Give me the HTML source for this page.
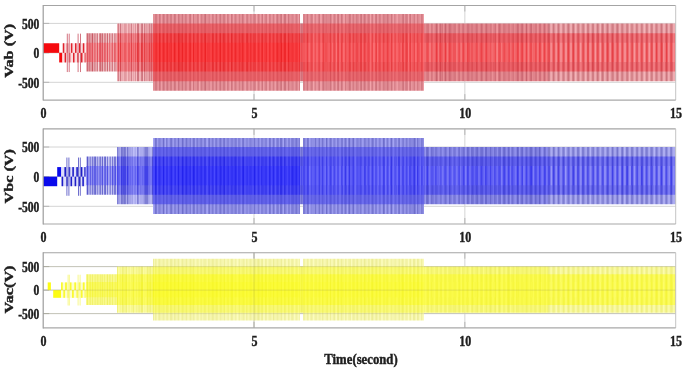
<!DOCTYPE html><html><head><meta charset="utf-8"><style>
html,body{margin:0;padding:0;background:#fff;width:685px;height:371px;overflow:hidden}
svg{position:absolute;left:0;top:0;filter:blur(0.55px)}
text{font-family:"Liberation Serif",serif;font-weight:bold;fill:#1e1e1e;stroke:#1e1e1e;stroke-width:0.45px}
</style></head><body>
<svg width="685" height="371" viewBox="0 0 685 371">
<path stroke="#d4d4d4" stroke-width="1" fill="none" d="M43.2 23.4H675.7M43.2 52.85H675.7M43.2 82.3H675.7M254.03 5.5V100.1M464.87 5.5V100.1"/>
<path fill="none" stroke-width="1" stroke="#b4b4b4" d="M43.2 23.4h6M43.2 52.85h6M43.2 82.3h6M254.03 100.1v-6M254.03 5.5v6M464.87 100.1v-6M464.87 5.5v6"/>
<g><path fill="#ca6e78" d="M205 14h1V90.8h-1z"/>
<path fill="#cf757e" d="M159 14h1V90.8h-1zM163 14h1V90.8h-1zM167 14h1V90.8h-1zM174 14h1V90.8h-1zM178 14h1V90.8h-1zM182 14h1V90.8h-1zM190 14h1V90.8h-1zM193 14h1V90.8h-1zM216 14h1V90.8h-1zM220 14h1V90.8h-1zM231 14h1V90.8h-1zM242 14h1V90.8h-1zM262 14h1V90.8h-1zM277 14h1V90.8h-1zM281 14h1V90.8h-1zM284 14h1V90.8h-1zM285 14h1V90.8h-1zM288 14h1V90.8h-1zM307 14h1V90.8h-1zM319 14h1V90.8h-1zM323 14h1V90.8h-1zM330 14h1V90.8h-1zM338 14h1V90.8h-1zM341 14h1V90.8h-1zM349 14h1V90.8h-1zM361 14h1V90.8h-1zM364 14h1V90.8h-1zM376 14h1V90.8h-1zM387 14h1V90.8h-1zM391 14h1V90.8h-1zM403 14h1V90.8h-1zM410 14h1V90.8h-1z"/>
<path fill="#d47c84" d="M155 14h1V90.8h-1zM156 14h1V90.8h-1zM170 14h1V90.8h-1zM171 14h1V90.8h-1zM175 14h1V90.8h-1zM185 14h1V90.8h-1zM189 14h1V90.8h-1zM197 14h1V90.8h-1zM201 14h1V90.8h-1zM204 14h1V90.8h-1zM212 14h1V90.8h-1zM223 14h1V90.8h-1zM224 14h1V90.8h-1zM227 14h1V90.8h-1zM235 14h1V90.8h-1zM239 14h1V90.8h-1zM247 14h1V90.8h-1zM254 14h1V90.8h-1zM258 14h1V90.8h-1zM266 14h1V90.8h-1zM269 14h1V90.8h-1zM273 14h1V90.8h-1zM280 14h1V90.8h-1zM296 14h1V90.8h-1zM299 14h1V90.8h-1zM311 14h1V90.8h-1zM334 14h1V90.8h-1zM337 14h1V90.8h-1zM345 14h1V90.8h-1zM350 14h1V90.8h-1zM353 14h1V90.8h-1zM356 14h1V90.8h-1zM360 14h1V90.8h-1zM368 14h1V90.8h-1zM372 14h1V90.8h-1zM375 14h1V90.8h-1zM379 14h1V90.8h-1zM383 14h1V90.8h-1zM402 14h1V90.8h-1zM406 14h1V90.8h-1zM414 14h1V90.8h-1zM417 14h1V90.8h-1zM421 14h1V90.8h-1z"/>
<path fill="#d9828b" d="M160 14h1V90.8h-1zM164 14h1V90.8h-1zM166 14h1V90.8h-1zM179 14h1V90.8h-1zM186 14h1V90.8h-1zM198 14h1V90.8h-1zM209 14h1V90.8h-1zM213 14h1V90.8h-1zM219 14h1V90.8h-1zM228 14h1V90.8h-1zM232 14h1V90.8h-1zM243 14h1V90.8h-1zM246 14h1V90.8h-1zM250 14h1V90.8h-1zM253 14h1V90.8h-1zM255 14h1V90.8h-1zM265 14h1V90.8h-1zM270 14h1V90.8h-1zM276 14h1V90.8h-1zM292 14h1V90.8h-1zM303 14h1V90.8h-1zM304 14h1V90.8h-1zM312 14h1V90.8h-1zM315 14h1V90.8h-1zM318 14h1V90.8h-1zM322 14h1V90.8h-1zM326 14h1V90.8h-1zM342 14h1V90.8h-1zM357 14h1V90.8h-1zM365 14h1V90.8h-1zM369 14h1V90.8h-1zM380 14h1V90.8h-1zM384 14h1V90.8h-1zM388 14h1V90.8h-1zM394 14h1V90.8h-1zM405 14h1V90.8h-1zM407 14h1V90.8h-1zM409 14h1V90.8h-1zM422 14h1V90.8h-1z"/>
<path fill="#de8991" d="M162 14h1V90.8h-1zM168 14h1V90.8h-1zM181 14h1V90.8h-1zM202 14h1V90.8h-1zM208 14h1V90.8h-1zM215 14h1V90.8h-1zM234 14h1V90.8h-1zM236 14h1V90.8h-1zM251 14h1V90.8h-1zM259 14h1V90.8h-1zM261 14h1V90.8h-1zM278 14h1V90.8h-1zM289 14h1V90.8h-1zM291 14h1V90.8h-1zM293 14h1V90.8h-1zM295 14h1V90.8h-1zM297 14h1V90.8h-1zM306 14h1V90.8h-1zM310 14h1V90.8h-1zM324 14h1V90.8h-1zM325 14h1V90.8h-1zM327 14h1V90.8h-1zM328 14h1V90.8h-1zM329 14h1V90.8h-1zM331 14h1V90.8h-1zM333 14h1V90.8h-1zM335 14h1V90.8h-1zM348 14h1V90.8h-1zM352 14h1V90.8h-1zM358 14h1V90.8h-1zM363 14h1V90.8h-1zM367 14h1V90.8h-1zM371 14h1V90.8h-1zM385 14h1V90.8h-1zM386 14h1V90.8h-1zM392 14h1V90.8h-1zM395 14h1V90.8h-1zM398 14h1V90.8h-1zM399 14h1V90.8h-1zM413 14h1V90.8h-1zM418 14h1V90.8h-1z"/>
<path fill="#e39097" d="M153 14h1V90.8h-1zM154 14h1V90.8h-1zM157 14h1V90.8h-1zM169 14h1V90.8h-1zM173 14h1V90.8h-1zM180 14h1V90.8h-1zM183 14h1V90.8h-1zM184 14h1V90.8h-1zM194 14h1V90.8h-1zM195 14h1V90.8h-1zM196 14h1V90.8h-1zM200 14h1V90.8h-1zM203 14h1V90.8h-1zM206 14h1V90.8h-1zM207 14h1V90.8h-1zM217 14h1V90.8h-1zM221 14h1V90.8h-1zM222 14h1V90.8h-1zM225 14h1V90.8h-1zM238 14h1V90.8h-1zM240 14h1V90.8h-1zM241 14h1V90.8h-1zM248 14h1V90.8h-1zM257 14h1V90.8h-1zM264 14h1V90.8h-1zM272 14h1V90.8h-1zM274 14h1V90.8h-1zM279 14h1V90.8h-1zM283 14h1V90.8h-1zM290 14h1V90.8h-1zM305 14h1V90.8h-1zM308 14h1V90.8h-1zM314 14h1V90.8h-1zM346 14h1V90.8h-1zM347 14h1V90.8h-1zM354 14h1V90.8h-1zM355 14h1V90.8h-1zM378 14h1V90.8h-1zM382 14h1V90.8h-1zM389 14h1V90.8h-1zM390 14h1V90.8h-1zM400 14h1V90.8h-1zM401 14h1V90.8h-1zM412 14h1V90.8h-1zM419 14h1V90.8h-1z"/>
<path fill="#e8969e" d="M158 14h1V90.8h-1zM165 14h1V90.8h-1zM172 14h1V90.8h-1zM176 14h1V90.8h-1zM177 14h1V90.8h-1zM187 14h1V90.8h-1zM188 14h1V90.8h-1zM191 14h1V90.8h-1zM210 14h1V90.8h-1zM211 14h1V90.8h-1zM214 14h1V90.8h-1zM218 14h1V90.8h-1zM229 14h1V90.8h-1zM237 14h1V90.8h-1zM244 14h1V90.8h-1zM249 14h1V90.8h-1zM252 14h1V90.8h-1zM271 14h1V90.8h-1zM286 14h1V90.8h-1zM287 14h1V90.8h-1zM294 14h1V90.8h-1zM309 14h1V90.8h-1zM316 14h1V90.8h-1zM317 14h1V90.8h-1zM339 14h1V90.8h-1zM340 14h1V90.8h-1zM351 14h1V90.8h-1zM359 14h1V90.8h-1zM362 14h1V90.8h-1zM366 14h1V90.8h-1zM373 14h1V90.8h-1zM377 14h1V90.8h-1zM381 14h1V90.8h-1zM396 14h1V90.8h-1zM404 14h1V90.8h-1zM411 14h1V90.8h-1zM415 14h1V90.8h-1zM416 14h1V90.8h-1zM420 14h1V90.8h-1z"/>
<path fill="#ed9da4" d="M161 14h1V90.8h-1zM192 14h1V90.8h-1zM226 14h1V90.8h-1zM230 14h1V90.8h-1zM233 14h1V90.8h-1zM245 14h1V90.8h-1zM260 14h1V90.8h-1zM263 14h1V90.8h-1zM267 14h1V90.8h-1zM268 14h1V90.8h-1zM275 14h1V90.8h-1zM282 14h1V90.8h-1zM298 14h1V90.8h-1zM320 14h1V90.8h-1zM321 14h1V90.8h-1zM332 14h1V90.8h-1zM336 14h1V90.8h-1zM343 14h1V90.8h-1zM344 14h1V90.8h-1zM374 14h1V90.8h-1zM393 14h1V90.8h-1zM397 14h1V90.8h-1zM423 14h1V90.8h-1z"/>
<path fill="#f2a4aa" d="M199 14h1V90.8h-1zM256 14h1V90.8h-1zM313 14h1V90.8h-1zM370 14h1V90.8h-1zM408 14h1V90.8h-1z"/>
<path fill="#c8646e" d="M436 23.6h1V81.2h-1zM445 23.6h1V81.2h-1zM526 23.6h1V81.2h-1z"/>
<path fill="#cc767e" d="M548 23.6h1V81.2h-1zM553 23.6h1V81.2h-1zM558 23.6h1V81.2h-1zM568 23.6h1V81.2h-1zM573 23.6h1V81.2h-1zM597 23.6h1V81.2h-1zM602 23.6h1V81.2h-1zM607 23.6h1V81.2h-1zM617 23.6h1V81.2h-1zM661 23.6h1V81.2h-1zM666 23.6h1V81.2h-1z"/>
<path fill="#cd6a74" d="M440 23.6h1V81.2h-1zM449 23.6h1V81.2h-1zM481 23.6h1V81.2h-1zM486 23.6h1V81.2h-1zM499 23.6h1V81.2h-1zM517 23.6h1V81.2h-1zM522 23.6h1V81.2h-1zM531 23.6h1V81.2h-1zM544 23.6h1V81.2h-1z"/>
<path fill="#ce7680" d="M120 23.6h1V81.2h-1zM137 23.6h1V81.2h-1zM138 23.6h1V81.2h-1zM142 23.6h1V81.2h-1z"/>
<path fill="#d17e85" d="M549 23.6h1V81.2h-1zM563 23.6h1V81.2h-1zM578 23.6h1V81.2h-1zM583 23.6h1V81.2h-1zM587 23.6h1V81.2h-1zM588 23.6h1V81.2h-1zM592 23.6h1V81.2h-1zM593 23.6h1V81.2h-1zM612 23.6h1V81.2h-1zM622 23.6h1V81.2h-1zM627 23.6h1V81.2h-1zM636 23.6h1V81.2h-1zM641 23.6h1V81.2h-1zM646 23.6h1V81.2h-1zM651 23.6h1V81.2h-1zM656 23.6h1V81.2h-1zM671 23.6h1V81.2h-1z"/>
<path fill="#d2707a" d="M301 23.6h1V81.2h-1zM450 23.6h1V81.2h-1zM459 23.6h1V81.2h-1zM463 23.6h1V81.2h-1zM467 23.6h1V81.2h-1zM468 23.6h1V81.2h-1zM476 23.6h1V81.2h-1zM495 23.6h1V81.2h-1zM518 23.6h1V81.2h-1zM521 23.6h1V81.2h-1zM530 23.6h1V81.2h-1zM539 23.6h1V81.2h-1zM540 23.6h1V81.2h-1z"/>
<path fill="#d37f88" d="M118 23.6h1V81.2h-1zM131 23.6h1V81.2h-1zM141 23.6h1V81.2h-1zM144 23.6h1V81.2h-1zM149 23.6h1V81.2h-1zM151 23.6h1V81.2h-1z"/>
<path fill="#d6777f" d="M302 23.6h1V81.2h-1zM427 23.6h1V81.2h-1zM428 23.6h1V81.2h-1zM431 23.6h1V81.2h-1zM437 23.6h1V81.2h-1zM442 23.6h1V81.2h-1zM454 23.6h1V81.2h-1zM455 23.6h1V81.2h-1zM458 23.6h1V81.2h-1zM462 23.6h1V81.2h-1zM471 23.6h1V81.2h-1zM472 23.6h1V81.2h-1zM477 23.6h1V81.2h-1zM482 23.6h1V81.2h-1zM485 23.6h1V81.2h-1zM490 23.6h1V81.2h-1zM498 23.6h1V81.2h-1zM500 23.6h1V81.2h-1zM503 23.6h1V81.2h-1zM504 23.6h1V81.2h-1zM508 23.6h1V81.2h-1zM509 23.6h1V81.2h-1zM513 23.6h1V81.2h-1zM535 23.6h1V81.2h-1zM536 23.6h1V81.2h-1z"/>
<path fill="#d6868c" d="M567 23.6h1V81.2h-1zM572 23.6h1V81.2h-1zM577 23.6h1V81.2h-1zM582 23.6h1V81.2h-1zM598 23.6h1V81.2h-1zM603 23.6h1V81.2h-1zM613 23.6h1V81.2h-1zM616 23.6h1V81.2h-1zM621 23.6h1V81.2h-1zM626 23.6h1V81.2h-1zM631 23.6h1V81.2h-1zM632 23.6h1V81.2h-1zM637 23.6h1V81.2h-1zM642 23.6h1V81.2h-1zM647 23.6h1V81.2h-1zM652 23.6h1V81.2h-1zM670 23.6h1V81.2h-1zM675 23.6h0.7V81.2h-0.7z"/>
<path fill="#d8525a" d="M330 23.6h1V81.2h-1zM338 23.6h1V81.2h-1zM364 23.6h1V81.2h-1z"/>
<path fill="#da5057" d="M159 23.6h1V81.2h-1zM182 23.6h1V81.2h-1z"/>
<path fill="#db565e" d="M307 23.6h1V81.2h-1zM323 23.6h1V81.2h-1zM334 23.6h1V81.2h-1zM349 23.6h1V81.2h-1zM353 23.6h1V81.2h-1zM361 23.6h1V81.2h-1zM376 23.6h1V81.2h-1zM383 23.6h1V81.2h-1zM387 23.6h1V81.2h-1zM406 23.6h1V81.2h-1zM410 23.6h1V81.2h-1z"/>
<path fill="#db7d85" d="M426 23.6h1V81.2h-1zM432 23.6h1V81.2h-1zM435 23.6h1V81.2h-1zM439 23.6h1V81.2h-1zM441 23.6h1V81.2h-1zM444 23.6h1V81.2h-1zM446 23.6h1V81.2h-1zM448 23.6h1V81.2h-1zM451 23.6h1V81.2h-1zM453 23.6h1V81.2h-1zM469 23.6h1V81.2h-1zM475 23.6h1V81.2h-1zM480 23.6h1V81.2h-1zM487 23.6h1V81.2h-1zM491 23.6h1V81.2h-1zM494 23.6h1V81.2h-1zM505 23.6h1V81.2h-1zM512 23.6h1V81.2h-1zM516 23.6h1V81.2h-1zM543 23.6h1V81.2h-1zM545 23.6h1V81.2h-1z"/>
<path fill="#db8d94" d="M554 23.6h1V81.2h-1zM557 23.6h1V81.2h-1zM559 23.6h1V81.2h-1zM562 23.6h1V81.2h-1zM564 23.6h1V81.2h-1zM569 23.6h1V81.2h-1zM601 23.6h1V81.2h-1zM606 23.6h1V81.2h-1zM608 23.6h1V81.2h-1zM611 23.6h1V81.2h-1zM618 23.6h1V81.2h-1zM655 23.6h1V81.2h-1zM657 23.6h1V81.2h-1zM660 23.6h1V81.2h-1zM662 23.6h1V81.2h-1zM667 23.6h1V81.2h-1zM672 23.6h1V81.2h-1z"/>
<path fill="#dd535a" d="M163 23.6h1V81.2h-1zM167 23.6h1V81.2h-1zM174 23.6h1V81.2h-1zM178 23.6h1V81.2h-1zM190 23.6h1V81.2h-1zM193 23.6h1V81.2h-1zM205 23.6h1V81.2h-1zM212 23.6h1V81.2h-1zM216 23.6h1V81.2h-1zM220 23.6h1V81.2h-1zM231 23.6h1V81.2h-1zM235 23.6h1V81.2h-1zM262 23.6h1V81.2h-1zM273 23.6h1V81.2h-1zM277 23.6h1V81.2h-1zM281 23.6h1V81.2h-1zM285 23.6h1V81.2h-1zM288 23.6h1V81.2h-1z"/>
<path fill="#dd9199" d="M135 23.6h1V81.2h-1z"/>
<path fill="#de5a62" d="M311 23.6h1V81.2h-1zM319 23.6h1V81.2h-1zM337 23.6h1V81.2h-1zM341 23.6h1V81.2h-1zM345 23.6h1V81.2h-1zM356 23.6h1V81.2h-1zM360 23.6h1V81.2h-1zM368 23.6h1V81.2h-1zM372 23.6h1V81.2h-1zM379 23.6h1V81.2h-1zM380 23.6h1V81.2h-1zM391 23.6h1V81.2h-1zM402 23.6h1V81.2h-1zM403 23.6h1V81.2h-1zM414 23.6h1V81.2h-1zM417 23.6h1V81.2h-1zM421 23.6h1V81.2h-1zM422 23.6h1V81.2h-1z"/>
<path fill="#df565d" d="M155 23.6h1V81.2h-1zM156 23.6h1V81.2h-1zM170 23.6h1V81.2h-1zM171 23.6h1V81.2h-1zM179 23.6h1V81.2h-1zM185 23.6h1V81.2h-1zM186 23.6h1V81.2h-1zM197 23.6h1V81.2h-1zM198 23.6h1V81.2h-1zM201 23.6h1V81.2h-1zM204 23.6h1V81.2h-1zM223 23.6h1V81.2h-1zM224 23.6h1V81.2h-1zM227 23.6h1V81.2h-1zM228 23.6h1V81.2h-1zM239 23.6h1V81.2h-1zM242 23.6h1V81.2h-1zM247 23.6h1V81.2h-1zM266 23.6h1V81.2h-1zM269 23.6h1V81.2h-1zM284 23.6h1V81.2h-1z"/>
<path fill="#e0838b" d="M300 23.6h1V81.2h-1zM424 23.6h1V81.2h-1zM452 23.6h1V81.2h-1zM464 23.6h1V81.2h-1zM466 23.6h1V81.2h-1zM470 23.6h1V81.2h-1zM473 23.6h1V81.2h-1zM474 23.6h1V81.2h-1zM488 23.6h1V81.2h-1zM489 23.6h1V81.2h-1zM493 23.6h1V81.2h-1zM506 23.6h1V81.2h-1zM507 23.6h1V81.2h-1zM511 23.6h1V81.2h-1zM515 23.6h1V81.2h-1zM520 23.6h1V81.2h-1zM523 23.6h1V81.2h-1zM525 23.6h1V81.2h-1zM527 23.6h1V81.2h-1zM529 23.6h1V81.2h-1zM533 23.6h1V81.2h-1zM534 23.6h1V81.2h-1zM547 23.6h1V81.2h-1z"/>
<path fill="#e0959b" d="M552 23.6h1V81.2h-1zM574 23.6h1V81.2h-1zM579 23.6h1V81.2h-1zM584 23.6h1V81.2h-1zM596 23.6h1V81.2h-1zM623 23.6h1V81.2h-1zM628 23.6h1V81.2h-1zM650 23.6h1V81.2h-1zM665 23.6h1V81.2h-1z"/>
<path fill="#e15e66" d="M312 23.6h1V81.2h-1zM315 23.6h1V81.2h-1zM318 23.6h1V81.2h-1zM322 23.6h1V81.2h-1zM326 23.6h1V81.2h-1zM333 23.6h1V81.2h-1zM342 23.6h1V81.2h-1zM348 23.6h1V81.2h-1zM350 23.6h1V81.2h-1zM357 23.6h1V81.2h-1zM365 23.6h1V81.2h-1zM367 23.6h1V81.2h-1zM369 23.6h1V81.2h-1zM375 23.6h1V81.2h-1zM384 23.6h1V81.2h-1zM388 23.6h1V81.2h-1zM394 23.6h1V81.2h-1zM398 23.6h1V81.2h-1zM399 23.6h1V81.2h-1zM405 23.6h1V81.2h-1zM407 23.6h1V81.2h-1zM409 23.6h1V81.2h-1z"/>
<path fill="#e25a60" d="M160 23.6h1V81.2h-1zM164 23.6h1V81.2h-1zM166 23.6h1V81.2h-1zM175 23.6h1V81.2h-1zM189 23.6h1V81.2h-1zM213 23.6h1V81.2h-1zM219 23.6h1V81.2h-1zM232 23.6h1V81.2h-1zM243 23.6h1V81.2h-1zM246 23.6h1V81.2h-1zM250 23.6h1V81.2h-1zM254 23.6h1V81.2h-1zM255 23.6h1V81.2h-1zM258 23.6h1V81.2h-1zM270 23.6h1V81.2h-1zM280 23.6h1V81.2h-1zM291 23.6h1V81.2h-1zM292 23.6h1V81.2h-1zM296 23.6h1V81.2h-1zM299 23.6h1V81.2h-1z"/>
<path fill="#e29aa1" d="M124 23.6h1V81.2h-1zM125 23.6h1V81.2h-1zM128 23.6h1V81.2h-1zM146 23.6h1V81.2h-1z"/>
<path fill="#e45d64" d="M154 23.6h1V81.2h-1zM162 23.6h1V81.2h-1zM168 23.6h1V81.2h-1zM173 23.6h1V81.2h-1zM181 23.6h1V81.2h-1zM194 23.6h1V81.2h-1zM202 23.6h1V81.2h-1zM208 23.6h1V81.2h-1zM209 23.6h1V81.2h-1zM215 23.6h1V81.2h-1zM217 23.6h1V81.2h-1zM234 23.6h1V81.2h-1zM236 23.6h1V81.2h-1zM248 23.6h1V81.2h-1zM251 23.6h1V81.2h-1zM253 23.6h1V81.2h-1zM257 23.6h1V81.2h-1zM259 23.6h1V81.2h-1zM261 23.6h1V81.2h-1zM265 23.6h1V81.2h-1zM276 23.6h1V81.2h-1zM278 23.6h1V81.2h-1zM289 23.6h1V81.2h-1zM297 23.6h1V81.2h-1z"/>
<path fill="#e4626a" d="M303 23.6h1V81.2h-1zM304 23.6h1V81.2h-1zM306 23.6h1V81.2h-1zM308 23.6h1V81.2h-1zM310 23.6h1V81.2h-1zM325 23.6h1V81.2h-1zM346 23.6h1V81.2h-1zM352 23.6h1V81.2h-1zM358 23.6h1V81.2h-1zM363 23.6h1V81.2h-1zM371 23.6h1V81.2h-1zM378 23.6h1V81.2h-1zM386 23.6h1V81.2h-1zM392 23.6h1V81.2h-1zM395 23.6h1V81.2h-1zM400 23.6h1V81.2h-1zM413 23.6h1V81.2h-1zM418 23.6h1V81.2h-1zM419 23.6h1V81.2h-1z"/>
<path fill="#e48a90" d="M425 23.6h1V81.2h-1zM434 23.6h1V81.2h-1zM447 23.6h1V81.2h-1zM457 23.6h1V81.2h-1zM460 23.6h1V81.2h-1zM461 23.6h1V81.2h-1zM465 23.6h1V81.2h-1zM478 23.6h1V81.2h-1zM479 23.6h1V81.2h-1zM483 23.6h1V81.2h-1zM484 23.6h1V81.2h-1zM501 23.6h1V81.2h-1zM502 23.6h1V81.2h-1zM510 23.6h1V81.2h-1zM514 23.6h1V81.2h-1zM519 23.6h1V81.2h-1zM532 23.6h1V81.2h-1zM538 23.6h1V81.2h-1zM541 23.6h1V81.2h-1z"/>
<path fill="#e59da2" d="M581 23.6h1V81.2h-1zM589 23.6h1V81.2h-1zM591 23.6h1V81.2h-1zM630 23.6h1V81.2h-1zM633 23.6h1V81.2h-1zM635 23.6h1V81.2h-1zM640 23.6h1V81.2h-1zM645 23.6h1V81.2h-1z"/>
<path fill="#e76067" d="M153 23.6h1V81.2h-1zM157 23.6h1V81.2h-1zM169 23.6h1V81.2h-1zM177 23.6h1V81.2h-1zM180 23.6h1V81.2h-1zM183 23.6h1V81.2h-1zM184 23.6h1V81.2h-1zM195 23.6h1V81.2h-1zM200 23.6h1V81.2h-1zM203 23.6h1V81.2h-1zM206 23.6h1V81.2h-1zM207 23.6h1V81.2h-1zM210 23.6h1V81.2h-1zM221 23.6h1V81.2h-1zM222 23.6h1V81.2h-1zM225 23.6h1V81.2h-1zM238 23.6h1V81.2h-1zM240 23.6h1V81.2h-1zM241 23.6h1V81.2h-1zM249 23.6h1V81.2h-1zM264 23.6h1V81.2h-1zM272 23.6h1V81.2h-1zM274 23.6h1V81.2h-1zM279 23.6h1V81.2h-1zM283 23.6h1V81.2h-1zM287 23.6h1V81.2h-1zM290 23.6h1V81.2h-1zM293 23.6h1V81.2h-1zM295 23.6h1V81.2h-1z"/>
<path fill="#e7676d" d="M314 23.6h1V81.2h-1zM324 23.6h1V81.2h-1zM327 23.6h1V81.2h-1zM328 23.6h1V81.2h-1zM329 23.6h1V81.2h-1zM331 23.6h1V81.2h-1zM335 23.6h1V81.2h-1zM347 23.6h1V81.2h-1zM354 23.6h1V81.2h-1zM355 23.6h1V81.2h-1zM359 23.6h1V81.2h-1zM366 23.6h1V81.2h-1zM381 23.6h1V81.2h-1zM382 23.6h1V81.2h-1zM385 23.6h1V81.2h-1zM389 23.6h1V81.2h-1zM390 23.6h1V81.2h-1zM401 23.6h1V81.2h-1zM412 23.6h1V81.2h-1zM420 23.6h1V81.2h-1z"/>
<path fill="#e7a3a9" d="M126 23.6h1V81.2h-1zM129 23.6h1V81.2h-1zM133 23.6h1V81.2h-1zM145 23.6h1V81.2h-1zM147 23.6h1V81.2h-1zM148 23.6h1V81.2h-1zM150 23.6h1V81.2h-1zM152 23.6h1V81.2h-1z"/>
<path fill="#e99096" d="M429 23.6h1V81.2h-1zM430 23.6h1V81.2h-1zM433 23.6h1V81.2h-1zM443 23.6h1V81.2h-1zM456 23.6h1V81.2h-1zM492 23.6h1V81.2h-1zM496 23.6h1V81.2h-1zM524 23.6h1V81.2h-1zM528 23.6h1V81.2h-1zM537 23.6h1V81.2h-1zM542 23.6h1V81.2h-1zM546 23.6h1V81.2h-1z"/>
<path fill="#ea646a" d="M158 23.6h1V81.2h-1zM165 23.6h1V81.2h-1zM176 23.6h1V81.2h-1zM187 23.6h1V81.2h-1zM188 23.6h1V81.2h-1zM191 23.6h1V81.2h-1zM196 23.6h1V81.2h-1zM211 23.6h1V81.2h-1zM214 23.6h1V81.2h-1zM229 23.6h1V81.2h-1zM237 23.6h1V81.2h-1zM244 23.6h1V81.2h-1zM252 23.6h1V81.2h-1zM268 23.6h1V81.2h-1zM271 23.6h1V81.2h-1zM282 23.6h1V81.2h-1zM286 23.6h1V81.2h-1zM294 23.6h1V81.2h-1z"/>
<path fill="#ea6b71" d="M305 23.6h1V81.2h-1zM309 23.6h1V81.2h-1zM316 23.6h1V81.2h-1zM317 23.6h1V81.2h-1zM320 23.6h1V81.2h-1zM332 23.6h1V81.2h-1zM339 23.6h1V81.2h-1zM351 23.6h1V81.2h-1zM362 23.6h1V81.2h-1zM373 23.6h1V81.2h-1zM377 23.6h1V81.2h-1zM396 23.6h1V81.2h-1zM397 23.6h1V81.2h-1zM404 23.6h1V81.2h-1zM411 23.6h1V81.2h-1zM415 23.6h1V81.2h-1zM416 23.6h1V81.2h-1z"/>
<path fill="#eaa4aa" d="M550 23.6h1V81.2h-1zM555 23.6h1V81.2h-1zM566 23.6h1V81.2h-1zM576 23.6h1V81.2h-1zM586 23.6h1V81.2h-1zM594 23.6h1V81.2h-1zM599 23.6h1V81.2h-1zM605 23.6h1V81.2h-1zM610 23.6h1V81.2h-1zM614 23.6h1V81.2h-1zM615 23.6h1V81.2h-1zM620 23.6h1V81.2h-1zM624 23.6h1V81.2h-1zM625 23.6h1V81.2h-1zM638 23.6h1V81.2h-1zM643 23.6h1V81.2h-1zM648 23.6h1V81.2h-1zM658 23.6h1V81.2h-1zM659 23.6h1V81.2h-1zM669 23.6h1V81.2h-1z"/>
<path fill="#ec676d" d="M172 23.6h1V81.2h-1zM192 23.6h1V81.2h-1zM199 23.6h1V81.2h-1zM218 23.6h1V81.2h-1zM226 23.6h1V81.2h-1zM230 23.6h1V81.2h-1zM233 23.6h1V81.2h-1zM245 23.6h1V81.2h-1zM260 23.6h1V81.2h-1zM263 23.6h1V81.2h-1zM267 23.6h1V81.2h-1zM275 23.6h1V81.2h-1zM298 23.6h1V81.2h-1z"/>
<path fill="#ecacb2" d="M117 23.6h1V81.2h-1zM121 23.6h1V81.2h-1zM122 23.6h1V81.2h-1zM130 23.6h1V81.2h-1z"/>
<path fill="#ed6f75" d="M313 23.6h1V81.2h-1zM321 23.6h1V81.2h-1zM340 23.6h1V81.2h-1zM343 23.6h1V81.2h-1zM344 23.6h1V81.2h-1zM374 23.6h1V81.2h-1zM393 23.6h1V81.2h-1zM408 23.6h1V81.2h-1zM423 23.6h1V81.2h-1z"/>
<path fill="#ee969c" d="M438 23.6h1V81.2h-1zM497 23.6h1V81.2h-1z"/>
<path fill="#ef6a70" d="M161 23.6h1V81.2h-1zM256 23.6h1V81.2h-1z"/>
<path fill="#efacb1" d="M551 23.6h1V81.2h-1zM556 23.6h1V81.2h-1zM560 23.6h1V81.2h-1zM561 23.6h1V81.2h-1zM565 23.6h1V81.2h-1zM570 23.6h1V81.2h-1zM571 23.6h1V81.2h-1zM580 23.6h1V81.2h-1zM590 23.6h1V81.2h-1zM595 23.6h1V81.2h-1zM604 23.6h1V81.2h-1zM609 23.6h1V81.2h-1zM619 23.6h1V81.2h-1zM634 23.6h1V81.2h-1zM639 23.6h1V81.2h-1zM653 23.6h1V81.2h-1zM654 23.6h1V81.2h-1zM663 23.6h1V81.2h-1zM664 23.6h1V81.2h-1zM668 23.6h1V81.2h-1zM673 23.6h1V81.2h-1zM674 23.6h1V81.2h-1z"/>
<path fill="#f07379" d="M336 23.6h1V81.2h-1zM370 23.6h1V81.2h-1z"/>
<path fill="#f1b5ba" d="M119 23.6h1V81.2h-1zM123 23.6h1V81.2h-1zM132 23.6h1V81.2h-1zM134 23.6h1V81.2h-1zM139 23.6h1V81.2h-1zM140 23.6h1V81.2h-1z"/>
<path fill="#f4b4b8" d="M575 23.6h1V81.2h-1zM585 23.6h1V81.2h-1zM600 23.6h1V81.2h-1zM629 23.6h1V81.2h-1zM644 23.6h1V81.2h-1zM649 23.6h1V81.2h-1z"/>
<path fill="#f6bec2" d="M127 23.6h1V81.2h-1zM136 23.6h1V81.2h-1zM143 23.6h1V81.2h-1z"/>
<path fill="#c85a64" d="M92 33.2h1V71.6h-1z"/>
<path fill="#ce6a73" d="M87 33.2h1V71.6h-1zM100 33.2h1V71.6h-1zM102 33.2h1V71.6h-1zM107 33.2h1V71.6h-1z"/>
<path fill="#d47982" d="M89 33.2h1V71.6h-1zM97 33.2h1V71.6h-1zM109 33.2h1V71.6h-1zM112 33.2h1V71.6h-1z"/>
<path fill="#d64048" d="M436 33.2h1V71.6h-1zM440 33.2h1V71.6h-1zM445 33.2h1V71.6h-1zM486 33.2h1V71.6h-1zM526 33.2h1V71.6h-1z"/>
<path fill="#d64850" d="M120 33.2h1V71.6h-1zM138 33.2h1V71.6h-1zM144 33.2h1V71.6h-1z"/>
<path fill="#d8464e" d="M548 33.2h1V71.6h-1zM558 33.2h1V71.6h-1zM568 33.2h1V71.6h-1zM573 33.2h1V71.6h-1zM588 33.2h1V71.6h-1zM592 33.2h1V71.6h-1zM607 33.2h1V71.6h-1zM612 33.2h1V71.6h-1zM661 33.2h1V71.6h-1zM666 33.2h1V71.6h-1z"/>
<path fill="#da464e" d="M449 33.2h1V71.6h-1zM463 33.2h1V71.6h-1zM467 33.2h1V71.6h-1zM476 33.2h1V71.6h-1zM481 33.2h1V71.6h-1zM499 33.2h1V71.6h-1zM517 33.2h1V71.6h-1zM521 33.2h1V71.6h-1zM522 33.2h1V71.6h-1zM544 33.2h1V71.6h-1z"/>
<path fill="#da5058" d="M118 33.2h1V71.6h-1zM131 33.2h1V71.6h-1zM137 33.2h1V71.6h-1zM141 33.2h1V71.6h-1zM142 33.2h1V71.6h-1zM151 33.2h1V71.6h-1z"/>
<path fill="#da8990" d="M94 33.2h1V71.6h-1zM99 33.2h1V71.6h-1zM104 33.2h1V71.6h-1zM105 33.2h1V71.6h-1zM114 33.2h1V71.6h-1z"/>
<path fill="#dc4d55" d="M549 33.2h1V71.6h-1zM553 33.2h1V71.6h-1zM563 33.2h1V71.6h-1zM578 33.2h1V71.6h-1zM583 33.2h1V71.6h-1zM587 33.2h1V71.6h-1zM593 33.2h1V71.6h-1zM597 33.2h1V71.6h-1zM598 33.2h1V71.6h-1zM602 33.2h1V71.6h-1zM617 33.2h1V71.6h-1zM622 33.2h1V71.6h-1zM627 33.2h1V71.6h-1zM632 33.2h1V71.6h-1zM636 33.2h1V71.6h-1zM641 33.2h1V71.6h-1zM646 33.2h1V71.6h-1zM651 33.2h1V71.6h-1zM656 33.2h1V71.6h-1zM671 33.2h1V71.6h-1z"/>
<path fill="#dd4c53" d="M301 33.2h1V71.6h-1zM427 33.2h1V71.6h-1zM428 33.2h1V71.6h-1zM450 33.2h1V71.6h-1zM468 33.2h1V71.6h-1zM472 33.2h1V71.6h-1zM495 33.2h1V71.6h-1zM513 33.2h1V71.6h-1zM518 33.2h1V71.6h-1zM530 33.2h1V71.6h-1zM531 33.2h1V71.6h-1zM535 33.2h1V71.6h-1zM539 33.2h1V71.6h-1zM540 33.2h1V71.6h-1z"/>
<path fill="#de5960" d="M149 33.2h1V71.6h-1z"/>
<path fill="#df545c" d="M554 33.2h1V71.6h-1zM557 33.2h1V71.6h-1zM567 33.2h1V71.6h-1zM572 33.2h1V71.6h-1zM577 33.2h1V71.6h-1zM616 33.2h1V71.6h-1zM626 33.2h1V71.6h-1zM631 33.2h1V71.6h-1zM637 33.2h1V71.6h-1zM642 33.2h1V71.6h-1zM647 33.2h1V71.6h-1zM652 33.2h1V71.6h-1zM670 33.2h1V71.6h-1zM675 33.2h0.7V71.6h-0.7z"/>
<path fill="#e0989f" d="M88 33.2h1V71.6h-1zM90 33.2h1V71.6h-1zM91 33.2h1V71.6h-1zM95 33.2h1V71.6h-1zM101 33.2h1V71.6h-1zM115 33.2h1V71.6h-1z"/>
<path fill="#e15158" d="M302 33.2h1V71.6h-1zM426 33.2h1V71.6h-1zM431 33.2h1V71.6h-1zM437 33.2h1V71.6h-1zM444 33.2h1V71.6h-1zM453 33.2h1V71.6h-1zM454 33.2h1V71.6h-1zM455 33.2h1V71.6h-1zM458 33.2h1V71.6h-1zM459 33.2h1V71.6h-1zM462 33.2h1V71.6h-1zM471 33.2h1V71.6h-1zM477 33.2h1V71.6h-1zM482 33.2h1V71.6h-1zM485 33.2h1V71.6h-1zM490 33.2h1V71.6h-1zM498 33.2h1V71.6h-1zM503 33.2h1V71.6h-1zM504 33.2h1V71.6h-1zM508 33.2h1V71.6h-1zM509 33.2h1V71.6h-1zM512 33.2h1V71.6h-1zM536 33.2h1V71.6h-1z"/>
<path fill="#e35c63" d="M559 33.2h1V71.6h-1zM562 33.2h1V71.6h-1zM564 33.2h1V71.6h-1zM569 33.2h1V71.6h-1zM582 33.2h1V71.6h-1zM601 33.2h1V71.6h-1zM603 33.2h1V71.6h-1zM606 33.2h1V71.6h-1zM608 33.2h1V71.6h-1zM611 33.2h1V71.6h-1zM613 33.2h1V71.6h-1zM618 33.2h1V71.6h-1zM621 33.2h1V71.6h-1zM655 33.2h1V71.6h-1zM657 33.2h1V71.6h-1zM660 33.2h1V71.6h-1zM662 33.2h1V71.6h-1zM665 33.2h1V71.6h-1zM667 33.2h1V71.6h-1zM672 33.2h1V71.6h-1z"/>
<path fill="#e4373c" d="M307 33.2h1V71.6h-1z"/>
<path fill="#e4575e" d="M432 33.2h1V71.6h-1zM435 33.2h1V71.6h-1zM439 33.2h1V71.6h-1zM441 33.2h1V71.6h-1zM442 33.2h1V71.6h-1zM448 33.2h1V71.6h-1zM451 33.2h1V71.6h-1zM469 33.2h1V71.6h-1zM480 33.2h1V71.6h-1zM487 33.2h1V71.6h-1zM491 33.2h1V71.6h-1zM493 33.2h1V71.6h-1zM494 33.2h1V71.6h-1zM500 33.2h1V71.6h-1zM516 33.2h1V71.6h-1zM543 33.2h1V71.6h-1zM545 33.2h1V71.6h-1zM547 33.2h1V71.6h-1z"/>
<path fill="#e52a2e" d="M159 33.2h1V71.6h-1zM178 33.2h1V71.6h-1zM205 33.2h1V71.6h-1zM220 33.2h1V71.6h-1zM231 33.2h1V71.6h-1z"/>
<path fill="#e56a71" d="M125 33.2h1V71.6h-1zM128 33.2h1V71.6h-1zM135 33.2h1V71.6h-1zM146 33.2h1V71.6h-1zM150 33.2h1V71.6h-1z"/>
<path fill="#e63e42" d="M323 33.2h1V71.6h-1zM330 33.2h1V71.6h-1zM338 33.2h1V71.6h-1zM349 33.2h1V71.6h-1zM353 33.2h1V71.6h-1zM360 33.2h1V71.6h-1zM361 33.2h1V71.6h-1zM364 33.2h1V71.6h-1zM383 33.2h1V71.6h-1zM387 33.2h1V71.6h-1zM391 33.2h1V71.6h-1zM403 33.2h1V71.6h-1zM406 33.2h1V71.6h-1zM410 33.2h1V71.6h-1z"/>
<path fill="#e6636a" d="M552 33.2h1V71.6h-1zM574 33.2h1V71.6h-1zM579 33.2h1V71.6h-1zM584 33.2h1V71.6h-1zM596 33.2h1V71.6h-1zM623 33.2h1V71.6h-1zM650 33.2h1V71.6h-1z"/>
<path fill="#e6a8ae" d="M93 33.2h1V71.6h-1zM96 33.2h1V71.6h-1zM110 33.2h1V71.6h-1zM111 33.2h1V71.6h-1zM116 33.2h1V71.6h-1z"/>
<path fill="#e72f33" d="M163 33.2h1V71.6h-1zM167 33.2h1V71.6h-1zM174 33.2h1V71.6h-1zM182 33.2h1V71.6h-1zM193 33.2h1V71.6h-1zM212 33.2h1V71.6h-1zM216 33.2h1V71.6h-1zM223 33.2h1V71.6h-1zM242 33.2h1V71.6h-1zM247 33.2h1V71.6h-1zM262 33.2h1V71.6h-1zM281 33.2h1V71.6h-1zM284 33.2h1V71.6h-1zM285 33.2h1V71.6h-1zM288 33.2h1V71.6h-1z"/>
<path fill="#e85d64" d="M300 33.2h1V71.6h-1zM425 33.2h1V71.6h-1zM446 33.2h1V71.6h-1zM452 33.2h1V71.6h-1zM464 33.2h1V71.6h-1zM466 33.2h1V71.6h-1zM470 33.2h1V71.6h-1zM473 33.2h1V71.6h-1zM474 33.2h1V71.6h-1zM475 33.2h1V71.6h-1zM483 33.2h1V71.6h-1zM488 33.2h1V71.6h-1zM489 33.2h1V71.6h-1zM502 33.2h1V71.6h-1zM505 33.2h1V71.6h-1zM507 33.2h1V71.6h-1zM511 33.2h1V71.6h-1zM515 33.2h1V71.6h-1zM520 33.2h1V71.6h-1zM523 33.2h1V71.6h-1zM525 33.2h1V71.6h-1zM527 33.2h1V71.6h-1zM529 33.2h1V71.6h-1zM532 33.2h1V71.6h-1zM534 33.2h1V71.6h-1z"/>
<path fill="#e94449" d="M311 33.2h1V71.6h-1zM319 33.2h1V71.6h-1zM334 33.2h1V71.6h-1zM337 33.2h1V71.6h-1zM341 33.2h1V71.6h-1zM342 33.2h1V71.6h-1zM345 33.2h1V71.6h-1zM350 33.2h1V71.6h-1zM356 33.2h1V71.6h-1zM365 33.2h1V71.6h-1zM368 33.2h1V71.6h-1zM372 33.2h1V71.6h-1zM375 33.2h1V71.6h-1zM376 33.2h1V71.6h-1zM379 33.2h1V71.6h-1zM402 33.2h1V71.6h-1zM414 33.2h1V71.6h-1zM417 33.2h1V71.6h-1zM421 33.2h1V71.6h-1z"/>
<path fill="#e97279" d="M124 33.2h1V71.6h-1zM126 33.2h1V71.6h-1zM129 33.2h1V71.6h-1zM133 33.2h1V71.6h-1zM145 33.2h1V71.6h-1zM147 33.2h1V71.6h-1zM148 33.2h1V71.6h-1zM152 33.2h1V71.6h-1z"/>
<path fill="#ea3438" d="M156 33.2h1V71.6h-1zM170 33.2h1V71.6h-1zM171 33.2h1V71.6h-1zM179 33.2h1V71.6h-1zM185 33.2h1V71.6h-1zM186 33.2h1V71.6h-1zM189 33.2h1V71.6h-1zM190 33.2h1V71.6h-1zM197 33.2h1V71.6h-1zM201 33.2h1V71.6h-1zM204 33.2h1V71.6h-1zM213 33.2h1V71.6h-1zM224 33.2h1V71.6h-1zM228 33.2h1V71.6h-1zM235 33.2h1V71.6h-1zM239 33.2h1V71.6h-1zM246 33.2h1V71.6h-1zM250 33.2h1V71.6h-1zM269 33.2h1V71.6h-1zM273 33.2h1V71.6h-1zM277 33.2h1V71.6h-1zM280 33.2h1V71.6h-1zM292 33.2h1V71.6h-1zM299 33.2h1V71.6h-1z"/>
<path fill="#ea6a71" d="M589 33.2h1V71.6h-1zM591 33.2h1V71.6h-1zM594 33.2h1V71.6h-1zM628 33.2h1V71.6h-1zM630 33.2h1V71.6h-1zM633 33.2h1V71.6h-1zM635 33.2h1V71.6h-1zM638 33.2h1V71.6h-1zM640 33.2h1V71.6h-1zM645 33.2h1V71.6h-1z"/>
<path fill="#ec3a3e" d="M155 33.2h1V71.6h-1zM160 33.2h1V71.6h-1zM166 33.2h1V71.6h-1zM175 33.2h1V71.6h-1zM181 33.2h1V71.6h-1zM198 33.2h1V71.6h-1zM219 33.2h1V71.6h-1zM227 33.2h1V71.6h-1zM232 33.2h1V71.6h-1zM243 33.2h1V71.6h-1zM253 33.2h1V71.6h-1zM254 33.2h1V71.6h-1zM255 33.2h1V71.6h-1zM258 33.2h1V71.6h-1zM261 33.2h1V71.6h-1zM265 33.2h1V71.6h-1zM266 33.2h1V71.6h-1zM270 33.2h1V71.6h-1zM276 33.2h1V71.6h-1zM296 33.2h1V71.6h-1z"/>
<path fill="#ec4b50" d="M303 33.2h1V71.6h-1zM304 33.2h1V71.6h-1zM312 33.2h1V71.6h-1zM315 33.2h1V71.6h-1zM318 33.2h1V71.6h-1zM322 33.2h1V71.6h-1zM333 33.2h1V71.6h-1zM357 33.2h1V71.6h-1zM380 33.2h1V71.6h-1zM384 33.2h1V71.6h-1zM388 33.2h1V71.6h-1zM395 33.2h1V71.6h-1zM398 33.2h1V71.6h-1zM405 33.2h1V71.6h-1zM407 33.2h1V71.6h-1zM422 33.2h1V71.6h-1z"/>
<path fill="#ec6269" d="M424 33.2h1V71.6h-1zM429 33.2h1V71.6h-1zM430 33.2h1V71.6h-1zM434 33.2h1V71.6h-1zM447 33.2h1V71.6h-1zM457 33.2h1V71.6h-1zM460 33.2h1V71.6h-1zM461 33.2h1V71.6h-1zM465 33.2h1V71.6h-1zM478 33.2h1V71.6h-1zM479 33.2h1V71.6h-1zM484 33.2h1V71.6h-1zM492 33.2h1V71.6h-1zM501 33.2h1V71.6h-1zM506 33.2h1V71.6h-1zM510 33.2h1V71.6h-1zM514 33.2h1V71.6h-1zM533 33.2h1V71.6h-1zM538 33.2h1V71.6h-1zM541 33.2h1V71.6h-1z"/>
<path fill="#ec7b82" d="M117 33.2h1V71.6h-1zM121 33.2h1V71.6h-1zM122 33.2h1V71.6h-1zM130 33.2h1V71.6h-1z"/>
<path fill="#ecb8bc" d="M86 33.2h1V71.6h-1zM103 33.2h1V71.6h-1zM106 33.2h1V71.6h-1z"/>
<path fill="#ee3f43" d="M154 33.2h1V71.6h-1zM162 33.2h1V71.6h-1zM164 33.2h1V71.6h-1zM180 33.2h1V71.6h-1zM194 33.2h1V71.6h-1zM202 33.2h1V71.6h-1zM208 33.2h1V71.6h-1zM209 33.2h1V71.6h-1zM215 33.2h1V71.6h-1zM234 33.2h1V71.6h-1zM236 33.2h1V71.6h-1zM241 33.2h1V71.6h-1zM251 33.2h1V71.6h-1zM259 33.2h1V71.6h-1zM289 33.2h1V71.6h-1zM291 33.2h1V71.6h-1zM295 33.2h1V71.6h-1zM297 33.2h1V71.6h-1z"/>
<path fill="#ee5256" d="M306 33.2h1V71.6h-1zM308 33.2h1V71.6h-1zM310 33.2h1V71.6h-1zM324 33.2h1V71.6h-1zM325 33.2h1V71.6h-1zM326 33.2h1V71.6h-1zM327 33.2h1V71.6h-1zM329 33.2h1V71.6h-1zM348 33.2h1V71.6h-1zM352 33.2h1V71.6h-1zM354 33.2h1V71.6h-1zM355 33.2h1V71.6h-1zM358 33.2h1V71.6h-1zM363 33.2h1V71.6h-1zM367 33.2h1V71.6h-1zM369 33.2h1V71.6h-1zM378 33.2h1V71.6h-1zM386 33.2h1V71.6h-1zM392 33.2h1V71.6h-1zM394 33.2h1V71.6h-1zM399 33.2h1V71.6h-1zM400 33.2h1V71.6h-1zM409 33.2h1V71.6h-1zM413 33.2h1V71.6h-1zM418 33.2h1V71.6h-1z"/>
<path fill="#ee7278" d="M550 33.2h1V71.6h-1zM551 33.2h1V71.6h-1zM576 33.2h1V71.6h-1zM581 33.2h1V71.6h-1zM586 33.2h1V71.6h-1zM599 33.2h1V71.6h-1zM604 33.2h1V71.6h-1zM609 33.2h1V71.6h-1zM610 33.2h1V71.6h-1zM615 33.2h1V71.6h-1zM624 33.2h1V71.6h-1zM625 33.2h1V71.6h-1zM643 33.2h1V71.6h-1zM648 33.2h1V71.6h-1zM658 33.2h1V71.6h-1zM659 33.2h1V71.6h-1zM674 33.2h1V71.6h-1z"/>
<path fill="#ef686e" d="M433 33.2h1V71.6h-1zM438 33.2h1V71.6h-1zM443 33.2h1V71.6h-1zM456 33.2h1V71.6h-1zM496 33.2h1V71.6h-1zM519 33.2h1V71.6h-1zM524 33.2h1V71.6h-1zM537 33.2h1V71.6h-1zM542 33.2h1V71.6h-1z"/>
<path fill="#f0585c" d="M305 33.2h1V71.6h-1zM314 33.2h1V71.6h-1zM328 33.2h1V71.6h-1zM331 33.2h1V71.6h-1zM335 33.2h1V71.6h-1zM346 33.2h1V71.6h-1zM347 33.2h1V71.6h-1zM359 33.2h1V71.6h-1zM366 33.2h1V71.6h-1zM371 33.2h1V71.6h-1zM382 33.2h1V71.6h-1zM385 33.2h1V71.6h-1zM389 33.2h1V71.6h-1zM401 33.2h1V71.6h-1zM412 33.2h1V71.6h-1zM416 33.2h1V71.6h-1zM419 33.2h1V71.6h-1zM420 33.2h1V71.6h-1z"/>
<path fill="#f0848a" d="M119 33.2h1V71.6h-1zM123 33.2h1V71.6h-1zM132 33.2h1V71.6h-1zM134 33.2h1V71.6h-1zM136 33.2h1V71.6h-1zM139 33.2h1V71.6h-1zM143 33.2h1V71.6h-1z"/>
<path fill="#f14448" d="M153 33.2h1V71.6h-1zM157 33.2h1V71.6h-1zM168 33.2h1V71.6h-1zM169 33.2h1V71.6h-1zM173 33.2h1V71.6h-1zM176 33.2h1V71.6h-1zM177 33.2h1V71.6h-1zM184 33.2h1V71.6h-1zM196 33.2h1V71.6h-1zM200 33.2h1V71.6h-1zM207 33.2h1V71.6h-1zM217 33.2h1V71.6h-1zM222 33.2h1V71.6h-1zM225 33.2h1V71.6h-1zM238 33.2h1V71.6h-1zM240 33.2h1V71.6h-1zM248 33.2h1V71.6h-1zM257 33.2h1V71.6h-1zM264 33.2h1V71.6h-1zM272 33.2h1V71.6h-1zM274 33.2h1V71.6h-1zM278 33.2h1V71.6h-1zM279 33.2h1V71.6h-1zM283 33.2h1V71.6h-1zM290 33.2h1V71.6h-1zM293 33.2h1V71.6h-1z"/>
<path fill="#f1797f" d="M555 33.2h1V71.6h-1zM556 33.2h1V71.6h-1zM560 33.2h1V71.6h-1zM561 33.2h1V71.6h-1zM565 33.2h1V71.6h-1zM566 33.2h1V71.6h-1zM570 33.2h1V71.6h-1zM571 33.2h1V71.6h-1zM580 33.2h1V71.6h-1zM590 33.2h1V71.6h-1zM600 33.2h1V71.6h-1zM605 33.2h1V71.6h-1zM614 33.2h1V71.6h-1zM619 33.2h1V71.6h-1zM620 33.2h1V71.6h-1zM634 33.2h1V71.6h-1zM639 33.2h1V71.6h-1zM644 33.2h1V71.6h-1zM649 33.2h1V71.6h-1zM653 33.2h1V71.6h-1zM654 33.2h1V71.6h-1zM663 33.2h1V71.6h-1zM664 33.2h1V71.6h-1zM668 33.2h1V71.6h-1zM669 33.2h1V71.6h-1zM673 33.2h1V71.6h-1z"/>
<path fill="#f2c7cb" d="M108 33.2h1V71.6h-1zM113 33.2h1V71.6h-1z"/>
<path fill="#f34a4e" d="M158 33.2h1V71.6h-1zM183 33.2h1V71.6h-1zM188 33.2h1V71.6h-1zM191 33.2h1V71.6h-1zM195 33.2h1V71.6h-1zM203 33.2h1V71.6h-1zM206 33.2h1V71.6h-1zM210 33.2h1V71.6h-1zM211 33.2h1V71.6h-1zM221 33.2h1V71.6h-1zM229 33.2h1V71.6h-1zM237 33.2h1V71.6h-1zM244 33.2h1V71.6h-1zM249 33.2h1V71.6h-1zM252 33.2h1V71.6h-1zM263 33.2h1V71.6h-1zM287 33.2h1V71.6h-1zM294 33.2h1V71.6h-1zM298 33.2h1V71.6h-1z"/>
<path fill="#f35f63" d="M309 33.2h1V71.6h-1zM316 33.2h1V71.6h-1zM317 33.2h1V71.6h-1zM320 33.2h1V71.6h-1zM332 33.2h1V71.6h-1zM340 33.2h1V71.6h-1zM343 33.2h1V71.6h-1zM344 33.2h1V71.6h-1zM351 33.2h1V71.6h-1zM362 33.2h1V71.6h-1zM373 33.2h1V71.6h-1zM377 33.2h1V71.6h-1zM381 33.2h1V71.6h-1zM390 33.2h1V71.6h-1zM396 33.2h1V71.6h-1zM397 33.2h1V71.6h-1zM404 33.2h1V71.6h-1zM411 33.2h1V71.6h-1zM415 33.2h1V71.6h-1z"/>
<path fill="#f36e74" d="M497 33.2h1V71.6h-1zM528 33.2h1V71.6h-1zM546 33.2h1V71.6h-1z"/>
<path fill="#f48c92" d="M127 33.2h1V71.6h-1zM140 33.2h1V71.6h-1z"/>
<path fill="#f58086" d="M575 33.2h1V71.6h-1zM585 33.2h1V71.6h-1zM595 33.2h1V71.6h-1zM629 33.2h1V71.6h-1z"/>
<path fill="#f64f53" d="M161 33.2h1V71.6h-1zM165 33.2h1V71.6h-1zM172 33.2h1V71.6h-1zM187 33.2h1V71.6h-1zM192 33.2h1V71.6h-1zM214 33.2h1V71.6h-1zM218 33.2h1V71.6h-1zM226 33.2h1V71.6h-1zM230 33.2h1V71.6h-1zM233 33.2h1V71.6h-1zM245 33.2h1V71.6h-1zM260 33.2h1V71.6h-1zM267 33.2h1V71.6h-1zM268 33.2h1V71.6h-1zM271 33.2h1V71.6h-1zM275 33.2h1V71.6h-1zM282 33.2h1V71.6h-1zM286 33.2h1V71.6h-1z"/>
<path fill="#f6656a" d="M321 33.2h1V71.6h-1zM339 33.2h1V71.6h-1zM374 33.2h1V71.6h-1zM393 33.2h1V71.6h-1zM423 33.2h1V71.6h-1z"/>
<path fill="#f85458" d="M199 33.2h1V71.6h-1zM256 33.2h1V71.6h-1z"/>
<path fill="#f86c70" d="M313 33.2h1V71.6h-1zM336 33.2h1V71.6h-1zM370 33.2h1V71.6h-1zM408 33.2h1V71.6h-1z"/>
<path fill="#f8d7da" d="M98 33.2h1V71.6h-1z"/>
<path fill="#e3525c" d="M87 42.8h1V62h-1zM92 42.8h1V62h-1zM97 42.8h1V62h-1zM100 42.8h1V62h-1zM102 42.8h1V62h-1zM107 42.8h1V62h-1z"/>
<path fill="#e4383e" d="M120 42.8h1V62h-1zM137 42.8h1V62h-1zM141 42.8h1V62h-1z"/>
<path fill="#e64046" d="M558 42.8h1V62h-1zM568 42.8h1V62h-1zM573 42.8h1V62h-1zM607 42.8h1V62h-1zM612 42.8h1V62h-1zM656 42.8h1V62h-1zM661 42.8h1V62h-1zM666 42.8h1V62h-1z"/>
<path fill="#e64146" d="M118 42.8h1V62h-1zM131 42.8h1V62h-1zM138 42.8h1V62h-1zM142 42.8h1V62h-1zM144 42.8h1V62h-1zM149 42.8h1V62h-1zM151 42.8h1V62h-1z"/>
<path fill="#e65f68" d="M89 42.8h1V62h-1zM99 42.8h1V62h-1zM104 42.8h1V62h-1zM112 42.8h1V62h-1zM114 42.8h1V62h-1z"/>
<path fill="#e84b50" d="M548 42.8h1V62h-1zM549 42.8h1V62h-1zM553 42.8h1V62h-1zM563 42.8h1V62h-1zM578 42.8h1V62h-1zM583 42.8h1V62h-1zM587 42.8h1V62h-1zM588 42.8h1V62h-1zM592 42.8h1V62h-1zM593 42.8h1V62h-1zM597 42.8h1V62h-1zM602 42.8h1V62h-1zM617 42.8h1V62h-1zM622 42.8h1V62h-1zM627 42.8h1V62h-1zM632 42.8h1V62h-1zM641 42.8h1V62h-1zM646 42.8h1V62h-1zM651 42.8h1V62h-1zM671 42.8h1V62h-1z"/>
<path fill="#e86c73" d="M90 42.8h1V62h-1zM94 42.8h1V62h-1zM105 42.8h1V62h-1zM109 42.8h1V62h-1zM115 42.8h1V62h-1z"/>
<path fill="#ea3a40" d="M436 42.8h1V62h-1zM445 42.8h1V62h-1z"/>
<path fill="#ea565b" d="M554 42.8h1V62h-1zM567 42.8h1V62h-1zM572 42.8h1V62h-1zM577 42.8h1V62h-1zM582 42.8h1V62h-1zM598 42.8h1V62h-1zM603 42.8h1V62h-1zM608 42.8h1V62h-1zM613 42.8h1V62h-1zM631 42.8h1V62h-1zM636 42.8h1V62h-1zM637 42.8h1V62h-1zM642 42.8h1V62h-1zM647 42.8h1V62h-1zM652 42.8h1V62h-1zM662 42.8h1V62h-1zM670 42.8h1V62h-1z"/>
<path fill="#eb5258" d="M135 42.8h1V62h-1z"/>
<path fill="#eb787f" d="M88 42.8h1V62h-1zM91 42.8h1V62h-1zM95 42.8h1V62h-1zM101 42.8h1V62h-1z"/>
<path fill="#ec3f44" d="M307 42.8h1V62h-1zM323 42.8h1V62h-1zM330 42.8h1V62h-1zM338 42.8h1V62h-1zM341 42.8h1V62h-1zM349 42.8h1V62h-1zM360 42.8h1V62h-1zM361 42.8h1V62h-1zM364 42.8h1V62h-1zM376 42.8h1V62h-1zM387 42.8h1V62h-1zM391 42.8h1V62h-1zM402 42.8h1V62h-1zM406 42.8h1V62h-1zM410 42.8h1V62h-1z"/>
<path fill="#ec4248" d="M440 42.8h1V62h-1zM449 42.8h1V62h-1zM463 42.8h1V62h-1zM467 42.8h1V62h-1zM481 42.8h1V62h-1zM486 42.8h1V62h-1zM517 42.8h1V62h-1zM522 42.8h1V62h-1zM526 42.8h1V62h-1zM539 42.8h1V62h-1zM544 42.8h1V62h-1z"/>
<path fill="#ed2326" d="M159 42.8h1V62h-1zM174 42.8h1V62h-1zM178 42.8h1V62h-1zM182 42.8h1V62h-1zM193 42.8h1V62h-1zM205 42.8h1V62h-1zM220 42.8h1V62h-1zM281 42.8h1V62h-1zM288 42.8h1V62h-1z"/>
<path fill="#ed5a60" d="M124 42.8h1V62h-1zM125 42.8h1V62h-1zM128 42.8h1V62h-1zM129 42.8h1V62h-1zM146 42.8h1V62h-1z"/>
<path fill="#ed6066" d="M557 42.8h1V62h-1zM559 42.8h1V62h-1zM564 42.8h1V62h-1zM569 42.8h1V62h-1zM606 42.8h1V62h-1zM611 42.8h1V62h-1zM616 42.8h1V62h-1zM618 42.8h1V62h-1zM621 42.8h1V62h-1zM626 42.8h1V62h-1zM657 42.8h1V62h-1zM660 42.8h1V62h-1zM667 42.8h1V62h-1zM675 42.8h0.7V62h-0.7z"/>
<path fill="#ee464b" d="M311 42.8h1V62h-1zM319 42.8h1V62h-1zM334 42.8h1V62h-1zM337 42.8h1V62h-1zM345 42.8h1V62h-1zM353 42.8h1V62h-1zM356 42.8h1V62h-1zM357 42.8h1V62h-1zM368 42.8h1V62h-1zM372 42.8h1V62h-1zM379 42.8h1V62h-1zM383 42.8h1V62h-1zM403 42.8h1V62h-1zM407 42.8h1V62h-1zM414 42.8h1V62h-1zM417 42.8h1V62h-1zM421 42.8h1V62h-1z"/>
<path fill="#ee4b50" d="M301 42.8h1V62h-1zM427 42.8h1V62h-1zM450 42.8h1V62h-1zM459 42.8h1V62h-1zM468 42.8h1V62h-1zM476 42.8h1V62h-1zM495 42.8h1V62h-1zM499 42.8h1V62h-1zM504 42.8h1V62h-1zM509 42.8h1V62h-1zM513 42.8h1V62h-1zM518 42.8h1V62h-1zM521 42.8h1V62h-1zM530 42.8h1V62h-1zM531 42.8h1V62h-1zM535 42.8h1V62h-1zM540 42.8h1V62h-1z"/>
<path fill="#ee848b" d="M111 42.8h1V62h-1z"/>
<path fill="#ef282b" d="M163 42.8h1V62h-1zM167 42.8h1V62h-1zM190 42.8h1V62h-1zM212 42.8h1V62h-1zM231 42.8h1V62h-1zM235 42.8h1V62h-1zM242 42.8h1V62h-1zM262 42.8h1V62h-1zM277 42.8h1V62h-1zM284 42.8h1V62h-1zM285 42.8h1V62h-1z"/>
<path fill="#ef5358" d="M302 42.8h1V62h-1zM426 42.8h1V62h-1zM428 42.8h1V62h-1zM431 42.8h1V62h-1zM437 42.8h1V62h-1zM439 42.8h1V62h-1zM441 42.8h1V62h-1zM453 42.8h1V62h-1zM454 42.8h1V62h-1zM455 42.8h1V62h-1zM458 42.8h1V62h-1zM462 42.8h1V62h-1zM469 42.8h1V62h-1zM471 42.8h1V62h-1zM472 42.8h1V62h-1zM477 42.8h1V62h-1zM480 42.8h1V62h-1zM482 42.8h1V62h-1zM485 42.8h1V62h-1zM490 42.8h1V62h-1zM498 42.8h1V62h-1zM500 42.8h1V62h-1zM503 42.8h1V62h-1zM508 42.8h1V62h-1zM512 42.8h1V62h-1zM536 42.8h1V62h-1z"/>
<path fill="#ef6368" d="M133 42.8h1V62h-1zM145 42.8h1V62h-1zM147 42.8h1V62h-1zM148 42.8h1V62h-1zM150 42.8h1V62h-1zM152 42.8h1V62h-1z"/>
<path fill="#ef6b70" d="M552 42.8h1V62h-1zM562 42.8h1V62h-1zM574 42.8h1V62h-1zM579 42.8h1V62h-1zM584 42.8h1V62h-1zM596 42.8h1V62h-1zM601 42.8h1V62h-1zM623 42.8h1V62h-1zM628 42.8h1V62h-1zM640 42.8h1V62h-1zM650 42.8h1V62h-1zM655 42.8h1V62h-1zM665 42.8h1V62h-1zM672 42.8h1V62h-1z"/>
<path fill="#f09196" d="M86 42.8h1V62h-1zM93 42.8h1V62h-1zM96 42.8h1V62h-1zM103 42.8h1V62h-1zM106 42.8h1V62h-1zM110 42.8h1V62h-1zM116 42.8h1V62h-1z"/>
<path fill="#f12d30" d="M156 42.8h1V62h-1zM171 42.8h1V62h-1zM179 42.8h1V62h-1zM185 42.8h1V62h-1zM186 42.8h1V62h-1zM189 42.8h1V62h-1zM197 42.8h1V62h-1zM201 42.8h1V62h-1zM216 42.8h1V62h-1zM223 42.8h1V62h-1zM224 42.8h1V62h-1zM228 42.8h1V62h-1zM239 42.8h1V62h-1zM247 42.8h1V62h-1zM250 42.8h1V62h-1zM254 42.8h1V62h-1zM258 42.8h1V62h-1zM266 42.8h1V62h-1zM269 42.8h1V62h-1zM273 42.8h1V62h-1zM299 42.8h1V62h-1z"/>
<path fill="#f14e52" d="M312 42.8h1V62h-1zM315 42.8h1V62h-1zM318 42.8h1V62h-1zM325 42.8h1V62h-1zM326 42.8h1V62h-1zM333 42.8h1V62h-1zM342 42.8h1V62h-1zM350 42.8h1V62h-1zM365 42.8h1V62h-1zM367 42.8h1V62h-1zM369 42.8h1V62h-1zM375 42.8h1V62h-1zM380 42.8h1V62h-1zM388 42.8h1V62h-1zM395 42.8h1V62h-1zM399 42.8h1V62h-1zM405 42.8h1V62h-1zM409 42.8h1V62h-1zM418 42.8h1V62h-1zM422 42.8h1V62h-1z"/>
<path fill="#f15c60" d="M300 42.8h1V62h-1zM432 42.8h1V62h-1zM435 42.8h1V62h-1zM442 42.8h1V62h-1zM444 42.8h1V62h-1zM446 42.8h1V62h-1zM448 42.8h1V62h-1zM451 42.8h1V62h-1zM464 42.8h1V62h-1zM475 42.8h1V62h-1zM487 42.8h1V62h-1zM494 42.8h1V62h-1zM505 42.8h1V62h-1zM516 42.8h1V62h-1zM543 42.8h1V62h-1zM545 42.8h1V62h-1zM547 42.8h1V62h-1z"/>
<path fill="#f1767a" d="M591 42.8h1V62h-1zM594 42.8h1V62h-1zM630 42.8h1V62h-1zM633 42.8h1V62h-1zM635 42.8h1V62h-1zM645 42.8h1V62h-1z"/>
<path fill="#f26c71" d="M121 42.8h1V62h-1zM122 42.8h1V62h-1zM126 42.8h1V62h-1zM139 42.8h1V62h-1z"/>
<path fill="#f33235" d="M155 42.8h1V62h-1zM160 42.8h1V62h-1zM164 42.8h1V62h-1zM166 42.8h1V62h-1zM170 42.8h1V62h-1zM175 42.8h1V62h-1zM198 42.8h1V62h-1zM204 42.8h1V62h-1zM213 42.8h1V62h-1zM219 42.8h1V62h-1zM227 42.8h1V62h-1zM232 42.8h1V62h-1zM243 42.8h1V62h-1zM246 42.8h1V62h-1zM253 42.8h1V62h-1zM255 42.8h1V62h-1zM261 42.8h1V62h-1zM276 42.8h1V62h-1zM280 42.8h1V62h-1zM292 42.8h1V62h-1zM296 42.8h1V62h-1z"/>
<path fill="#f3565a" d="M303 42.8h1V62h-1zM304 42.8h1V62h-1zM306 42.8h1V62h-1zM310 42.8h1V62h-1zM322 42.8h1V62h-1zM324 42.8h1V62h-1zM327 42.8h1V62h-1zM331 42.8h1V62h-1zM335 42.8h1V62h-1zM346 42.8h1V62h-1zM348 42.8h1V62h-1zM352 42.8h1V62h-1zM355 42.8h1V62h-1zM358 42.8h1V62h-1zM363 42.8h1V62h-1zM371 42.8h1V62h-1zM378 42.8h1V62h-1zM384 42.8h1V62h-1zM386 42.8h1V62h-1zM392 42.8h1V62h-1zM394 42.8h1V62h-1zM398 42.8h1V62h-1zM413 42.8h1V62h-1zM419 42.8h1V62h-1z"/>
<path fill="#f36468" d="M452 42.8h1V62h-1zM470 42.8h1V62h-1zM473 42.8h1V62h-1zM474 42.8h1V62h-1zM479 42.8h1V62h-1zM483 42.8h1V62h-1zM488 42.8h1V62h-1zM489 42.8h1V62h-1zM491 42.8h1V62h-1zM493 42.8h1V62h-1zM502 42.8h1V62h-1zM506 42.8h1V62h-1zM507 42.8h1V62h-1zM511 42.8h1V62h-1zM515 42.8h1V62h-1zM520 42.8h1V62h-1zM523 42.8h1V62h-1zM525 42.8h1V62h-1zM527 42.8h1V62h-1zM529 42.8h1V62h-1zM533 42.8h1V62h-1zM534 42.8h1V62h-1z"/>
<path fill="#f39ea2" d="M98 42.8h1V62h-1zM108 42.8h1V62h-1zM113 42.8h1V62h-1z"/>
<path fill="#f46c70" d="M424 42.8h1V62h-1zM425 42.8h1V62h-1zM433 42.8h1V62h-1zM434 42.8h1V62h-1zM443 42.8h1V62h-1zM457 42.8h1V62h-1zM460 42.8h1V62h-1zM465 42.8h1V62h-1zM466 42.8h1V62h-1zM478 42.8h1V62h-1zM484 42.8h1V62h-1zM492 42.8h1V62h-1zM510 42.8h1V62h-1zM514 42.8h1V62h-1zM532 42.8h1V62h-1zM538 42.8h1V62h-1zM541 42.8h1V62h-1z"/>
<path fill="#f4747a" d="M117 42.8h1V62h-1zM119 42.8h1V62h-1zM123 42.8h1V62h-1zM130 42.8h1V62h-1zM132 42.8h1V62h-1zM134 42.8h1V62h-1zM136 42.8h1V62h-1zM143 42.8h1V62h-1z"/>
<path fill="#f48085" d="M550 42.8h1V62h-1zM555 42.8h1V62h-1zM576 42.8h1V62h-1zM581 42.8h1V62h-1zM586 42.8h1V62h-1zM589 42.8h1V62h-1zM599 42.8h1V62h-1zM604 42.8h1V62h-1zM609 42.8h1V62h-1zM614 42.8h1V62h-1zM615 42.8h1V62h-1zM638 42.8h1V62h-1zM643 42.8h1V62h-1zM648 42.8h1V62h-1zM658 42.8h1V62h-1zM659 42.8h1V62h-1zM664 42.8h1V62h-1zM669 42.8h1V62h-1zM674 42.8h1V62h-1z"/>
<path fill="#f5363a" d="M162 42.8h1V62h-1zM169 42.8h1V62h-1zM181 42.8h1V62h-1zM202 42.8h1V62h-1zM207 42.8h1V62h-1zM208 42.8h1V62h-1zM209 42.8h1V62h-1zM215 42.8h1V62h-1zM217 42.8h1V62h-1zM234 42.8h1V62h-1zM236 42.8h1V62h-1zM240 42.8h1V62h-1zM248 42.8h1V62h-1zM251 42.8h1V62h-1zM259 42.8h1V62h-1zM265 42.8h1V62h-1zM270 42.8h1V62h-1zM278 42.8h1V62h-1zM289 42.8h1V62h-1zM291 42.8h1V62h-1zM293 42.8h1V62h-1zM295 42.8h1V62h-1zM297 42.8h1V62h-1z"/>
<path fill="#f55d62" d="M305 42.8h1V62h-1zM308 42.8h1V62h-1zM314 42.8h1V62h-1zM328 42.8h1V62h-1zM329 42.8h1V62h-1zM347 42.8h1V62h-1zM354 42.8h1V62h-1zM359 42.8h1V62h-1zM366 42.8h1V62h-1zM382 42.8h1V62h-1zM385 42.8h1V62h-1zM389 42.8h1V62h-1zM390 42.8h1V62h-1zM400 42.8h1V62h-1zM412 42.8h1V62h-1z"/>
<path fill="#f67578" d="M429 42.8h1V62h-1zM430 42.8h1V62h-1zM438 42.8h1V62h-1zM447 42.8h1V62h-1zM456 42.8h1V62h-1zM461 42.8h1V62h-1zM496 42.8h1V62h-1zM501 42.8h1V62h-1zM519 42.8h1V62h-1zM524 42.8h1V62h-1zM537 42.8h1V62h-1zM546 42.8h1V62h-1z"/>
<path fill="#f67d82" d="M127 42.8h1V62h-1zM140 42.8h1V62h-1z"/>
<path fill="#f68b90" d="M551 42.8h1V62h-1zM556 42.8h1V62h-1zM560 42.8h1V62h-1zM561 42.8h1V62h-1zM565 42.8h1V62h-1zM566 42.8h1V62h-1zM570 42.8h1V62h-1zM571 42.8h1V62h-1zM575 42.8h1V62h-1zM585 42.8h1V62h-1zM590 42.8h1V62h-1zM605 42.8h1V62h-1zM610 42.8h1V62h-1zM619 42.8h1V62h-1zM620 42.8h1V62h-1zM624 42.8h1V62h-1zM625 42.8h1V62h-1zM629 42.8h1V62h-1zM639 42.8h1V62h-1zM653 42.8h1V62h-1zM654 42.8h1V62h-1zM663 42.8h1V62h-1zM668 42.8h1V62h-1zM673 42.8h1V62h-1z"/>
<path fill="#f73b3e" d="M153 42.8h1V62h-1zM154 42.8h1V62h-1zM157 42.8h1V62h-1zM168 42.8h1V62h-1zM173 42.8h1V62h-1zM180 42.8h1V62h-1zM183 42.8h1V62h-1zM184 42.8h1V62h-1zM194 42.8h1V62h-1zM195 42.8h1V62h-1zM196 42.8h1V62h-1zM200 42.8h1V62h-1zM222 42.8h1V62h-1zM225 42.8h1V62h-1zM229 42.8h1V62h-1zM238 42.8h1V62h-1zM241 42.8h1V62h-1zM257 42.8h1V62h-1zM264 42.8h1V62h-1zM272 42.8h1V62h-1zM274 42.8h1V62h-1zM279 42.8h1V62h-1zM283 42.8h1V62h-1zM290 42.8h1V62h-1z"/>
<path fill="#f86569" d="M316 42.8h1V62h-1zM317 42.8h1V62h-1zM320 42.8h1V62h-1zM339 42.8h1V62h-1zM340 42.8h1V62h-1zM344 42.8h1V62h-1zM351 42.8h1V62h-1zM362 42.8h1V62h-1zM381 42.8h1V62h-1zM396 42.8h1V62h-1zM397 42.8h1V62h-1zM401 42.8h1V62h-1zM404 42.8h1V62h-1zM411 42.8h1V62h-1zM416 42.8h1V62h-1zM420 42.8h1V62h-1z"/>
<path fill="#f87d80" d="M497 42.8h1V62h-1zM528 42.8h1V62h-1zM542 42.8h1V62h-1z"/>
<path fill="#f8969a" d="M580 42.8h1V62h-1zM595 42.8h1V62h-1zM600 42.8h1V62h-1zM634 42.8h1V62h-1zM644 42.8h1V62h-1zM649 42.8h1V62h-1z"/>
<path fill="#f94043" d="M158 42.8h1V62h-1zM165 42.8h1V62h-1zM176 42.8h1V62h-1zM177 42.8h1V62h-1zM188 42.8h1V62h-1zM191 42.8h1V62h-1zM203 42.8h1V62h-1zM206 42.8h1V62h-1zM210 42.8h1V62h-1zM211 42.8h1V62h-1zM214 42.8h1V62h-1zM218 42.8h1V62h-1zM221 42.8h1V62h-1zM230 42.8h1V62h-1zM237 42.8h1V62h-1zM244 42.8h1V62h-1zM249 42.8h1V62h-1zM252 42.8h1V62h-1zM282 42.8h1V62h-1zM287 42.8h1V62h-1zM294 42.8h1V62h-1z"/>
<path fill="#fa6c70" d="M309 42.8h1V62h-1zM313 42.8h1V62h-1zM321 42.8h1V62h-1zM332 42.8h1V62h-1zM343 42.8h1V62h-1zM370 42.8h1V62h-1zM373 42.8h1V62h-1zM374 42.8h1V62h-1zM377 42.8h1V62h-1zM393 42.8h1V62h-1zM415 42.8h1V62h-1zM423 42.8h1V62h-1z"/>
<path fill="#fb4548" d="M161 42.8h1V62h-1zM172 42.8h1V62h-1zM187 42.8h1V62h-1zM192 42.8h1V62h-1zM226 42.8h1V62h-1zM233 42.8h1V62h-1zM245 42.8h1V62h-1zM260 42.8h1V62h-1zM263 42.8h1V62h-1zM267 42.8h1V62h-1zM268 42.8h1V62h-1zM271 42.8h1V62h-1zM275 42.8h1V62h-1zM286 42.8h1V62h-1zM298 42.8h1V62h-1z"/>
<path fill="#fc7478" d="M336 42.8h1V62h-1zM408 42.8h1V62h-1z"/>
<path fill="#fd4a4d" d="M199 42.8h1V62h-1zM256 42.8h1V62h-1z"/></g>
<rect x="43.2" y="43.25" width="16" height="9.6" fill="#f50a0e"/>
<rect x="59.2" y="52.85" width="3.2" height="9.6" fill="#f50a0e"/>
<rect x="62.4" y="43.25" width="23.2" height="19.2" fill="#fadee0"/>
<rect x="62.8" y="43.25" width="1.5" height="9.6" fill="#e1232d"/>
<rect x="66.7" y="43.25" width="1.5" height="9.6" fill="#e1232d"/>
<rect x="70.9" y="43.25" width="1.5" height="9.6" fill="#e1232d"/>
<rect x="75" y="43.25" width="1.5" height="9.6" fill="#e1232d"/>
<rect x="79" y="43.25" width="1.5" height="9.6" fill="#e1232d"/>
<rect x="82.8" y="43.25" width="1.5" height="9.6" fill="#e1232d"/>
<rect x="64.6" y="52.85" width="1.5" height="9.6" fill="#e1232d"/>
<rect x="68.8" y="52.85" width="1.5" height="9.6" fill="#e1232d"/>
<rect x="73" y="52.85" width="1.5" height="9.6" fill="#e1232d"/>
<rect x="77.2" y="52.85" width="1.5" height="9.6" fill="#e1232d"/>
<rect x="81" y="52.85" width="1.5" height="9.6" fill="#e1232d"/>
<rect x="84.6" y="52.85" width="1" height="9.6" fill="#e1232d"/>
<rect x="66.8" y="33.65" width="1" height="38.4" fill="#d47682"/>
<rect x="68.7" y="33.65" width="1" height="38.4" fill="#d47682"/>
<rect x="77.6" y="33.65" width="1" height="38.4" fill="#d47682"/>
<rect x="80" y="33.65" width="1" height="38.4" fill="#d47682"/>
<path fill="none" stroke-width="1.1" stroke="#a4a4a4" d="M43.2 5.5H675.7"/>
<path fill="none" stroke-width="1" stroke="#c4c4c4" d="M675.7 5.5V100.1"/>
<path fill="none" stroke-width="1.1" stroke="#a8a8a8" d="M43.2 100.1H675.7"/>
<path fill="none" stroke-width="1.2" stroke="#9c9c9c" d="M43.2 5V100.6"/>
<text font-size="14.5" text-anchor="end" transform="translate(39.4 28.7) scale(0.8 1)">500</text>
<text font-size="14.5" text-anchor="end" transform="translate(39.4 58.15) scale(0.8 1)">0</text>
<text font-size="14.5" text-anchor="end" transform="translate(39.4 87.6) scale(0.8 1)">-500</text>
<text font-size="15" text-anchor="middle" transform="translate(43.6 118.1) scale(0.8 1)">0</text>
<text font-size="15" text-anchor="middle" transform="translate(254.43 118.1) scale(0.8 1)">5</text>
<text font-size="15" text-anchor="middle" transform="translate(465.27 118.1) scale(0.8 1)">10</text>
<text font-size="15" text-anchor="middle" transform="translate(676.1 118.1) scale(0.8 1)">15</text>
<text font-size="13.5" text-anchor="middle" transform="translate(12.7 50.8) rotate(-90) scale(1.2 1)">Vab (V)</text>
<path stroke="#d4d4d4" stroke-width="1" fill="none" d="M43.2 147H675.7M43.2 176.65H675.7M43.2 206.3H675.7M254.03 128.9V224M464.87 128.9V224"/>
<path fill="none" stroke-width="1" stroke="#b4b4b4" d="M43.2 147h6M43.2 176.65h6M43.2 206.3h6M254.03 224v-6M254.03 128.9v6M464.87 224v-6M464.87 128.9v6"/>
<g><path fill="#6e6ecb" d="M163 137.9h1V213.89h-1zM178 137.9h1V213.89h-1zM182 137.9h1V213.89h-1zM326 137.9h1V213.89h-1zM349 137.9h1V213.89h-1zM353 137.9h1V213.89h-1zM383 137.9h1V213.89h-1zM391 137.9h1V213.89h-1zM414 137.9h1V213.89h-1z"/>
<path fill="#7575d0" d="M155 137.9h1V213.89h-1zM171 137.9h1V213.89h-1zM186 137.9h1V213.89h-1zM193 137.9h1V213.89h-1zM209 137.9h1V213.89h-1zM220 137.9h1V213.89h-1zM224 137.9h1V213.89h-1zM243 137.9h1V213.89h-1zM254 137.9h1V213.89h-1zM269 137.9h1V213.89h-1zM273 137.9h1V213.89h-1zM280 137.9h1V213.89h-1zM281 137.9h1V213.89h-1zM284 137.9h1V213.89h-1zM296 137.9h1V213.89h-1zM307 137.9h1V213.89h-1zM315 137.9h1V213.89h-1zM319 137.9h1V213.89h-1zM322 137.9h1V213.89h-1zM330 137.9h1V213.89h-1zM345 137.9h1V213.89h-1zM372 137.9h1V213.89h-1zM399 137.9h1V213.89h-1zM417 137.9h1V213.89h-1z"/>
<path fill="#7c7cd5" d="M156 137.9h1V213.89h-1zM166 137.9h1V213.89h-1zM170 137.9h1V213.89h-1zM190 137.9h1V213.89h-1zM194 137.9h1V213.89h-1zM197 137.9h1V213.89h-1zM201 137.9h1V213.89h-1zM204 137.9h1V213.89h-1zM205 137.9h1V213.89h-1zM212 137.9h1V213.89h-1zM216 137.9h1V213.89h-1zM223 137.9h1V213.89h-1zM235 137.9h1V213.89h-1zM242 137.9h1V213.89h-1zM258 137.9h1V213.89h-1zM270 137.9h1V213.89h-1zM277 137.9h1V213.89h-1zM292 137.9h1V213.89h-1zM299 137.9h1V213.89h-1zM303 137.9h1V213.89h-1zM304 137.9h1V213.89h-1zM308 137.9h1V213.89h-1zM337 137.9h1V213.89h-1zM341 137.9h1V213.89h-1zM342 137.9h1V213.89h-1zM360 137.9h1V213.89h-1zM364 137.9h1V213.89h-1zM368 137.9h1V213.89h-1zM384 137.9h1V213.89h-1zM387 137.9h1V213.89h-1zM398 137.9h1V213.89h-1zM403 137.9h1V213.89h-1zM406 137.9h1V213.89h-1zM421 137.9h1V213.89h-1z"/>
<path fill="#8282da" d="M159 137.9h1V213.89h-1zM174 137.9h1V213.89h-1zM175 137.9h1V213.89h-1zM183 137.9h1V213.89h-1zM200 137.9h1V213.89h-1zM208 137.9h1V213.89h-1zM215 137.9h1V213.89h-1zM219 137.9h1V213.89h-1zM227 137.9h1V213.89h-1zM228 137.9h1V213.89h-1zM231 137.9h1V213.89h-1zM232 137.9h1V213.89h-1zM236 137.9h1V213.89h-1zM238 137.9h1V213.89h-1zM239 137.9h1V213.89h-1zM250 137.9h1V213.89h-1zM261 137.9h1V213.89h-1zM262 137.9h1V213.89h-1zM265 137.9h1V213.89h-1zM266 137.9h1V213.89h-1zM278 137.9h1V213.89h-1zM285 137.9h1V213.89h-1zM288 137.9h1V213.89h-1zM289 137.9h1V213.89h-1zM291 137.9h1V213.89h-1zM293 137.9h1V213.89h-1zM295 137.9h1V213.89h-1zM331 137.9h1V213.89h-1zM334 137.9h1V213.89h-1zM338 137.9h1V213.89h-1zM348 137.9h1V213.89h-1zM352 137.9h1V213.89h-1zM357 137.9h1V213.89h-1zM365 137.9h1V213.89h-1zM373 137.9h1V213.89h-1zM375 137.9h1V213.89h-1zM376 137.9h1V213.89h-1zM379 137.9h1V213.89h-1zM395 137.9h1V213.89h-1zM402 137.9h1V213.89h-1zM409 137.9h1V213.89h-1zM410 137.9h1V213.89h-1zM413 137.9h1V213.89h-1zM415 137.9h1V213.89h-1zM422 137.9h1V213.89h-1z"/>
<path fill="#8989df" d="M158 137.9h1V213.89h-1zM160 137.9h1V213.89h-1zM167 137.9h1V213.89h-1zM185 137.9h1V213.89h-1zM187 137.9h1V213.89h-1zM189 137.9h1V213.89h-1zM196 137.9h1V213.89h-1zM213 137.9h1V213.89h-1zM221 137.9h1V213.89h-1zM234 137.9h1V213.89h-1zM246 137.9h1V213.89h-1zM247 137.9h1V213.89h-1zM249 137.9h1V213.89h-1zM251 137.9h1V213.89h-1zM274 137.9h1V213.89h-1zM276 137.9h1V213.89h-1zM297 137.9h1V213.89h-1zM311 137.9h1V213.89h-1zM318 137.9h1V213.89h-1zM323 137.9h1V213.89h-1zM327 137.9h1V213.89h-1zM329 137.9h1V213.89h-1zM333 137.9h1V213.89h-1zM344 137.9h1V213.89h-1zM346 137.9h1V213.89h-1zM356 137.9h1V213.89h-1zM358 137.9h1V213.89h-1zM361 137.9h1V213.89h-1zM369 137.9h1V213.89h-1zM371 137.9h1V213.89h-1zM380 137.9h1V213.89h-1zM390 137.9h1V213.89h-1zM394 137.9h1V213.89h-1zM396 137.9h1V213.89h-1zM407 137.9h1V213.89h-1zM411 137.9h1V213.89h-1zM412 137.9h1V213.89h-1zM418 137.9h1V213.89h-1z"/>
<path fill="#9090e4" d="M162 137.9h1V213.89h-1zM164 137.9h1V213.89h-1zM172 137.9h1V213.89h-1zM177 137.9h1V213.89h-1zM179 137.9h1V213.89h-1zM181 137.9h1V213.89h-1zM188 137.9h1V213.89h-1zM192 137.9h1V213.89h-1zM198 137.9h1V213.89h-1zM199 137.9h1V213.89h-1zM202 137.9h1V213.89h-1zM211 137.9h1V213.89h-1zM217 137.9h1V213.89h-1zM226 137.9h1V213.89h-1zM230 137.9h1V213.89h-1zM233 137.9h1V213.89h-1zM240 137.9h1V213.89h-1zM252 137.9h1V213.89h-1zM253 137.9h1V213.89h-1zM255 137.9h1V213.89h-1zM257 137.9h1V213.89h-1zM259 137.9h1V213.89h-1zM263 137.9h1V213.89h-1zM264 137.9h1V213.89h-1zM272 137.9h1V213.89h-1zM282 137.9h1V213.89h-1zM286 137.9h1V213.89h-1zM294 137.9h1V213.89h-1zM298 137.9h1V213.89h-1zM305 137.9h1V213.89h-1zM312 137.9h1V213.89h-1zM313 137.9h1V213.89h-1zM314 137.9h1V213.89h-1zM316 137.9h1V213.89h-1zM321 137.9h1V213.89h-1zM335 137.9h1V213.89h-1zM350 137.9h1V213.89h-1zM359 137.9h1V213.89h-1zM366 137.9h1V213.89h-1zM367 137.9h1V213.89h-1zM386 137.9h1V213.89h-1zM388 137.9h1V213.89h-1zM392 137.9h1V213.89h-1zM405 137.9h1V213.89h-1zM419 137.9h1V213.89h-1zM423 137.9h1V213.89h-1z"/>
<path fill="#9696e9" d="M154 137.9h1V213.89h-1zM161 137.9h1V213.89h-1zM169 137.9h1V213.89h-1zM176 137.9h1V213.89h-1zM180 137.9h1V213.89h-1zM184 137.9h1V213.89h-1zM203 137.9h1V213.89h-1zM210 137.9h1V213.89h-1zM218 137.9h1V213.89h-1zM222 137.9h1V213.89h-1zM225 137.9h1V213.89h-1zM229 137.9h1V213.89h-1zM244 137.9h1V213.89h-1zM245 137.9h1V213.89h-1zM248 137.9h1V213.89h-1zM256 137.9h1V213.89h-1zM306 137.9h1V213.89h-1zM310 137.9h1V213.89h-1zM317 137.9h1V213.89h-1zM320 137.9h1V213.89h-1zM324 137.9h1V213.89h-1zM339 137.9h1V213.89h-1zM340 137.9h1V213.89h-1zM351 137.9h1V213.89h-1zM354 137.9h1V213.89h-1zM363 137.9h1V213.89h-1zM378 137.9h1V213.89h-1zM382 137.9h1V213.89h-1zM401 137.9h1V213.89h-1zM404 137.9h1V213.89h-1zM408 137.9h1V213.89h-1zM420 137.9h1V213.89h-1z"/>
<path fill="#9d9dee" d="M157 137.9h1V213.89h-1zM168 137.9h1V213.89h-1zM173 137.9h1V213.89h-1zM191 137.9h1V213.89h-1zM195 137.9h1V213.89h-1zM206 137.9h1V213.89h-1zM214 137.9h1V213.89h-1zM237 137.9h1V213.89h-1zM241 137.9h1V213.89h-1zM260 137.9h1V213.89h-1zM267 137.9h1V213.89h-1zM268 137.9h1V213.89h-1zM271 137.9h1V213.89h-1zM279 137.9h1V213.89h-1zM287 137.9h1V213.89h-1zM290 137.9h1V213.89h-1zM325 137.9h1V213.89h-1zM328 137.9h1V213.89h-1zM332 137.9h1V213.89h-1zM336 137.9h1V213.89h-1zM343 137.9h1V213.89h-1zM355 137.9h1V213.89h-1zM362 137.9h1V213.89h-1zM370 137.9h1V213.89h-1zM374 137.9h1V213.89h-1zM377 137.9h1V213.89h-1zM381 137.9h1V213.89h-1zM397 137.9h1V213.89h-1zM400 137.9h1V213.89h-1zM416 137.9h1V213.89h-1z"/>
<path fill="#a4a4f3" d="M153 137.9h1V213.89h-1zM165 137.9h1V213.89h-1zM207 137.9h1V213.89h-1zM275 137.9h1V213.89h-1zM283 137.9h1V213.89h-1zM309 137.9h1V213.89h-1zM347 137.9h1V213.89h-1zM385 137.9h1V213.89h-1zM389 137.9h1V213.89h-1zM393 137.9h1V213.89h-1z"/>
<path fill="#5050db" d="M178 146.97h1V204.33h-1zM182 146.97h1V204.33h-1zM193 146.97h1V204.33h-1zM224 146.97h1V204.33h-1zM243 146.97h1V204.33h-1z"/>
<path fill="#5252d9" d="M349 146.97h1V204.33h-1zM353 146.97h1V204.33h-1z"/>
<path fill="#5353de" d="M155 146.97h1V204.33h-1zM163 146.97h1V204.33h-1zM171 146.97h1V204.33h-1zM209 146.97h1V204.33h-1zM216 146.97h1V204.33h-1zM220 146.97h1V204.33h-1zM235 146.97h1V204.33h-1zM254 146.97h1V204.33h-1zM269 146.97h1V204.33h-1zM281 146.97h1V204.33h-1zM284 146.97h1V204.33h-1zM296 146.97h1V204.33h-1z"/>
<path fill="#5656dc" d="M307 146.97h1V204.33h-1zM319 146.97h1V204.33h-1zM326 146.97h1V204.33h-1zM330 146.97h1V204.33h-1zM345 146.97h1V204.33h-1zM372 146.97h1V204.33h-1zM383 146.97h1V204.33h-1zM391 146.97h1V204.33h-1zM399 146.97h1V204.33h-1zM414 146.97h1V204.33h-1zM417 146.97h1V204.33h-1z"/>
<path fill="#5656e0" d="M156 146.97h1V204.33h-1zM166 146.97h1V204.33h-1zM186 146.97h1V204.33h-1zM194 146.97h1V204.33h-1zM197 146.97h1V204.33h-1zM201 146.97h1V204.33h-1zM204 146.97h1V204.33h-1zM205 146.97h1V204.33h-1zM212 146.97h1V204.33h-1zM223 146.97h1V204.33h-1zM227 146.97h1V204.33h-1zM231 146.97h1V204.33h-1zM236 146.97h1V204.33h-1zM239 146.97h1V204.33h-1zM242 146.97h1V204.33h-1zM258 146.97h1V204.33h-1zM261 146.97h1V204.33h-1zM270 146.97h1V204.33h-1zM273 146.97h1V204.33h-1zM277 146.97h1V204.33h-1zM280 146.97h1V204.33h-1zM292 146.97h1V204.33h-1zM293 146.97h1V204.33h-1zM299 146.97h1V204.33h-1z"/>
<path fill="#5a5adf" d="M304 146.97h1V204.33h-1zM308 146.97h1V204.33h-1zM315 146.97h1V204.33h-1zM322 146.97h1V204.33h-1zM334 146.97h1V204.33h-1zM337 146.97h1V204.33h-1zM341 146.97h1V204.33h-1zM342 146.97h1V204.33h-1zM360 146.97h1V204.33h-1zM364 146.97h1V204.33h-1zM368 146.97h1V204.33h-1zM384 146.97h1V204.33h-1zM387 146.97h1V204.33h-1zM398 146.97h1V204.33h-1zM402 146.97h1V204.33h-1zM406 146.97h1V204.33h-1zM410 146.97h1V204.33h-1z"/>
<path fill="#5a5ae3" d="M159 146.97h1V204.33h-1zM167 146.97h1V204.33h-1zM170 146.97h1V204.33h-1zM174 146.97h1V204.33h-1zM175 146.97h1V204.33h-1zM183 146.97h1V204.33h-1zM185 146.97h1V204.33h-1zM190 146.97h1V204.33h-1zM200 146.97h1V204.33h-1zM213 146.97h1V204.33h-1zM215 146.97h1V204.33h-1zM228 146.97h1V204.33h-1zM232 146.97h1V204.33h-1zM238 146.97h1V204.33h-1zM246 146.97h1V204.33h-1zM247 146.97h1V204.33h-1zM250 146.97h1V204.33h-1zM262 146.97h1V204.33h-1zM265 146.97h1V204.33h-1zM266 146.97h1V204.33h-1zM278 146.97h1V204.33h-1zM289 146.97h1V204.33h-1zM291 146.97h1V204.33h-1zM295 146.97h1V204.33h-1z"/>
<path fill="#5d5de6" d="M158 146.97h1V204.33h-1zM160 146.97h1V204.33h-1zM187 146.97h1V204.33h-1zM189 146.97h1V204.33h-1zM196 146.97h1V204.33h-1zM208 146.97h1V204.33h-1zM219 146.97h1V204.33h-1zM221 146.97h1V204.33h-1zM234 146.97h1V204.33h-1zM249 146.97h1V204.33h-1zM251 146.97h1V204.33h-1zM255 146.97h1V204.33h-1zM259 146.97h1V204.33h-1zM272 146.97h1V204.33h-1zM276 146.97h1V204.33h-1zM285 146.97h1V204.33h-1zM288 146.97h1V204.33h-1z"/>
<path fill="#5e5ee2" d="M303 146.97h1V204.33h-1zM311 146.97h1V204.33h-1zM331 146.97h1V204.33h-1zM338 146.97h1V204.33h-1zM344 146.97h1V204.33h-1zM346 146.97h1V204.33h-1zM348 146.97h1V204.33h-1zM352 146.97h1V204.33h-1zM357 146.97h1V204.33h-1zM365 146.97h1V204.33h-1zM375 146.97h1V204.33h-1zM376 146.97h1V204.33h-1zM379 146.97h1V204.33h-1zM390 146.97h1V204.33h-1zM395 146.97h1V204.33h-1zM403 146.97h1V204.33h-1zM409 146.97h1V204.33h-1zM411 146.97h1V204.33h-1zM413 146.97h1V204.33h-1zM418 146.97h1V204.33h-1zM421 146.97h1V204.33h-1z"/>
<path fill="#6060e8" d="M164 146.97h1V204.33h-1zM169 146.97h1V204.33h-1zM172 146.97h1V204.33h-1zM177 146.97h1V204.33h-1zM179 146.97h1V204.33h-1zM188 146.97h1V204.33h-1zM192 146.97h1V204.33h-1zM198 146.97h1V204.33h-1zM199 146.97h1V204.33h-1zM202 146.97h1V204.33h-1zM203 146.97h1V204.33h-1zM211 146.97h1V204.33h-1zM217 146.97h1V204.33h-1zM226 146.97h1V204.33h-1zM230 146.97h1V204.33h-1zM233 146.97h1V204.33h-1zM240 146.97h1V204.33h-1zM248 146.97h1V204.33h-1zM252 146.97h1V204.33h-1zM253 146.97h1V204.33h-1zM257 146.97h1V204.33h-1zM263 146.97h1V204.33h-1zM264 146.97h1V204.33h-1zM274 146.97h1V204.33h-1zM282 146.97h1V204.33h-1zM294 146.97h1V204.33h-1zM297 146.97h1V204.33h-1zM298 146.97h1V204.33h-1z"/>
<path fill="#6262e5" d="M314 146.97h1V204.33h-1zM318 146.97h1V204.33h-1zM323 146.97h1V204.33h-1zM327 146.97h1V204.33h-1zM329 146.97h1V204.33h-1zM333 146.97h1V204.33h-1zM356 146.97h1V204.33h-1zM358 146.97h1V204.33h-1zM359 146.97h1V204.33h-1zM361 146.97h1V204.33h-1zM369 146.97h1V204.33h-1zM371 146.97h1V204.33h-1zM373 146.97h1V204.33h-1zM380 146.97h1V204.33h-1zM388 146.97h1V204.33h-1zM407 146.97h1V204.33h-1zM415 146.97h1V204.33h-1zM422 146.97h1V204.33h-1z"/>
<path fill="#6464c9" d="M517 146.97h1V204.33h-1zM539 146.97h1V204.33h-1z"/>
<path fill="#6464eb" d="M161 146.97h1V204.33h-1zM162 146.97h1V204.33h-1zM168 146.97h1V204.33h-1zM180 146.97h1V204.33h-1zM181 146.97h1V204.33h-1zM184 146.97h1V204.33h-1zM206 146.97h1V204.33h-1zM210 146.97h1V204.33h-1zM218 146.97h1V204.33h-1zM222 146.97h1V204.33h-1zM225 146.97h1V204.33h-1zM237 146.97h1V204.33h-1zM244 146.97h1V204.33h-1zM279 146.97h1V204.33h-1zM286 146.97h1V204.33h-1z"/>
<path fill="#6767e8" d="M305 146.97h1V204.33h-1zM306 146.97h1V204.33h-1zM312 146.97h1V204.33h-1zM313 146.97h1V204.33h-1zM316 146.97h1V204.33h-1zM321 146.97h1V204.33h-1zM324 146.97h1V204.33h-1zM335 146.97h1V204.33h-1zM350 146.97h1V204.33h-1zM351 146.97h1V204.33h-1zM366 146.97h1V204.33h-1zM367 146.97h1V204.33h-1zM386 146.97h1V204.33h-1zM392 146.97h1V204.33h-1zM394 146.97h1V204.33h-1zM396 146.97h1V204.33h-1zM404 146.97h1V204.33h-1zM405 146.97h1V204.33h-1zM412 146.97h1V204.33h-1zM419 146.97h1V204.33h-1zM423 146.97h1V204.33h-1z"/>
<path fill="#6767ed" d="M153 146.97h1V204.33h-1zM154 146.97h1V204.33h-1zM157 146.97h1V204.33h-1zM165 146.97h1V204.33h-1zM173 146.97h1V204.33h-1zM176 146.97h1V204.33h-1zM191 146.97h1V204.33h-1zM195 146.97h1V204.33h-1zM207 146.97h1V204.33h-1zM214 146.97h1V204.33h-1zM229 146.97h1V204.33h-1zM245 146.97h1V204.33h-1zM256 146.97h1V204.33h-1zM260 146.97h1V204.33h-1zM267 146.97h1V204.33h-1zM268 146.97h1V204.33h-1zM283 146.97h1V204.33h-1zM287 146.97h1V204.33h-1zM290 146.97h1V204.33h-1z"/>
<path fill="#6a6ace" d="M427 146.97h1V204.33h-1zM449 146.97h1V204.33h-1zM467 146.97h1V204.33h-1zM477 146.97h1V204.33h-1zM485 146.97h1V204.33h-1zM486 146.97h1V204.33h-1zM490 146.97h1V204.33h-1zM504 146.97h1V204.33h-1zM508 146.97h1V204.33h-1zM522 146.97h1V204.33h-1zM530 146.97h1V204.33h-1zM531 146.97h1V204.33h-1zM535 146.97h1V204.33h-1zM544 146.97h1V204.33h-1z"/>
<path fill="#6a6af0" d="M241 146.97h1V204.33h-1zM271 146.97h1V204.33h-1zM275 146.97h1V204.33h-1z"/>
<path fill="#6b6beb" d="M310 146.97h1V204.33h-1zM317 146.97h1V204.33h-1zM320 146.97h1V204.33h-1zM332 146.97h1V204.33h-1zM354 146.97h1V204.33h-1zM363 146.97h1V204.33h-1zM374 146.97h1V204.33h-1zM382 146.97h1V204.33h-1zM401 146.97h1V204.33h-1zM408 146.97h1V204.33h-1zM420 146.97h1V204.33h-1z"/>
<path fill="#6f6fee" d="M309 146.97h1V204.33h-1zM325 146.97h1V204.33h-1zM328 146.97h1V204.33h-1zM336 146.97h1V204.33h-1zM339 146.97h1V204.33h-1zM340 146.97h1V204.33h-1zM343 146.97h1V204.33h-1zM347 146.97h1V204.33h-1zM355 146.97h1V204.33h-1zM362 146.97h1V204.33h-1zM370 146.97h1V204.33h-1zM377 146.97h1V204.33h-1zM378 146.97h1V204.33h-1zM397 146.97h1V204.33h-1zM400 146.97h1V204.33h-1zM416 146.97h1V204.33h-1z"/>
<path fill="#7070d2" d="M301 146.97h1V204.33h-1zM426 146.97h1V204.33h-1zM431 146.97h1V204.33h-1zM445 146.97h1V204.33h-1zM459 146.97h1V204.33h-1zM463 146.97h1V204.33h-1zM468 146.97h1V204.33h-1zM471 146.97h1V204.33h-1zM472 146.97h1V204.33h-1zM476 146.97h1V204.33h-1zM481 146.97h1V204.33h-1zM482 146.97h1V204.33h-1zM494 146.97h1V204.33h-1zM499 146.97h1V204.33h-1zM500 146.97h1V204.33h-1zM503 146.97h1V204.33h-1zM512 146.97h1V204.33h-1zM518 146.97h1V204.33h-1zM521 146.97h1V204.33h-1zM526 146.97h1V204.33h-1z"/>
<path fill="#7373f1" d="M381 146.97h1V204.33h-1zM385 146.97h1V204.33h-1zM389 146.97h1V204.33h-1zM393 146.97h1V204.33h-1z"/>
<path fill="#7676cd" d="M553 146.97h1V204.33h-1zM558 146.97h1V204.33h-1zM612 146.97h1V204.33h-1zM617 146.97h1V204.33h-1zM622 146.97h1V204.33h-1z"/>
<path fill="#7676cf" d="M121 146.97h1V204.33h-1zM124 146.97h1V204.33h-1zM127 146.97h1V204.33h-1z"/>
<path fill="#7777d7" d="M428 146.97h1V204.33h-1zM432 146.97h1V204.33h-1zM435 146.97h1V204.33h-1zM436 146.97h1V204.33h-1zM440 146.97h1V204.33h-1zM450 146.97h1V204.33h-1zM454 146.97h1V204.33h-1zM458 146.97h1V204.33h-1zM464 146.97h1V204.33h-1zM473 146.97h1V204.33h-1zM480 146.97h1V204.33h-1zM495 146.97h1V204.33h-1zM498 146.97h1V204.33h-1zM509 146.97h1V204.33h-1zM536 146.97h1V204.33h-1zM540 146.97h1V204.33h-1zM545 146.97h1V204.33h-1z"/>
<path fill="#7d7ddc" d="M302 146.97h1V204.33h-1zM433 146.97h1V204.33h-1zM441 146.97h1V204.33h-1zM444 146.97h1V204.33h-1zM446 146.97h1V204.33h-1zM453 146.97h1V204.33h-1zM455 146.97h1V204.33h-1zM462 146.97h1V204.33h-1zM475 146.97h1V204.33h-1zM491 146.97h1V204.33h-1zM496 146.97h1V204.33h-1zM505 146.97h1V204.33h-1zM511 146.97h1V204.33h-1zM513 146.97h1V204.33h-1zM525 146.97h1V204.33h-1zM527 146.97h1V204.33h-1zM529 146.97h1V204.33h-1zM532 146.97h1V204.33h-1z"/>
<path fill="#7e7ed2" d="M548 146.97h1V204.33h-1zM549 146.97h1V204.33h-1zM563 146.97h1V204.33h-1zM568 146.97h1V204.33h-1zM573 146.97h1V204.33h-1zM577 146.97h1V204.33h-1zM578 146.97h1V204.33h-1zM582 146.97h1V204.33h-1zM583 146.97h1V204.33h-1zM587 146.97h1V204.33h-1zM588 146.97h1V204.33h-1zM593 146.97h1V204.33h-1zM597 146.97h1V204.33h-1zM607 146.97h1V204.33h-1zM626 146.97h1V204.33h-1zM627 146.97h1V204.33h-1zM631 146.97h1V204.33h-1zM632 146.97h1V204.33h-1zM637 146.97h1V204.33h-1zM641 146.97h1V204.33h-1zM642 146.97h1V204.33h-1zM646 146.97h1V204.33h-1zM651 146.97h1V204.33h-1zM656 146.97h1V204.33h-1zM661 146.97h1V204.33h-1zM666 146.97h1V204.33h-1zM671 146.97h1V204.33h-1z"/>
<path fill="#7f7fd4" d="M117 146.97h1V204.33h-1zM122 146.97h1V204.33h-1zM125 146.97h1V204.33h-1zM137 146.97h1V204.33h-1zM145 146.97h1V204.33h-1zM146 146.97h1V204.33h-1zM147 146.97h1V204.33h-1zM152 146.97h1V204.33h-1z"/>
<path fill="#8383e1" d="M300 146.97h1V204.33h-1zM424 146.97h1V204.33h-1zM437 146.97h1V204.33h-1zM451 146.97h1V204.33h-1zM461 146.97h1V204.33h-1zM469 146.97h1V204.33h-1zM478 146.97h1V204.33h-1zM483 146.97h1V204.33h-1zM487 146.97h1V204.33h-1zM488 146.97h1V204.33h-1zM489 146.97h1V204.33h-1zM492 146.97h1V204.33h-1zM507 146.97h1V204.33h-1zM516 146.97h1V204.33h-1zM520 146.97h1V204.33h-1zM534 146.97h1V204.33h-1zM537 146.97h1V204.33h-1zM538 146.97h1V204.33h-1zM543 146.97h1V204.33h-1z"/>
<path fill="#8686d7" d="M554 146.97h1V204.33h-1zM572 146.97h1V204.33h-1zM592 146.97h1V204.33h-1zM598 146.97h1V204.33h-1zM602 146.97h1V204.33h-1zM603 146.97h1V204.33h-1zM608 146.97h1V204.33h-1zM621 146.97h1V204.33h-1zM636 146.97h1V204.33h-1zM647 146.97h1V204.33h-1zM652 146.97h1V204.33h-1zM670 146.97h1V204.33h-1zM675 146.97h0.7V204.33h-0.7z"/>
<path fill="#8888d9" d="M123 146.97h1V204.33h-1z"/>
<path fill="#8a8ae6" d="M430 146.97h1V204.33h-1zM434 146.97h1V204.33h-1zM438 146.97h1V204.33h-1zM439 146.97h1V204.33h-1zM443 146.97h1V204.33h-1zM466 146.97h1V204.33h-1zM474 146.97h1V204.33h-1zM479 146.97h1V204.33h-1zM493 146.97h1V204.33h-1zM502 146.97h1V204.33h-1zM514 146.97h1V204.33h-1zM523 146.97h1V204.33h-1zM528 146.97h1V204.33h-1zM547 146.97h1V204.33h-1z"/>
<path fill="#8d8ddc" d="M559 146.97h1V204.33h-1zM562 146.97h1V204.33h-1zM564 146.97h1V204.33h-1zM567 146.97h1V204.33h-1zM569 146.97h1V204.33h-1zM613 146.97h1V204.33h-1zM616 146.97h1V204.33h-1zM645 146.97h1V204.33h-1zM650 146.97h1V204.33h-1zM657 146.97h1V204.33h-1zM660 146.97h1V204.33h-1zM662 146.97h1V204.33h-1zM665 146.97h1V204.33h-1z"/>
<path fill="#9090ea" d="M442 146.97h1V204.33h-1zM447 146.97h1V204.33h-1zM448 146.97h1V204.33h-1zM452 146.97h1V204.33h-1zM456 146.97h1V204.33h-1zM457 146.97h1V204.33h-1zM460 146.97h1V204.33h-1zM470 146.97h1V204.33h-1zM484 146.97h1V204.33h-1zM497 146.97h1V204.33h-1zM506 146.97h1V204.33h-1zM515 146.97h1V204.33h-1zM524 146.97h1V204.33h-1zM533 146.97h1V204.33h-1zM541 146.97h1V204.33h-1zM546 146.97h1V204.33h-1z"/>
<path fill="#9191de" d="M138 146.97h1V204.33h-1zM144 146.97h1V204.33h-1z"/>
<path fill="#9595e1" d="M557 146.97h1V204.33h-1zM574 146.97h1V204.33h-1zM579 146.97h1V204.33h-1zM584 146.97h1V204.33h-1zM591 146.97h1V204.33h-1zM596 146.97h1V204.33h-1zM601 146.97h1V204.33h-1zM606 146.97h1V204.33h-1zM611 146.97h1V204.33h-1zM618 146.97h1V204.33h-1zM623 146.97h1V204.33h-1zM628 146.97h1V204.33h-1zM633 146.97h1V204.33h-1zM655 146.97h1V204.33h-1zM667 146.97h1V204.33h-1z"/>
<path fill="#9696ef" d="M425 146.97h1V204.33h-1zM429 146.97h1V204.33h-1zM465 146.97h1V204.33h-1zM501 146.97h1V204.33h-1zM510 146.97h1V204.33h-1zM519 146.97h1V204.33h-1zM542 146.97h1V204.33h-1z"/>
<path fill="#9a9ae3" d="M118 146.97h1V204.33h-1zM128 146.97h1V204.33h-1z"/>
<path fill="#9d9de6" d="M550 146.97h1V204.33h-1zM552 146.97h1V204.33h-1zM589 146.97h1V204.33h-1zM594 146.97h1V204.33h-1zM599 146.97h1V204.33h-1zM638 146.97h1V204.33h-1zM640 146.97h1V204.33h-1zM643 146.97h1V204.33h-1zM672 146.97h1V204.33h-1z"/>
<path fill="#a3a3e8" d="M119 146.97h1V204.33h-1zM129 146.97h1V204.33h-1zM130 146.97h1V204.33h-1zM132 146.97h1V204.33h-1zM143 146.97h1V204.33h-1zM148 146.97h1V204.33h-1z"/>
<path fill="#a4a4eb" d="M555 146.97h1V204.33h-1zM560 146.97h1V204.33h-1zM566 146.97h1V204.33h-1zM571 146.97h1V204.33h-1zM576 146.97h1V204.33h-1zM581 146.97h1V204.33h-1zM585 146.97h1V204.33h-1zM586 146.97h1V204.33h-1zM604 146.97h1V204.33h-1zM609 146.97h1V204.33h-1zM614 146.97h1V204.33h-1zM615 146.97h1V204.33h-1zM625 146.97h1V204.33h-1zM630 146.97h1V204.33h-1zM635 146.97h1V204.33h-1zM648 146.97h1V204.33h-1zM653 146.97h1V204.33h-1zM658 146.97h1V204.33h-1z"/>
<path fill="#acaced" d="M120 146.97h1V204.33h-1zM126 146.97h1V204.33h-1zM131 146.97h1V204.33h-1zM135 146.97h1V204.33h-1zM140 146.97h1V204.33h-1zM141 146.97h1V204.33h-1zM142 146.97h1V204.33h-1zM149 146.97h1V204.33h-1z"/>
<path fill="#acacf0" d="M551 146.97h1V204.33h-1zM556 146.97h1V204.33h-1zM561 146.97h1V204.33h-1zM570 146.97h1V204.33h-1zM575 146.97h1V204.33h-1zM595 146.97h1V204.33h-1zM600 146.97h1V204.33h-1zM605 146.97h1V204.33h-1zM610 146.97h1V204.33h-1zM619 146.97h1V204.33h-1zM620 146.97h1V204.33h-1zM629 146.97h1V204.33h-1zM634 146.97h1V204.33h-1zM639 146.97h1V204.33h-1zM644 146.97h1V204.33h-1zM649 146.97h1V204.33h-1zM659 146.97h1V204.33h-1zM663 146.97h1V204.33h-1zM664 146.97h1V204.33h-1zM668 146.97h1V204.33h-1zM669 146.97h1V204.33h-1zM673 146.97h1V204.33h-1zM674 146.97h1V204.33h-1z"/>
<path fill="#b4b4f5" d="M565 146.97h1V204.33h-1zM580 146.97h1V204.33h-1zM590 146.97h1V204.33h-1zM624 146.97h1V204.33h-1zM654 146.97h1V204.33h-1z"/>
<path fill="#b5b5f2" d="M134 146.97h1V204.33h-1zM139 146.97h1V204.33h-1zM150 146.97h1V204.33h-1zM151 146.97h1V204.33h-1z"/>
<path fill="#bebef7" d="M133 146.97h1V204.33h-1zM136 146.97h1V204.33h-1z"/>
<path fill="#2a2ae6" d="M155 156.53h1V194.77h-1zM163 156.53h1V194.77h-1zM178 156.53h1V194.77h-1zM182 156.53h1V194.77h-1zM224 156.53h1V194.77h-1zM243 156.53h1V194.77h-1zM254 156.53h1V194.77h-1z"/>
<path fill="#2f2fe8" d="M171 156.53h1V194.77h-1zM186 156.53h1V194.77h-1zM193 156.53h1V194.77h-1zM209 156.53h1V194.77h-1zM216 156.53h1V194.77h-1zM220 156.53h1V194.77h-1zM235 156.53h1V194.77h-1zM269 156.53h1V194.77h-1zM273 156.53h1V194.77h-1zM280 156.53h1V194.77h-1zM281 156.53h1V194.77h-1zM284 156.53h1V194.77h-1zM296 156.53h1V194.77h-1z"/>
<path fill="#3434eb" d="M156 156.53h1V194.77h-1zM159 156.53h1V194.77h-1zM190 156.53h1V194.77h-1zM194 156.53h1V194.77h-1zM197 156.53h1V194.77h-1zM201 156.53h1V194.77h-1zM204 156.53h1V194.77h-1zM205 156.53h1V194.77h-1zM212 156.53h1V194.77h-1zM223 156.53h1V194.77h-1zM231 156.53h1V194.77h-1zM242 156.53h1V194.77h-1zM258 156.53h1V194.77h-1zM277 156.53h1V194.77h-1zM292 156.53h1V194.77h-1zM299 156.53h1V194.77h-1z"/>
<path fill="#3737e5" d="M349 156.53h1V194.77h-1zM391 156.53h1V194.77h-1zM414 156.53h1V194.77h-1z"/>
<path fill="#3a3aed" d="M166 156.53h1V194.77h-1zM167 156.53h1V194.77h-1zM170 156.53h1V194.77h-1zM175 156.53h1V194.77h-1zM183 156.53h1V194.77h-1zM185 156.53h1V194.77h-1zM200 156.53h1V194.77h-1zM208 156.53h1V194.77h-1zM213 156.53h1V194.77h-1zM215 156.53h1V194.77h-1zM219 156.53h1V194.77h-1zM227 156.53h1V194.77h-1zM228 156.53h1V194.77h-1zM232 156.53h1V194.77h-1zM234 156.53h1V194.77h-1zM236 156.53h1V194.77h-1zM238 156.53h1V194.77h-1zM239 156.53h1V194.77h-1zM261 156.53h1V194.77h-1zM262 156.53h1V194.77h-1zM265 156.53h1V194.77h-1zM266 156.53h1V194.77h-1zM270 156.53h1V194.77h-1zM278 156.53h1V194.77h-1zM285 156.53h1V194.77h-1zM288 156.53h1V194.77h-1zM289 156.53h1V194.77h-1zM291 156.53h1V194.77h-1zM293 156.53h1V194.77h-1zM295 156.53h1V194.77h-1z"/>
<path fill="#3e3ee8" d="M307 156.53h1V194.77h-1zM319 156.53h1V194.77h-1zM322 156.53h1V194.77h-1zM326 156.53h1V194.77h-1zM345 156.53h1V194.77h-1zM353 156.53h1V194.77h-1zM372 156.53h1V194.77h-1zM383 156.53h1V194.77h-1zM398 156.53h1V194.77h-1zM399 156.53h1V194.77h-1zM417 156.53h1V194.77h-1z"/>
<path fill="#3f3ff0" d="M158 156.53h1V194.77h-1zM160 156.53h1V194.77h-1zM174 156.53h1V194.77h-1zM187 156.53h1V194.77h-1zM189 156.53h1V194.77h-1zM196 156.53h1V194.77h-1zM221 156.53h1V194.77h-1zM246 156.53h1V194.77h-1zM247 156.53h1V194.77h-1zM249 156.53h1V194.77h-1zM250 156.53h1V194.77h-1zM251 156.53h1V194.77h-1zM255 156.53h1V194.77h-1zM259 156.53h1V194.77h-1zM263 156.53h1V194.77h-1zM272 156.53h1V194.77h-1zM274 156.53h1V194.77h-1zM276 156.53h1V194.77h-1z"/>
<path fill="#4040d7" d="M427 156.53h1V194.77h-1zM517 156.53h1V194.77h-1z"/>
<path fill="#4444ea" d="M304 156.53h1V194.77h-1zM308 156.53h1V194.77h-1zM315 156.53h1V194.77h-1zM330 156.53h1V194.77h-1zM342 156.53h1V194.77h-1zM360 156.53h1V194.77h-1zM364 156.53h1V194.77h-1zM365 156.53h1V194.77h-1zM368 156.53h1V194.77h-1zM384 156.53h1V194.77h-1zM387 156.53h1V194.77h-1zM403 156.53h1V194.77h-1zM406 156.53h1V194.77h-1zM410 156.53h1V194.77h-1zM413 156.53h1V194.77h-1z"/>
<path fill="#4444f2" d="M162 156.53h1V194.77h-1zM164 156.53h1V194.77h-1zM169 156.53h1V194.77h-1zM172 156.53h1V194.77h-1zM177 156.53h1V194.77h-1zM179 156.53h1V194.77h-1zM181 156.53h1V194.77h-1zM188 156.53h1V194.77h-1zM192 156.53h1V194.77h-1zM198 156.53h1V194.77h-1zM202 156.53h1V194.77h-1zM211 156.53h1V194.77h-1zM217 156.53h1V194.77h-1zM222 156.53h1V194.77h-1zM226 156.53h1V194.77h-1zM230 156.53h1V194.77h-1zM233 156.53h1V194.77h-1zM240 156.53h1V194.77h-1zM248 156.53h1V194.77h-1zM257 156.53h1V194.77h-1zM264 156.53h1V194.77h-1zM282 156.53h1V194.77h-1zM294 156.53h1V194.77h-1zM297 156.53h1V194.77h-1z"/>
<path fill="#4646d9" d="M553 156.53h1V194.77h-1zM558 156.53h1V194.77h-1zM563 156.53h1V194.77h-1zM578 156.53h1V194.77h-1zM607 156.53h1V194.77h-1zM612 156.53h1V194.77h-1zM617 156.53h1V194.77h-1zM622 156.53h1V194.77h-1zM632 156.53h1V194.77h-1zM651 156.53h1V194.77h-1zM671 156.53h1V194.77h-1z"/>
<path fill="#4646db" d="M449 156.53h1V194.77h-1zM467 156.53h1V194.77h-1zM472 156.53h1V194.77h-1zM476 156.53h1V194.77h-1zM490 156.53h1V194.77h-1zM503 156.53h1V194.77h-1zM504 156.53h1V194.77h-1zM508 156.53h1V194.77h-1zM526 156.53h1V194.77h-1zM530 156.53h1V194.77h-1zM531 156.53h1V194.77h-1zM535 156.53h1V194.77h-1zM539 156.53h1V194.77h-1zM544 156.53h1V194.77h-1z"/>
<path fill="#4848d7" d="M121 156.53h1V194.77h-1zM152 156.53h1V194.77h-1z"/>
<path fill="#4a4af4" d="M161 156.53h1V194.77h-1zM176 156.53h1V194.77h-1zM180 156.53h1V194.77h-1zM184 156.53h1V194.77h-1zM199 156.53h1V194.77h-1zM203 156.53h1V194.77h-1zM210 156.53h1V194.77h-1zM218 156.53h1V194.77h-1zM225 156.53h1V194.77h-1zM229 156.53h1V194.77h-1zM244 156.53h1V194.77h-1zM245 156.53h1V194.77h-1zM252 156.53h1V194.77h-1zM253 156.53h1V194.77h-1zM286 156.53h1V194.77h-1zM298 156.53h1V194.77h-1z"/>
<path fill="#4b4bec" d="M303 156.53h1V194.77h-1zM311 156.53h1V194.77h-1zM331 156.53h1V194.77h-1zM333 156.53h1V194.77h-1zM334 156.53h1V194.77h-1zM337 156.53h1V194.77h-1zM338 156.53h1V194.77h-1zM341 156.53h1V194.77h-1zM346 156.53h1V194.77h-1zM348 156.53h1V194.77h-1zM352 156.53h1V194.77h-1zM357 156.53h1V194.77h-1zM361 156.53h1V194.77h-1zM369 156.53h1V194.77h-1zM375 156.53h1V194.77h-1zM376 156.53h1V194.77h-1zM379 156.53h1V194.77h-1zM402 156.53h1V194.77h-1zM409 156.53h1V194.77h-1zM411 156.53h1V194.77h-1zM418 156.53h1V194.77h-1zM421 156.53h1V194.77h-1z"/>
<path fill="#4c4cde" d="M301 156.53h1V194.77h-1zM426 156.53h1V194.77h-1zM432 156.53h1V194.77h-1zM445 156.53h1V194.77h-1zM459 156.53h1V194.77h-1zM463 156.53h1V194.77h-1zM468 156.53h1V194.77h-1zM477 156.53h1V194.77h-1zM481 156.53h1V194.77h-1zM482 156.53h1V194.77h-1zM485 156.53h1V194.77h-1zM486 156.53h1V194.77h-1zM494 156.53h1V194.77h-1zM509 156.53h1V194.77h-1zM512 156.53h1V194.77h-1zM518 156.53h1V194.77h-1zM522 156.53h1V194.77h-1zM540 156.53h1V194.77h-1z"/>
<path fill="#4d4ddd" d="M548 156.53h1V194.77h-1zM568 156.53h1V194.77h-1zM573 156.53h1V194.77h-1zM577 156.53h1V194.77h-1zM582 156.53h1V194.77h-1zM583 156.53h1V194.77h-1zM587 156.53h1V194.77h-1zM588 156.53h1V194.77h-1zM592 156.53h1V194.77h-1zM593 156.53h1V194.77h-1zM597 156.53h1V194.77h-1zM626 156.53h1V194.77h-1zM627 156.53h1V194.77h-1zM637 156.53h1V194.77h-1zM641 156.53h1V194.77h-1zM642 156.53h1V194.77h-1zM646 156.53h1V194.77h-1zM656 156.53h1V194.77h-1zM661 156.53h1V194.77h-1zM666 156.53h1V194.77h-1z"/>
<path fill="#4f4ff7" d="M153 156.53h1V194.77h-1zM154 156.53h1V194.77h-1zM165 156.53h1V194.77h-1zM168 156.53h1V194.77h-1zM173 156.53h1V194.77h-1zM191 156.53h1V194.77h-1zM195 156.53h1V194.77h-1zM206 156.53h1V194.77h-1zM207 156.53h1V194.77h-1zM237 156.53h1V194.77h-1zM241 156.53h1V194.77h-1zM256 156.53h1V194.77h-1zM260 156.53h1V194.77h-1zM267 156.53h1V194.77h-1zM268 156.53h1V194.77h-1zM279 156.53h1V194.77h-1zM283 156.53h1V194.77h-1zM287 156.53h1V194.77h-1zM290 156.53h1V194.77h-1z"/>
<path fill="#5050db" d="M117 156.53h1V194.77h-1zM123 156.53h1V194.77h-1zM124 156.53h1V194.77h-1zM125 156.53h1V194.77h-1zM127 156.53h1V194.77h-1zM137 156.53h1V194.77h-1zM145 156.53h1V194.77h-1zM146 156.53h1V194.77h-1zM147 156.53h1V194.77h-1z"/>
<path fill="#5151e2" d="M428 156.53h1V194.77h-1zM431 156.53h1V194.77h-1zM435 156.53h1V194.77h-1zM436 156.53h1V194.77h-1zM440 156.53h1V194.77h-1zM450 156.53h1V194.77h-1zM454 156.53h1V194.77h-1zM464 156.53h1V194.77h-1zM471 156.53h1V194.77h-1zM473 156.53h1V194.77h-1zM480 156.53h1V194.77h-1zM495 156.53h1V194.77h-1zM498 156.53h1V194.77h-1zM499 156.53h1V194.77h-1zM500 156.53h1V194.77h-1zM521 156.53h1V194.77h-1zM536 156.53h1V194.77h-1zM545 156.53h1V194.77h-1z"/>
<path fill="#5252ef" d="M314 156.53h1V194.77h-1zM318 156.53h1V194.77h-1zM323 156.53h1V194.77h-1zM329 156.53h1V194.77h-1zM344 156.53h1V194.77h-1zM356 156.53h1V194.77h-1zM358 156.53h1V194.77h-1zM359 156.53h1V194.77h-1zM371 156.53h1V194.77h-1zM373 156.53h1V194.77h-1zM380 156.53h1V194.77h-1zM388 156.53h1V194.77h-1zM390 156.53h1V194.77h-1zM394 156.53h1V194.77h-1zM395 156.53h1V194.77h-1zM396 156.53h1V194.77h-1zM407 156.53h1V194.77h-1zM415 156.53h1V194.77h-1zM422 156.53h1V194.77h-1z"/>
<path fill="#5454e0" d="M549 156.53h1V194.77h-1zM554 156.53h1V194.77h-1zM559 156.53h1V194.77h-1zM572 156.53h1V194.77h-1zM598 156.53h1V194.77h-1zM602 156.53h1V194.77h-1zM603 156.53h1V194.77h-1zM608 156.53h1V194.77h-1zM621 156.53h1V194.77h-1zM631 156.53h1V194.77h-1zM636 156.53h1V194.77h-1zM647 156.53h1V194.77h-1zM670 156.53h1V194.77h-1zM675 156.53h0.7V194.77h-0.7z"/>
<path fill="#5454f9" d="M157 156.53h1V194.77h-1zM214 156.53h1V194.77h-1zM271 156.53h1V194.77h-1zM275 156.53h1V194.77h-1z"/>
<path fill="#5757e6" d="M302 156.53h1V194.77h-1zM433 156.53h1V194.77h-1zM437 156.53h1V194.77h-1zM441 156.53h1V194.77h-1zM444 156.53h1V194.77h-1zM446 156.53h1V194.77h-1zM458 156.53h1V194.77h-1zM462 156.53h1V194.77h-1zM475 156.53h1V194.77h-1zM491 156.53h1V194.77h-1zM496 156.53h1V194.77h-1zM505 156.53h1V194.77h-1zM511 156.53h1V194.77h-1zM513 156.53h1V194.77h-1zM525 156.53h1V194.77h-1zM527 156.53h1V194.77h-1zM529 156.53h1V194.77h-1zM532 156.53h1V194.77h-1zM534 156.53h1V194.77h-1zM543 156.53h1V194.77h-1z"/>
<path fill="#5858f2" d="M305 156.53h1V194.77h-1zM306 156.53h1V194.77h-1zM312 156.53h1V194.77h-1zM313 156.53h1V194.77h-1zM316 156.53h1V194.77h-1zM321 156.53h1V194.77h-1zM327 156.53h1V194.77h-1zM335 156.53h1V194.77h-1zM350 156.53h1V194.77h-1zM351 156.53h1V194.77h-1zM366 156.53h1V194.77h-1zM367 156.53h1V194.77h-1zM382 156.53h1V194.77h-1zM392 156.53h1V194.77h-1zM412 156.53h1V194.77h-1zM419 156.53h1V194.77h-1zM423 156.53h1V194.77h-1z"/>
<path fill="#5959de" d="M122 156.53h1V194.77h-1z"/>
<path fill="#5a5ac9" d="M87 156.53h1V194.77h-1z"/>
<path fill="#5c5ce4" d="M557 156.53h1V194.77h-1zM562 156.53h1V194.77h-1zM564 156.53h1V194.77h-1zM567 156.53h1V194.77h-1zM569 156.53h1V194.77h-1zM574 156.53h1V194.77h-1zM606 156.53h1V194.77h-1zM613 156.53h1V194.77h-1zM616 156.53h1V194.77h-1zM650 156.53h1V194.77h-1zM652 156.53h1V194.77h-1zM655 156.53h1V194.77h-1zM657 156.53h1V194.77h-1zM660 156.53h1V194.77h-1zM662 156.53h1V194.77h-1zM665 156.53h1V194.77h-1z"/>
<path fill="#5d5de9" d="M300 156.53h1V194.77h-1zM424 156.53h1V194.77h-1zM439 156.53h1V194.77h-1zM451 156.53h1V194.77h-1zM453 156.53h1V194.77h-1zM455 156.53h1V194.77h-1zM461 156.53h1V194.77h-1zM469 156.53h1V194.77h-1zM474 156.53h1V194.77h-1zM478 156.53h1V194.77h-1zM483 156.53h1V194.77h-1zM487 156.53h1V194.77h-1zM488 156.53h1V194.77h-1zM489 156.53h1V194.77h-1zM492 156.53h1V194.77h-1zM507 156.53h1V194.77h-1zM514 156.53h1V194.77h-1zM516 156.53h1V194.77h-1z"/>
<path fill="#5f5ff4" d="M310 156.53h1V194.77h-1zM317 156.53h1V194.77h-1zM320 156.53h1V194.77h-1zM324 156.53h1V194.77h-1zM332 156.53h1V194.77h-1zM354 156.53h1V194.77h-1zM362 156.53h1V194.77h-1zM363 156.53h1V194.77h-1zM378 156.53h1V194.77h-1zM386 156.53h1V194.77h-1zM401 156.53h1V194.77h-1zM404 156.53h1V194.77h-1zM405 156.53h1V194.77h-1zM408 156.53h1V194.77h-1z"/>
<path fill="#6262e2" d="M144 156.53h1V194.77h-1z"/>
<path fill="#6262ed" d="M430 156.53h1V194.77h-1zM434 156.53h1V194.77h-1zM438 156.53h1V194.77h-1zM442 156.53h1V194.77h-1zM457 156.53h1V194.77h-1zM466 156.53h1V194.77h-1zM479 156.53h1V194.77h-1zM484 156.53h1V194.77h-1zM497 156.53h1V194.77h-1zM502 156.53h1V194.77h-1zM515 156.53h1V194.77h-1zM520 156.53h1V194.77h-1zM523 156.53h1V194.77h-1zM528 156.53h1V194.77h-1zM537 156.53h1V194.77h-1zM538 156.53h1V194.77h-1zM541 156.53h1V194.77h-1zM547 156.53h1V194.77h-1z"/>
<path fill="#6363e8" d="M552 156.53h1V194.77h-1zM579 156.53h1V194.77h-1zM584 156.53h1V194.77h-1zM591 156.53h1V194.77h-1zM596 156.53h1V194.77h-1zM601 156.53h1V194.77h-1zM611 156.53h1V194.77h-1zM618 156.53h1V194.77h-1zM623 156.53h1V194.77h-1zM628 156.53h1V194.77h-1zM645 156.53h1V194.77h-1zM667 156.53h1V194.77h-1z"/>
<path fill="#6565f6" d="M309 156.53h1V194.77h-1zM325 156.53h1V194.77h-1zM328 156.53h1V194.77h-1zM336 156.53h1V194.77h-1zM339 156.53h1V194.77h-1zM340 156.53h1V194.77h-1zM343 156.53h1V194.77h-1zM347 156.53h1V194.77h-1zM370 156.53h1V194.77h-1zM374 156.53h1V194.77h-1zM377 156.53h1V194.77h-1zM381 156.53h1V194.77h-1zM397 156.53h1V194.77h-1zM400 156.53h1V194.77h-1zM416 156.53h1V194.77h-1zM420 156.53h1V194.77h-1z"/>
<path fill="#6868f0" d="M443 156.53h1V194.77h-1zM447 156.53h1V194.77h-1zM448 156.53h1V194.77h-1zM452 156.53h1V194.77h-1zM456 156.53h1V194.77h-1zM460 156.53h1V194.77h-1zM465 156.53h1V194.77h-1zM470 156.53h1V194.77h-1zM493 156.53h1V194.77h-1zM506 156.53h1V194.77h-1zM510 156.53h1V194.77h-1zM519 156.53h1V194.77h-1zM524 156.53h1V194.77h-1zM533 156.53h1V194.77h-1zM542 156.53h1V194.77h-1z"/>
<path fill="#6a6acf" d="M95 156.53h1V194.77h-1zM102 156.53h1V194.77h-1zM105 156.53h1V194.77h-1z"/>
<path fill="#6a6ae6" d="M118 156.53h1V194.77h-1zM128 156.53h1V194.77h-1zM138 156.53h1V194.77h-1z"/>
<path fill="#6a6aeb" d="M550 156.53h1V194.77h-1zM586 156.53h1V194.77h-1zM589 156.53h1V194.77h-1zM594 156.53h1V194.77h-1zM625 156.53h1V194.77h-1zM633 156.53h1V194.77h-1zM635 156.53h1V194.77h-1zM638 156.53h1V194.77h-1zM640 156.53h1V194.77h-1zM643 156.53h1V194.77h-1zM672 156.53h1V194.77h-1z"/>
<path fill="#6c6cf9" d="M355 156.53h1V194.77h-1zM385 156.53h1V194.77h-1zM389 156.53h1V194.77h-1zM393 156.53h1V194.77h-1z"/>
<path fill="#6e6ef4" d="M425 156.53h1V194.77h-1zM429 156.53h1V194.77h-1zM501 156.53h1V194.77h-1zM546 156.53h1V194.77h-1z"/>
<path fill="#7272ea" d="M129 156.53h1V194.77h-1zM130 156.53h1V194.77h-1zM132 156.53h1V194.77h-1zM140 156.53h1V194.77h-1zM148 156.53h1V194.77h-1zM149 156.53h1V194.77h-1z"/>
<path fill="#7272ef" d="M555 156.53h1V194.77h-1zM566 156.53h1V194.77h-1zM571 156.53h1V194.77h-1zM576 156.53h1V194.77h-1zM581 156.53h1V194.77h-1zM599 156.53h1V194.77h-1zM609 156.53h1V194.77h-1zM610 156.53h1V194.77h-1zM614 156.53h1V194.77h-1zM630 156.53h1V194.77h-1zM648 156.53h1V194.77h-1zM653 156.53h1V194.77h-1zM658 156.53h1V194.77h-1zM664 156.53h1V194.77h-1zM674 156.53h1V194.77h-1z"/>
<path fill="#7979d5" d="M92 156.53h1V194.77h-1zM94 156.53h1V194.77h-1zM100 156.53h1V194.77h-1zM104 156.53h1V194.77h-1zM107 156.53h1V194.77h-1zM112 156.53h1V194.77h-1zM114 156.53h1V194.77h-1zM115 156.53h1V194.77h-1z"/>
<path fill="#7979f2" d="M551 156.53h1V194.77h-1zM556 156.53h1V194.77h-1zM560 156.53h1V194.77h-1zM561 156.53h1V194.77h-1zM565 156.53h1V194.77h-1zM570 156.53h1V194.77h-1zM575 156.53h1V194.77h-1zM585 156.53h1V194.77h-1zM590 156.53h1V194.77h-1zM595 156.53h1V194.77h-1zM600 156.53h1V194.77h-1zM604 156.53h1V194.77h-1zM605 156.53h1V194.77h-1zM615 156.53h1V194.77h-1zM619 156.53h1V194.77h-1zM620 156.53h1V194.77h-1zM624 156.53h1V194.77h-1zM629 156.53h1V194.77h-1zM634 156.53h1V194.77h-1zM639 156.53h1V194.77h-1zM644 156.53h1V194.77h-1zM649 156.53h1V194.77h-1zM659 156.53h1V194.77h-1zM663 156.53h1V194.77h-1zM668 156.53h1V194.77h-1zM669 156.53h1V194.77h-1zM673 156.53h1V194.77h-1z"/>
<path fill="#7b7bee" d="M119 156.53h1V194.77h-1zM126 156.53h1V194.77h-1zM131 156.53h1V194.77h-1zM134 156.53h1V194.77h-1zM135 156.53h1V194.77h-1zM141 156.53h1V194.77h-1zM142 156.53h1V194.77h-1zM143 156.53h1V194.77h-1z"/>
<path fill="#8080f6" d="M580 156.53h1V194.77h-1zM654 156.53h1V194.77h-1z"/>
<path fill="#8484f1" d="M120 156.53h1V194.77h-1zM139 156.53h1V194.77h-1zM150 156.53h1V194.77h-1zM151 156.53h1V194.77h-1z"/>
<path fill="#8989db" d="M90 156.53h1V194.77h-1zM97 156.53h1V194.77h-1zM110 156.53h1V194.77h-1z"/>
<path fill="#8c8cf5" d="M133 156.53h1V194.77h-1zM136 156.53h1V194.77h-1z"/>
<path fill="#9898e1" d="M99 156.53h1V194.77h-1z"/>
<path fill="#a8a8e7" d="M88 156.53h1V194.77h-1zM89 156.53h1V194.77h-1zM93 156.53h1V194.77h-1zM109 156.53h1V194.77h-1z"/>
<path fill="#b8b8ed" d="M91 156.53h1V194.77h-1zM96 156.53h1V194.77h-1zM98 156.53h1V194.77h-1zM101 156.53h1V194.77h-1zM113 156.53h1V194.77h-1z"/>
<path fill="#c7c7f3" d="M86 156.53h1V194.77h-1zM103 156.53h1V194.77h-1zM106 156.53h1V194.77h-1zM108 156.53h1V194.77h-1zM111 156.53h1V194.77h-1zM116 156.53h1V194.77h-1z"/>
<path fill="#2323ee" d="M155 166.09h1V185.21h-1zM163 166.09h1V185.21h-1zM178 166.09h1V185.21h-1zM182 166.09h1V185.21h-1zM193 166.09h1V185.21h-1zM243 166.09h1V185.21h-1zM254 166.09h1V185.21h-1z"/>
<path fill="#2828f0" d="M171 166.09h1V185.21h-1zM186 166.09h1V185.21h-1zM216 166.09h1V185.21h-1zM220 166.09h1V185.21h-1zM224 166.09h1V185.21h-1zM235 166.09h1V185.21h-1zM269 166.09h1V185.21h-1zM273 166.09h1V185.21h-1zM281 166.09h1V185.21h-1zM292 166.09h1V185.21h-1zM296 166.09h1V185.21h-1z"/>
<path fill="#2d2df2" d="M156 166.09h1V185.21h-1zM159 166.09h1V185.21h-1zM175 166.09h1V185.21h-1zM190 166.09h1V185.21h-1zM194 166.09h1V185.21h-1zM197 166.09h1V185.21h-1zM201 166.09h1V185.21h-1zM204 166.09h1V185.21h-1zM205 166.09h1V185.21h-1zM209 166.09h1V185.21h-1zM212 166.09h1V185.21h-1zM223 166.09h1V185.21h-1zM228 166.09h1V185.21h-1zM242 166.09h1V185.21h-1zM258 166.09h1V185.21h-1zM261 166.09h1V185.21h-1zM277 166.09h1V185.21h-1zM280 166.09h1V185.21h-1zM284 166.09h1V185.21h-1zM299 166.09h1V185.21h-1z"/>
<path fill="#3232f4" d="M166 166.09h1V185.21h-1zM167 166.09h1V185.21h-1zM170 166.09h1V185.21h-1zM183 166.09h1V185.21h-1zM185 166.09h1V185.21h-1zM189 166.09h1V185.21h-1zM200 166.09h1V185.21h-1zM208 166.09h1V185.21h-1zM215 166.09h1V185.21h-1zM221 166.09h1V185.21h-1zM227 166.09h1V185.21h-1zM231 166.09h1V185.21h-1zM232 166.09h1V185.21h-1zM236 166.09h1V185.21h-1zM238 166.09h1V185.21h-1zM239 166.09h1V185.21h-1zM247 166.09h1V185.21h-1zM250 166.09h1V185.21h-1zM265 166.09h1V185.21h-1zM266 166.09h1V185.21h-1zM270 166.09h1V185.21h-1zM278 166.09h1V185.21h-1zM289 166.09h1V185.21h-1zM291 166.09h1V185.21h-1zM293 166.09h1V185.21h-1zM295 166.09h1V185.21h-1z"/>
<path fill="#3636f6" d="M158 166.09h1V185.21h-1zM160 166.09h1V185.21h-1zM174 166.09h1V185.21h-1zM187 166.09h1V185.21h-1zM196 166.09h1V185.21h-1zM213 166.09h1V185.21h-1zM219 166.09h1V185.21h-1zM234 166.09h1V185.21h-1zM246 166.09h1V185.21h-1zM249 166.09h1V185.21h-1zM251 166.09h1V185.21h-1zM255 166.09h1V185.21h-1zM262 166.09h1V185.21h-1zM276 166.09h1V185.21h-1zM285 166.09h1V185.21h-1zM288 166.09h1V185.21h-1z"/>
<path fill="#3737eb" d="M345 166.09h1V185.21h-1zM349 166.09h1V185.21h-1zM391 166.09h1V185.21h-1zM414 166.09h1V185.21h-1zM417 166.09h1V185.21h-1z"/>
<path fill="#3838e5" d="M121 166.09h1V185.21h-1zM127 166.09h1V185.21h-1z"/>
<path fill="#3a3aeb" d="M427 166.09h1V185.21h-1zM517 166.09h1V185.21h-1zM531 166.09h1V185.21h-1z"/>
<path fill="#3b3bf8" d="M164 166.09h1V185.21h-1zM169 166.09h1V185.21h-1zM172 166.09h1V185.21h-1zM177 166.09h1V185.21h-1zM179 166.09h1V185.21h-1zM181 166.09h1V185.21h-1zM188 166.09h1V185.21h-1zM192 166.09h1V185.21h-1zM198 166.09h1V185.21h-1zM199 166.09h1V185.21h-1zM202 166.09h1V185.21h-1zM211 166.09h1V185.21h-1zM217 166.09h1V185.21h-1zM226 166.09h1V185.21h-1zM230 166.09h1V185.21h-1zM233 166.09h1V185.21h-1zM240 166.09h1V185.21h-1zM253 166.09h1V185.21h-1zM257 166.09h1V185.21h-1zM259 166.09h1V185.21h-1zM263 166.09h1V185.21h-1zM264 166.09h1V185.21h-1zM272 166.09h1V185.21h-1zM274 166.09h1V185.21h-1zM282 166.09h1V185.21h-1zM286 166.09h1V185.21h-1zM294 166.09h1V185.21h-1zM297 166.09h1V185.21h-1z"/>
<path fill="#3f3fed" d="M307 166.09h1V185.21h-1zM319 166.09h1V185.21h-1zM322 166.09h1V185.21h-1zM326 166.09h1V185.21h-1zM330 166.09h1V185.21h-1zM353 166.09h1V185.21h-1zM364 166.09h1V185.21h-1zM372 166.09h1V185.21h-1zM383 166.09h1V185.21h-1zM399 166.09h1V185.21h-1z"/>
<path fill="#4040e7" d="M553 166.09h1V185.21h-1zM558 166.09h1V185.21h-1zM573 166.09h1V185.21h-1zM612 166.09h1V185.21h-1zM622 166.09h1V185.21h-1zM627 166.09h1V185.21h-1zM641 166.09h1V185.21h-1zM661 166.09h1V185.21h-1zM671 166.09h1V185.21h-1z"/>
<path fill="#4040fa" d="M161 166.09h1V185.21h-1zM162 166.09h1V185.21h-1zM180 166.09h1V185.21h-1zM184 166.09h1V185.21h-1zM203 166.09h1V185.21h-1zM206 166.09h1V185.21h-1zM210 166.09h1V185.21h-1zM218 166.09h1V185.21h-1zM222 166.09h1V185.21h-1zM225 166.09h1V185.21h-1zM229 166.09h1V185.21h-1zM244 166.09h1V185.21h-1zM245 166.09h1V185.21h-1zM248 166.09h1V185.21h-1zM252 166.09h1V185.21h-1zM298 166.09h1V185.21h-1z"/>
<path fill="#4141e7" d="M123 166.09h1V185.21h-1zM124 166.09h1V185.21h-1zM125 166.09h1V185.21h-1zM137 166.09h1V185.21h-1zM145 166.09h1V185.21h-1zM146 166.09h1V185.21h-1zM147 166.09h1V185.21h-1zM152 166.09h1V185.21h-1z"/>
<path fill="#4242ed" d="M463 166.09h1V185.21h-1zM467 166.09h1V185.21h-1zM481 166.09h1V185.21h-1zM485 166.09h1V185.21h-1zM490 166.09h1V185.21h-1zM504 166.09h1V185.21h-1zM508 166.09h1V185.21h-1zM522 166.09h1V185.21h-1zM526 166.09h1V185.21h-1zM530 166.09h1V185.21h-1zM539 166.09h1V185.21h-1zM544 166.09h1V185.21h-1z"/>
<path fill="#4545fc" d="M153 166.09h1V185.21h-1zM154 166.09h1V185.21h-1zM165 166.09h1V185.21h-1zM168 166.09h1V185.21h-1zM173 166.09h1V185.21h-1zM176 166.09h1V185.21h-1zM191 166.09h1V185.21h-1zM195 166.09h1V185.21h-1zM237 166.09h1V185.21h-1zM241 166.09h1V185.21h-1zM256 166.09h1V185.21h-1zM260 166.09h1V185.21h-1zM267 166.09h1V185.21h-1zM268 166.09h1V185.21h-1zM271 166.09h1V185.21h-1zM279 166.09h1V185.21h-1zM283 166.09h1V185.21h-1zM287 166.09h1V185.21h-1zM290 166.09h1V185.21h-1z"/>
<path fill="#4646e1" d="M87 166.09h1V185.21h-1z"/>
<path fill="#4646f0" d="M303 166.09h1V185.21h-1zM304 166.09h1V185.21h-1zM308 166.09h1V185.21h-1zM315 166.09h1V185.21h-1zM334 166.09h1V185.21h-1zM341 166.09h1V185.21h-1zM360 166.09h1V185.21h-1zM365 166.09h1V185.21h-1zM368 166.09h1V185.21h-1zM384 166.09h1V185.21h-1zM387 166.09h1V185.21h-1zM398 166.09h1V185.21h-1zM402 166.09h1V185.21h-1zM403 166.09h1V185.21h-1zM406 166.09h1V185.21h-1zM409 166.09h1V185.21h-1zM410 166.09h1V185.21h-1zM413 166.09h1V185.21h-1zM421 166.09h1V185.21h-1z"/>
<path fill="#4949ea" d="M117 166.09h1V185.21h-1zM122 166.09h1V185.21h-1z"/>
<path fill="#4a4afe" d="M157 166.09h1V185.21h-1zM207 166.09h1V185.21h-1zM214 166.09h1V185.21h-1zM275 166.09h1V185.21h-1z"/>
<path fill="#4b4be9" d="M548 166.09h1V185.21h-1zM549 166.09h1V185.21h-1zM563 166.09h1V185.21h-1zM568 166.09h1V185.21h-1zM577 166.09h1V185.21h-1zM578 166.09h1V185.21h-1zM582 166.09h1V185.21h-1zM583 166.09h1V185.21h-1zM587 166.09h1V185.21h-1zM593 166.09h1V185.21h-1zM597 166.09h1V185.21h-1zM602 166.09h1V185.21h-1zM607 166.09h1V185.21h-1zM617 166.09h1V185.21h-1zM626 166.09h1V185.21h-1zM631 166.09h1V185.21h-1zM632 166.09h1V185.21h-1zM637 166.09h1V185.21h-1zM642 166.09h1V185.21h-1zM646 166.09h1V185.21h-1zM651 166.09h1V185.21h-1zM656 166.09h1V185.21h-1zM666 166.09h1V185.21h-1z"/>
<path fill="#4b4bee" d="M301 166.09h1V185.21h-1zM435 166.09h1V185.21h-1zM445 166.09h1V185.21h-1zM449 166.09h1V185.21h-1zM459 166.09h1V185.21h-1zM468 166.09h1V185.21h-1zM472 166.09h1V185.21h-1zM476 166.09h1V185.21h-1zM477 166.09h1V185.21h-1zM486 166.09h1V185.21h-1zM494 166.09h1V185.21h-1zM499 166.09h1V185.21h-1zM503 166.09h1V185.21h-1zM512 166.09h1V185.21h-1zM518 166.09h1V185.21h-1zM535 166.09h1V185.21h-1zM545 166.09h1V185.21h-1z"/>
<path fill="#4e4ef2" d="M311 166.09h1V185.21h-1zM331 166.09h1V185.21h-1zM337 166.09h1V185.21h-1zM338 166.09h1V185.21h-1zM342 166.09h1V185.21h-1zM352 166.09h1V185.21h-1zM357 166.09h1V185.21h-1zM375 166.09h1V185.21h-1zM376 166.09h1V185.21h-1zM379 166.09h1V185.21h-1zM390 166.09h1V185.21h-1zM395 166.09h1V185.21h-1zM418 166.09h1V185.21h-1zM422 166.09h1V185.21h-1z"/>
<path fill="#5252e4" d="M102 166.09h1V185.21h-1zM107 166.09h1V185.21h-1zM112 166.09h1V185.21h-1zM115 166.09h1V185.21h-1z"/>
<path fill="#5252ec" d="M138 166.09h1V185.21h-1zM144 166.09h1V185.21h-1z"/>
<path fill="#5353f0" d="M426 166.09h1V185.21h-1zM431 166.09h1V185.21h-1zM432 166.09h1V185.21h-1zM436 166.09h1V185.21h-1zM440 166.09h1V185.21h-1zM444 166.09h1V185.21h-1zM450 166.09h1V185.21h-1zM454 166.09h1V185.21h-1zM458 166.09h1V185.21h-1zM464 166.09h1V185.21h-1zM471 166.09h1V185.21h-1zM473 166.09h1V185.21h-1zM475 166.09h1V185.21h-1zM480 166.09h1V185.21h-1zM482 166.09h1V185.21h-1zM495 166.09h1V185.21h-1zM498 166.09h1V185.21h-1zM500 166.09h1V185.21h-1zM509 166.09h1V185.21h-1zM511 166.09h1V185.21h-1zM521 166.09h1V185.21h-1zM536 166.09h1V185.21h-1zM540 166.09h1V185.21h-1z"/>
<path fill="#5656ec" d="M554 166.09h1V185.21h-1zM572 166.09h1V185.21h-1zM588 166.09h1V185.21h-1zM592 166.09h1V185.21h-1zM598 166.09h1V185.21h-1zM603 166.09h1V185.21h-1zM608 166.09h1V185.21h-1zM621 166.09h1V185.21h-1zM636 166.09h1V185.21h-1zM652 166.09h1V185.21h-1zM670 166.09h1V185.21h-1zM675 166.09h0.7V185.21h-0.7z"/>
<path fill="#5656f4" d="M314 166.09h1V185.21h-1zM318 166.09h1V185.21h-1zM323 166.09h1V185.21h-1zM327 166.09h1V185.21h-1zM329 166.09h1V185.21h-1zM333 166.09h1V185.21h-1zM344 166.09h1V185.21h-1zM346 166.09h1V185.21h-1zM348 166.09h1V185.21h-1zM356 166.09h1V185.21h-1zM358 166.09h1V185.21h-1zM359 166.09h1V185.21h-1zM361 166.09h1V185.21h-1zM367 166.09h1V185.21h-1zM369 166.09h1V185.21h-1zM371 166.09h1V185.21h-1zM373 166.09h1V185.21h-1zM380 166.09h1V185.21h-1zM388 166.09h1V185.21h-1zM394 166.09h1V185.21h-1zM407 166.09h1V185.21h-1zM411 166.09h1V185.21h-1zM415 166.09h1V185.21h-1z"/>
<path fill="#5a5aee" d="M118 166.09h1V185.21h-1zM128 166.09h1V185.21h-1z"/>
<path fill="#5c5cf2" d="M302 166.09h1V185.21h-1zM424 166.09h1V185.21h-1zM428 166.09h1V185.21h-1zM433 166.09h1V185.21h-1zM441 166.09h1V185.21h-1zM446 166.09h1V185.21h-1zM453 166.09h1V185.21h-1zM455 166.09h1V185.21h-1zM462 166.09h1V185.21h-1zM487 166.09h1V185.21h-1zM491 166.09h1V185.21h-1zM505 166.09h1V185.21h-1zM513 166.09h1V185.21h-1zM525 166.09h1V185.21h-1zM527 166.09h1V185.21h-1zM529 166.09h1V185.21h-1zM532 166.09h1V185.21h-1zM534 166.09h1V185.21h-1z"/>
<path fill="#5d5df6" d="M305 166.09h1V185.21h-1zM306 166.09h1V185.21h-1zM312 166.09h1V185.21h-1zM313 166.09h1V185.21h-1zM316 166.09h1V185.21h-1zM320 166.09h1V185.21h-1zM321 166.09h1V185.21h-1zM335 166.09h1V185.21h-1zM350 166.09h1V185.21h-1zM351 166.09h1V185.21h-1zM354 166.09h1V185.21h-1zM386 166.09h1V185.21h-1zM392 166.09h1V185.21h-1zM396 166.09h1V185.21h-1zM405 166.09h1V185.21h-1zM412 166.09h1V185.21h-1zM419 166.09h1V185.21h-1z"/>
<path fill="#5f5fe6" d="M90 166.09h1V185.21h-1zM92 166.09h1V185.21h-1zM94 166.09h1V185.21h-1zM95 166.09h1V185.21h-1zM105 166.09h1V185.21h-1z"/>
<path fill="#6060ee" d="M557 166.09h1V185.21h-1zM559 166.09h1V185.21h-1zM562 166.09h1V185.21h-1zM564 166.09h1V185.21h-1zM567 166.09h1V185.21h-1zM569 166.09h1V185.21h-1zM574 166.09h1V185.21h-1zM613 166.09h1V185.21h-1zM616 166.09h1V185.21h-1zM647 166.09h1V185.21h-1zM650 166.09h1V185.21h-1zM657 166.09h1V185.21h-1zM660 166.09h1V185.21h-1zM662 166.09h1V185.21h-1zM665 166.09h1V185.21h-1z"/>
<path fill="#6363f0" d="M119 166.09h1V185.21h-1zM130 166.09h1V185.21h-1zM132 166.09h1V185.21h-1zM135 166.09h1V185.21h-1zM142 166.09h1V185.21h-1zM148 166.09h1V185.21h-1z"/>
<path fill="#6464f4" d="M300 166.09h1V185.21h-1zM430 166.09h1V185.21h-1zM437 166.09h1V185.21h-1zM438 166.09h1V185.21h-1zM451 166.09h1V185.21h-1zM461 166.09h1V185.21h-1zM474 166.09h1V185.21h-1zM483 166.09h1V185.21h-1zM488 166.09h1V185.21h-1zM489 166.09h1V185.21h-1zM492 166.09h1V185.21h-1zM496 166.09h1V185.21h-1zM507 166.09h1V185.21h-1zM514 166.09h1V185.21h-1zM516 166.09h1V185.21h-1zM543 166.09h1V185.21h-1z"/>
<path fill="#6565f8" d="M310 166.09h1V185.21h-1zM317 166.09h1V185.21h-1zM324 166.09h1V185.21h-1zM362 166.09h1V185.21h-1zM363 166.09h1V185.21h-1zM366 166.09h1V185.21h-1zM377 166.09h1V185.21h-1zM382 166.09h1V185.21h-1zM401 166.09h1V185.21h-1zM404 166.09h1V185.21h-1zM423 166.09h1V185.21h-1z"/>
<path fill="#6b6bf0" d="M552 166.09h1V185.21h-1zM579 166.09h1V185.21h-1zM584 166.09h1V185.21h-1zM596 166.09h1V185.21h-1zM601 166.09h1V185.21h-1zM606 166.09h1V185.21h-1zM611 166.09h1V185.21h-1zM618 166.09h1V185.21h-1zM623 166.09h1V185.21h-1zM628 166.09h1V185.21h-1zM645 166.09h1V185.21h-1zM655 166.09h1V185.21h-1zM667 166.09h1V185.21h-1zM672 166.09h1V185.21h-1z"/>
<path fill="#6c6ce9" d="M97 166.09h1V185.21h-1zM100 166.09h1V185.21h-1zM104 166.09h1V185.21h-1zM110 166.09h1V185.21h-1zM114 166.09h1V185.21h-1z"/>
<path fill="#6c6cf2" d="M126 166.09h1V185.21h-1zM129 166.09h1V185.21h-1zM139 166.09h1V185.21h-1zM140 166.09h1V185.21h-1zM143 166.09h1V185.21h-1zM149 166.09h1V185.21h-1z"/>
<path fill="#6c6cf6" d="M434 166.09h1V185.21h-1zM439 166.09h1V185.21h-1zM443 166.09h1V185.21h-1zM448 166.09h1V185.21h-1zM457 166.09h1V185.21h-1zM466 166.09h1V185.21h-1zM469 166.09h1V185.21h-1zM470 166.09h1V185.21h-1zM478 166.09h1V185.21h-1zM479 166.09h1V185.21h-1zM484 166.09h1V185.21h-1zM493 166.09h1V185.21h-1zM497 166.09h1V185.21h-1zM502 166.09h1V185.21h-1zM520 166.09h1V185.21h-1zM528 166.09h1V185.21h-1zM537 166.09h1V185.21h-1zM538 166.09h1V185.21h-1zM541 166.09h1V185.21h-1zM547 166.09h1V185.21h-1z"/>
<path fill="#6c6cfb" d="M325 166.09h1V185.21h-1zM328 166.09h1V185.21h-1zM332 166.09h1V185.21h-1zM336 166.09h1V185.21h-1zM339 166.09h1V185.21h-1zM340 166.09h1V185.21h-1zM343 166.09h1V185.21h-1zM347 166.09h1V185.21h-1zM355 166.09h1V185.21h-1zM370 166.09h1V185.21h-1zM374 166.09h1V185.21h-1zM378 166.09h1V185.21h-1zM381 166.09h1V185.21h-1zM393 166.09h1V185.21h-1zM397 166.09h1V185.21h-1zM400 166.09h1V185.21h-1zM408 166.09h1V185.21h-1zM416 166.09h1V185.21h-1zM420 166.09h1V185.21h-1z"/>
<path fill="#7474f5" d="M120 166.09h1V185.21h-1zM131 166.09h1V185.21h-1zM134 166.09h1V185.21h-1zM141 166.09h1V185.21h-1zM150 166.09h1V185.21h-1zM151 166.09h1V185.21h-1z"/>
<path fill="#7474fd" d="M309 166.09h1V185.21h-1zM385 166.09h1V185.21h-1zM389 166.09h1V185.21h-1z"/>
<path fill="#7575f7" d="M425 166.09h1V185.21h-1zM429 166.09h1V185.21h-1zM442 166.09h1V185.21h-1zM447 166.09h1V185.21h-1zM452 166.09h1V185.21h-1zM456 166.09h1V185.21h-1zM460 166.09h1V185.21h-1zM506 166.09h1V185.21h-1zM510 166.09h1V185.21h-1zM515 166.09h1V185.21h-1zM519 166.09h1V185.21h-1zM523 166.09h1V185.21h-1zM524 166.09h1V185.21h-1zM542 166.09h1V185.21h-1zM546 166.09h1V185.21h-1z"/>
<path fill="#7676f2" d="M550 166.09h1V185.21h-1zM586 166.09h1V185.21h-1zM589 166.09h1V185.21h-1zM591 166.09h1V185.21h-1zM594 166.09h1V185.21h-1zM633 166.09h1V185.21h-1zM635 166.09h1V185.21h-1zM638 166.09h1V185.21h-1zM640 166.09h1V185.21h-1zM643 166.09h1V185.21h-1z"/>
<path fill="#7878ec" d="M99 166.09h1V185.21h-1z"/>
<path fill="#7d7df7" d="M133 166.09h1V185.21h-1zM136 166.09h1V185.21h-1z"/>
<path fill="#7d7df9" d="M465 166.09h1V185.21h-1zM501 166.09h1V185.21h-1zM533 166.09h1V185.21h-1z"/>
<path fill="#8080f4" d="M555 166.09h1V185.21h-1zM560 166.09h1V185.21h-1zM561 166.09h1V185.21h-1zM566 166.09h1V185.21h-1zM570 166.09h1V185.21h-1zM571 166.09h1V185.21h-1zM576 166.09h1V185.21h-1zM581 166.09h1V185.21h-1zM599 166.09h1V185.21h-1zM609 166.09h1V185.21h-1zM610 166.09h1V185.21h-1zM614 166.09h1V185.21h-1zM625 166.09h1V185.21h-1zM639 166.09h1V185.21h-1zM648 166.09h1V185.21h-1zM653 166.09h1V185.21h-1zM668 166.09h1V185.21h-1zM674 166.09h1V185.21h-1z"/>
<path fill="#8484ef" d="M88 166.09h1V185.21h-1zM93 166.09h1V185.21h-1zM96 166.09h1V185.21h-1zM101 166.09h1V185.21h-1zM113 166.09h1V185.21h-1z"/>
<path fill="#8b8bf7" d="M556 166.09h1V185.21h-1zM575 166.09h1V185.21h-1zM580 166.09h1V185.21h-1zM585 166.09h1V185.21h-1zM590 166.09h1V185.21h-1zM595 166.09h1V185.21h-1zM600 166.09h1V185.21h-1zM604 166.09h1V185.21h-1zM605 166.09h1V185.21h-1zM615 166.09h1V185.21h-1zM619 166.09h1V185.21h-1zM620 166.09h1V185.21h-1zM624 166.09h1V185.21h-1zM629 166.09h1V185.21h-1zM630 166.09h1V185.21h-1zM644 166.09h1V185.21h-1zM649 166.09h1V185.21h-1zM654 166.09h1V185.21h-1zM658 166.09h1V185.21h-1zM659 166.09h1V185.21h-1zM663 166.09h1V185.21h-1zM664 166.09h1V185.21h-1zM669 166.09h1V185.21h-1zM673 166.09h1V185.21h-1z"/>
<path fill="#9191f2" d="M86 166.09h1V185.21h-1zM89 166.09h1V185.21h-1zM91 166.09h1V185.21h-1zM98 166.09h1V185.21h-1zM106 166.09h1V185.21h-1zM109 166.09h1V185.21h-1z"/>
<path fill="#9696f9" d="M551 166.09h1V185.21h-1zM565 166.09h1V185.21h-1zM634 166.09h1V185.21h-1z"/>
<path fill="#9e9ef4" d="M103 166.09h1V185.21h-1zM108 166.09h1V185.21h-1zM111 166.09h1V185.21h-1z"/>
<path fill="#aaaaf7" d="M116 166.09h1V185.21h-1z"/></g>
<rect x="43.2" y="176.65" width="14" height="9.56" fill="#0a0aeb"/>
<rect x="57.2" y="167.09" width="4.1" height="9.56" fill="#0a0aeb"/>
<rect x="61.3" y="167.09" width="24.3" height="19.12" fill="#dedefa"/>
<rect x="64.4" y="167.09" width="1.6" height="9.56" fill="#1e1ec8"/>
<rect x="68.6" y="167.09" width="1.6" height="9.56" fill="#1e1ec8"/>
<rect x="72.3" y="167.09" width="1.6" height="9.56" fill="#1e1ec8"/>
<rect x="76.3" y="167.09" width="1.6" height="9.56" fill="#1e1ec8"/>
<rect x="80.8" y="167.09" width="1.6" height="9.56" fill="#1e1ec8"/>
<rect x="84.3" y="167.09" width="1.3" height="9.56" fill="#1e1ec8"/>
<rect x="61.6" y="176.65" width="1.6" height="9.56" fill="#1e1ec8"/>
<rect x="66.2" y="176.65" width="1.6" height="9.56" fill="#1e1ec8"/>
<rect x="70.5" y="176.65" width="1.6" height="9.56" fill="#1e1ec8"/>
<rect x="74.6" y="176.65" width="1.6" height="9.56" fill="#1e1ec8"/>
<rect x="78.6" y="176.65" width="1.6" height="9.56" fill="#1e1ec8"/>
<rect x="82.3" y="176.65" width="1.6" height="9.56" fill="#1e1ec8"/>
<rect x="66.4" y="157.53" width="1" height="38.24" fill="#6e6ecd"/>
<rect x="68.4" y="157.53" width="1" height="38.24" fill="#6e6ecd"/>
<rect x="78" y="157.53" width="1" height="38.24" fill="#6e6ecd"/>
<rect x="79.8" y="157.53" width="1" height="38.24" fill="#6e6ecd"/>
<path fill="none" stroke-width="1.1" stroke="#a4a4a4" d="M43.2 128.9H675.7"/>
<path fill="none" stroke-width="1" stroke="#c4c4c4" d="M675.7 128.9V224"/>
<path fill="none" stroke-width="1.1" stroke="#a8a8a8" d="M43.2 224H675.7"/>
<path fill="none" stroke-width="1.2" stroke="#9c9c9c" d="M43.2 128.4V224.5"/>
<text font-size="14.5" text-anchor="end" transform="translate(39.4 152.3) scale(0.8 1)">500</text>
<text font-size="14.5" text-anchor="end" transform="translate(39.4 181.95) scale(0.8 1)">0</text>
<text font-size="14.5" text-anchor="end" transform="translate(39.4 211.6) scale(0.8 1)">-500</text>
<text font-size="15" text-anchor="middle" transform="translate(43.6 241.5) scale(0.8 1)">0</text>
<text font-size="15" text-anchor="middle" transform="translate(254.43 241.5) scale(0.8 1)">5</text>
<text font-size="15" text-anchor="middle" transform="translate(465.27 241.5) scale(0.8 1)">10</text>
<text font-size="15" text-anchor="middle" transform="translate(676.1 241.5) scale(0.8 1)">15</text>
<text font-size="13.5" text-anchor="middle" transform="translate(12.7 176.3) rotate(-90) scale(1.2 1)">Vbc (V)</text>
<path stroke="#d4d4d4" stroke-width="1" fill="none" d="M43.2 266.6H675.7M43.2 290.1H675.7M43.2 313.6H675.7M254.03 252.7V327.9M464.87 252.7V327.9"/>
<path fill="none" stroke-width="1" stroke="#b4b4b4" d="M43.2 266.6h6M43.2 290.1h6M43.2 313.6h6M254.03 327.9v-6M254.03 252.7v6M464.87 327.9v-6M464.87 252.7v6"/>
<g><path fill="#ecec96" d="M258 258.8h1V320.4h-1zM273 258.8h1V320.4h-1zM364 258.8h1V320.4h-1zM372 258.8h1V320.4h-1z"/>
<path fill="#eeee9b" d="M153 258.8h1V320.4h-1zM159 258.8h1V320.4h-1zM170 258.8h1V320.4h-1zM171 258.8h1V320.4h-1zM174 258.8h1V320.4h-1zM178 258.8h1V320.4h-1zM182 258.8h1V320.4h-1zM186 258.8h1V320.4h-1zM190 258.8h1V320.4h-1zM212 258.8h1V320.4h-1zM224 258.8h1V320.4h-1zM231 258.8h1V320.4h-1zM262 258.8h1V320.4h-1zM281 258.8h1V320.4h-1zM322 258.8h1V320.4h-1zM327 258.8h1V320.4h-1zM330 258.8h1V320.4h-1zM334 258.8h1V320.4h-1zM338 258.8h1V320.4h-1zM341 258.8h1V320.4h-1zM357 258.8h1V320.4h-1zM376 258.8h1V320.4h-1zM402 258.8h1V320.4h-1zM410 258.8h1V320.4h-1zM413 258.8h1V320.4h-1zM414 258.8h1V320.4h-1zM417 258.8h1V320.4h-1z"/>
<path fill="#f0f0a0" d="M155 258.8h1V320.4h-1zM163 258.8h1V320.4h-1zM167 258.8h1V320.4h-1zM193 258.8h1V320.4h-1zM208 258.8h1V320.4h-1zM213 258.8h1V320.4h-1zM216 258.8h1V320.4h-1zM220 258.8h1V320.4h-1zM232 258.8h1V320.4h-1zM239 258.8h1V320.4h-1zM243 258.8h1V320.4h-1zM246 258.8h1V320.4h-1zM250 258.8h1V320.4h-1zM254 258.8h1V320.4h-1zM257 258.8h1V320.4h-1zM261 258.8h1V320.4h-1zM265 258.8h1V320.4h-1zM277 258.8h1V320.4h-1zM284 258.8h1V320.4h-1zM288 258.8h1V320.4h-1zM292 258.8h1V320.4h-1zM307 258.8h1V320.4h-1zM311 258.8h1V320.4h-1zM337 258.8h1V320.4h-1zM345 258.8h1V320.4h-1zM350 258.8h1V320.4h-1zM353 258.8h1V320.4h-1zM361 258.8h1V320.4h-1zM368 258.8h1V320.4h-1zM371 258.8h1V320.4h-1zM379 258.8h1V320.4h-1zM380 258.8h1V320.4h-1zM387 258.8h1V320.4h-1zM399 258.8h1V320.4h-1zM418 258.8h1V320.4h-1zM421 258.8h1V320.4h-1z"/>
<path fill="#f2f2a5" d="M158 258.8h1V320.4h-1zM166 258.8h1V320.4h-1zM175 258.8h1V320.4h-1zM197 258.8h1V320.4h-1zM201 258.8h1V320.4h-1zM204 258.8h1V320.4h-1zM205 258.8h1V320.4h-1zM209 258.8h1V320.4h-1zM217 258.8h1V320.4h-1zM228 258.8h1V320.4h-1zM235 258.8h1V320.4h-1zM255 258.8h1V320.4h-1zM259 258.8h1V320.4h-1zM266 258.8h1V320.4h-1zM269 258.8h1V320.4h-1zM270 258.8h1V320.4h-1zM285 258.8h1V320.4h-1zM291 258.8h1V320.4h-1zM296 258.8h1V320.4h-1zM303 258.8h1V320.4h-1zM304 258.8h1V320.4h-1zM315 258.8h1V320.4h-1zM316 258.8h1V320.4h-1zM319 258.8h1V320.4h-1zM326 258.8h1V320.4h-1zM333 258.8h1V320.4h-1zM349 258.8h1V320.4h-1zM354 258.8h1V320.4h-1zM356 258.8h1V320.4h-1zM365 258.8h1V320.4h-1zM369 258.8h1V320.4h-1zM375 258.8h1V320.4h-1zM383 258.8h1V320.4h-1zM384 258.8h1V320.4h-1zM386 258.8h1V320.4h-1zM391 258.8h1V320.4h-1zM395 258.8h1V320.4h-1zM403 258.8h1V320.4h-1zM406 258.8h1V320.4h-1z"/>
<path fill="#f4f4aa" d="M156 258.8h1V320.4h-1zM160 258.8h1V320.4h-1zM162 258.8h1V320.4h-1zM164 258.8h1V320.4h-1zM172 258.8h1V320.4h-1zM177 258.8h1V320.4h-1zM181 258.8h1V320.4h-1zM183 258.8h1V320.4h-1zM185 258.8h1V320.4h-1zM189 258.8h1V320.4h-1zM191 258.8h1V320.4h-1zM194 258.8h1V320.4h-1zM198 258.8h1V320.4h-1zM200 258.8h1V320.4h-1zM203 258.8h1V320.4h-1zM211 258.8h1V320.4h-1zM215 258.8h1V320.4h-1zM221 258.8h1V320.4h-1zM227 258.8h1V320.4h-1zM242 258.8h1V320.4h-1zM244 258.8h1V320.4h-1zM247 258.8h1V320.4h-1zM249 258.8h1V320.4h-1zM251 258.8h1V320.4h-1zM274 258.8h1V320.4h-1zM276 258.8h1V320.4h-1zM278 258.8h1V320.4h-1zM280 258.8h1V320.4h-1zM289 258.8h1V320.4h-1zM293 258.8h1V320.4h-1zM299 258.8h1V320.4h-1zM308 258.8h1V320.4h-1zM310 258.8h1V320.4h-1zM312 258.8h1V320.4h-1zM320 258.8h1V320.4h-1zM323 258.8h1V320.4h-1zM342 258.8h1V320.4h-1zM346 258.8h1V320.4h-1zM348 258.8h1V320.4h-1zM352 258.8h1V320.4h-1zM360 258.8h1V320.4h-1zM373 258.8h1V320.4h-1zM377 258.8h1V320.4h-1zM394 258.8h1V320.4h-1zM398 258.8h1V320.4h-1zM401 258.8h1V320.4h-1zM405 258.8h1V320.4h-1zM407 258.8h1V320.4h-1zM409 258.8h1V320.4h-1z"/>
<path fill="#f6f6af" d="M161 258.8h1V320.4h-1zM168 258.8h1V320.4h-1zM176 258.8h1V320.4h-1zM179 258.8h1V320.4h-1zM184 258.8h1V320.4h-1zM187 258.8h1V320.4h-1zM192 258.8h1V320.4h-1zM196 258.8h1V320.4h-1zM206 258.8h1V320.4h-1zM210 258.8h1V320.4h-1zM214 258.8h1V320.4h-1zM219 258.8h1V320.4h-1zM222 258.8h1V320.4h-1zM223 258.8h1V320.4h-1zM230 258.8h1V320.4h-1zM236 258.8h1V320.4h-1zM238 258.8h1V320.4h-1zM241 258.8h1V320.4h-1zM253 258.8h1V320.4h-1zM256 258.8h1V320.4h-1zM268 258.8h1V320.4h-1zM271 258.8h1V320.4h-1zM275 258.8h1V320.4h-1zM279 258.8h1V320.4h-1zM295 258.8h1V320.4h-1zM297 258.8h1V320.4h-1zM314 258.8h1V320.4h-1zM318 258.8h1V320.4h-1zM325 258.8h1V320.4h-1zM340 258.8h1V320.4h-1zM343 258.8h1V320.4h-1zM358 258.8h1V320.4h-1zM363 258.8h1V320.4h-1zM366 258.8h1V320.4h-1zM388 258.8h1V320.4h-1zM390 258.8h1V320.4h-1zM392 258.8h1V320.4h-1zM393 258.8h1V320.4h-1zM396 258.8h1V320.4h-1zM415 258.8h1V320.4h-1zM422 258.8h1V320.4h-1z"/>
<path fill="#f8f8b4" d="M154 258.8h1V320.4h-1zM165 258.8h1V320.4h-1zM169 258.8h1V320.4h-1zM173 258.8h1V320.4h-1zM188 258.8h1V320.4h-1zM202 258.8h1V320.4h-1zM218 258.8h1V320.4h-1zM225 258.8h1V320.4h-1zM226 258.8h1V320.4h-1zM233 258.8h1V320.4h-1zM234 258.8h1V320.4h-1zM240 258.8h1V320.4h-1zM248 258.8h1V320.4h-1zM252 258.8h1V320.4h-1zM260 258.8h1V320.4h-1zM272 258.8h1V320.4h-1zM282 258.8h1V320.4h-1zM305 258.8h1V320.4h-1zM306 258.8h1V320.4h-1zM317 258.8h1V320.4h-1zM321 258.8h1V320.4h-1zM324 258.8h1V320.4h-1zM328 258.8h1V320.4h-1zM329 258.8h1V320.4h-1zM331 258.8h1V320.4h-1zM332 258.8h1V320.4h-1zM335 258.8h1V320.4h-1zM339 258.8h1V320.4h-1zM355 258.8h1V320.4h-1zM359 258.8h1V320.4h-1zM362 258.8h1V320.4h-1zM367 258.8h1V320.4h-1zM374 258.8h1V320.4h-1zM378 258.8h1V320.4h-1zM385 258.8h1V320.4h-1zM397 258.8h1V320.4h-1zM400 258.8h1V320.4h-1zM411 258.8h1V320.4h-1zM419 258.8h1V320.4h-1z"/>
<path fill="#fafab9" d="M157 258.8h1V320.4h-1zM180 258.8h1V320.4h-1zM195 258.8h1V320.4h-1zM199 258.8h1V320.4h-1zM207 258.8h1V320.4h-1zM229 258.8h1V320.4h-1zM245 258.8h1V320.4h-1zM263 258.8h1V320.4h-1zM264 258.8h1V320.4h-1zM267 258.8h1V320.4h-1zM283 258.8h1V320.4h-1zM286 258.8h1V320.4h-1zM287 258.8h1V320.4h-1zM290 258.8h1V320.4h-1zM298 258.8h1V320.4h-1zM344 258.8h1V320.4h-1zM347 258.8h1V320.4h-1zM370 258.8h1V320.4h-1zM381 258.8h1V320.4h-1zM382 258.8h1V320.4h-1zM389 258.8h1V320.4h-1zM404 258.8h1V320.4h-1zM412 258.8h1V320.4h-1zM416 258.8h1V320.4h-1zM420 258.8h1V320.4h-1zM423 258.8h1V320.4h-1z"/>
<path fill="#fcfcbe" d="M237 258.8h1V320.4h-1zM294 258.8h1V320.4h-1zM309 258.8h1V320.4h-1zM313 258.8h1V320.4h-1zM336 258.8h1V320.4h-1zM351 258.8h1V320.4h-1zM408 258.8h1V320.4h-1z"/>
<path fill="#eeee64" d="M490 266.5h1V312.7h-1zM499 266.5h1V312.7h-1zM508 266.5h1V312.7h-1z"/>
<path fill="#eeee78" d="M141 266.5h1V312.7h-1zM142 266.5h1V312.7h-1z"/>
<path fill="#eeee80" d="M548 266.5h1V312.7h-1zM563 266.5h1V312.7h-1zM568 266.5h1V312.7h-1zM607 266.5h1V312.7h-1zM641 266.5h1V312.7h-1zM651 266.5h1V312.7h-1zM656 266.5h1V312.7h-1zM666 266.5h1V312.7h-1z"/>
<path fill="#f0f05f" d="M178 266.5h1V312.7h-1zM258 266.5h1V312.7h-1zM372 266.5h1V312.7h-1zM402 266.5h1V312.7h-1z"/>
<path fill="#f0f068" d="M301 266.5h1V312.7h-1zM459 266.5h1V312.7h-1zM467 266.5h1V312.7h-1zM472 266.5h1V312.7h-1zM477 266.5h1V312.7h-1zM486 266.5h1V312.7h-1zM495 266.5h1V312.7h-1zM526 266.5h1V312.7h-1zM540 266.5h1V312.7h-1z"/>
<path fill="#f0f07d" d="M117 266.5h1V312.7h-1zM122 266.5h1V312.7h-1zM126 266.5h1V312.7h-1zM133 266.5h1V312.7h-1zM147 266.5h1V312.7h-1zM150 266.5h1V312.7h-1z"/>
<path fill="#f0f086" d="M553 266.5h1V312.7h-1zM558 266.5h1V312.7h-1zM573 266.5h1V312.7h-1zM578 266.5h1V312.7h-1zM583 266.5h1V312.7h-1zM588 266.5h1V312.7h-1zM592 266.5h1V312.7h-1zM602 266.5h1V312.7h-1zM612 266.5h1V312.7h-1zM617 266.5h1V312.7h-1zM622 266.5h1V312.7h-1zM627 266.5h1V312.7h-1zM631 266.5h1V312.7h-1zM632 266.5h1V312.7h-1zM636 266.5h1V312.7h-1zM646 266.5h1V312.7h-1zM661 266.5h1V312.7h-1zM671 266.5h1V312.7h-1zM675 266.5h0.7V312.7h-0.7z"/>
<path fill="#f2f263" d="M153 266.5h1V312.7h-1zM159 266.5h1V312.7h-1zM170 266.5h1V312.7h-1zM174 266.5h1V312.7h-1zM182 266.5h1V312.7h-1zM186 266.5h1V312.7h-1zM190 266.5h1V312.7h-1zM193 266.5h1V312.7h-1zM212 266.5h1V312.7h-1zM213 266.5h1V312.7h-1zM224 266.5h1V312.7h-1zM250 266.5h1V312.7h-1zM254 266.5h1V312.7h-1zM262 266.5h1V312.7h-1zM265 266.5h1V312.7h-1zM273 266.5h1V312.7h-1zM284 266.5h1V312.7h-1zM307 266.5h1V312.7h-1zM322 266.5h1V312.7h-1zM330 266.5h1V312.7h-1zM334 266.5h1V312.7h-1zM338 266.5h1V312.7h-1zM341 266.5h1V312.7h-1zM357 266.5h1V312.7h-1zM364 266.5h1V312.7h-1zM376 266.5h1V312.7h-1zM410 266.5h1V312.7h-1zM414 266.5h1V312.7h-1zM417 266.5h1V312.7h-1zM418 266.5h1V312.7h-1z"/>
<path fill="#f2f26c" d="M427 266.5h1V312.7h-1zM428 266.5h1V312.7h-1zM431 266.5h1V312.7h-1zM437 266.5h1V312.7h-1zM445 266.5h1V312.7h-1zM455 266.5h1V312.7h-1zM462 266.5h1V312.7h-1zM481 266.5h1V312.7h-1zM507 266.5h1V312.7h-1zM509 266.5h1V312.7h-1zM513 266.5h1V312.7h-1zM516 266.5h1V312.7h-1zM535 266.5h1V312.7h-1zM539 266.5h1V312.7h-1z"/>
<path fill="#f2f28b" d="M549 266.5h1V312.7h-1zM554 266.5h1V312.7h-1zM572 266.5h1V312.7h-1zM577 266.5h1V312.7h-1zM582 266.5h1V312.7h-1zM587 266.5h1V312.7h-1zM593 266.5h1V312.7h-1zM597 266.5h1V312.7h-1zM598 266.5h1V312.7h-1zM626 266.5h1V312.7h-1zM637 266.5h1V312.7h-1zM642 266.5h1V312.7h-1zM647 266.5h1V312.7h-1zM665 266.5h1V312.7h-1zM670 266.5h1V312.7h-1z"/>
<path fill="#f3f366" d="M155 266.5h1V312.7h-1zM166 266.5h1V312.7h-1zM167 266.5h1V312.7h-1zM171 266.5h1V312.7h-1zM204 266.5h1V312.7h-1zM208 266.5h1V312.7h-1zM216 266.5h1V312.7h-1zM220 266.5h1V312.7h-1zM231 266.5h1V312.7h-1zM232 266.5h1V312.7h-1zM239 266.5h1V312.7h-1zM243 266.5h1V312.7h-1zM246 266.5h1V312.7h-1zM261 266.5h1V312.7h-1zM266 266.5h1V312.7h-1zM277 266.5h1V312.7h-1zM281 266.5h1V312.7h-1zM288 266.5h1V312.7h-1zM292 266.5h1V312.7h-1zM311 266.5h1V312.7h-1zM327 266.5h1V312.7h-1zM333 266.5h1V312.7h-1zM337 266.5h1V312.7h-1zM345 266.5h1V312.7h-1zM350 266.5h1V312.7h-1zM353 266.5h1V312.7h-1zM361 266.5h1V312.7h-1zM368 266.5h1V312.7h-1zM379 266.5h1V312.7h-1zM380 266.5h1V312.7h-1zM391 266.5h1V312.7h-1zM399 266.5h1V312.7h-1zM403 266.5h1V312.7h-1zM406 266.5h1V312.7h-1zM413 266.5h1V312.7h-1zM421 266.5h1V312.7h-1z"/>
<path fill="#f3f36f" d="M302 266.5h1V312.7h-1zM436 266.5h1V312.7h-1zM440 266.5h1V312.7h-1zM441 266.5h1V312.7h-1zM444 266.5h1V312.7h-1zM449 266.5h1V312.7h-1zM450 266.5h1V312.7h-1zM453 266.5h1V312.7h-1zM454 266.5h1V312.7h-1zM458 266.5h1V312.7h-1zM463 266.5h1V312.7h-1zM471 266.5h1V312.7h-1zM476 266.5h1V312.7h-1zM480 266.5h1V312.7h-1zM482 266.5h1V312.7h-1zM489 266.5h1V312.7h-1zM491 266.5h1V312.7h-1zM494 266.5h1V312.7h-1zM498 266.5h1V312.7h-1zM500 266.5h1V312.7h-1zM503 266.5h1V312.7h-1zM504 266.5h1V312.7h-1zM517 266.5h1V312.7h-1zM518 266.5h1V312.7h-1zM522 266.5h1V312.7h-1zM527 266.5h1V312.7h-1zM530 266.5h1V312.7h-1zM531 266.5h1V312.7h-1zM534 266.5h1V312.7h-1zM544 266.5h1V312.7h-1zM545 266.5h1V312.7h-1z"/>
<path fill="#f3f387" d="M123 266.5h1V312.7h-1zM139 266.5h1V312.7h-1zM149 266.5h1V312.7h-1z"/>
<path fill="#f3f390" d="M552 266.5h1V312.7h-1zM557 266.5h1V312.7h-1zM559 266.5h1V312.7h-1zM564 266.5h1V312.7h-1zM567 266.5h1V312.7h-1zM569 266.5h1V312.7h-1zM574 266.5h1V312.7h-1zM603 266.5h1V312.7h-1zM606 266.5h1V312.7h-1zM608 266.5h1V312.7h-1zM611 266.5h1V312.7h-1zM616 266.5h1V312.7h-1zM618 266.5h1V312.7h-1zM621 266.5h1V312.7h-1zM652 266.5h1V312.7h-1zM655 266.5h1V312.7h-1zM657 266.5h1V312.7h-1zM660 266.5h1V312.7h-1zM662 266.5h1V312.7h-1zM672 266.5h1V312.7h-1z"/>
<path fill="#f4f46a" d="M158 266.5h1V312.7h-1zM163 266.5h1V312.7h-1zM183 266.5h1V312.7h-1zM197 266.5h1V312.7h-1zM201 266.5h1V312.7h-1zM205 266.5h1V312.7h-1zM217 266.5h1V312.7h-1zM221 266.5h1V312.7h-1zM228 266.5h1V312.7h-1zM235 266.5h1V312.7h-1zM242 266.5h1V312.7h-1zM255 266.5h1V312.7h-1zM257 266.5h1V312.7h-1zM259 266.5h1V312.7h-1zM269 266.5h1V312.7h-1zM285 266.5h1V312.7h-1zM291 266.5h1V312.7h-1zM296 266.5h1V312.7h-1zM303 266.5h1V312.7h-1zM304 266.5h1V312.7h-1zM315 266.5h1V312.7h-1zM319 266.5h1V312.7h-1zM326 266.5h1V312.7h-1zM342 266.5h1V312.7h-1zM349 266.5h1V312.7h-1zM352 266.5h1V312.7h-1zM354 266.5h1V312.7h-1zM356 266.5h1V312.7h-1zM365 266.5h1V312.7h-1zM369 266.5h1V312.7h-1zM371 266.5h1V312.7h-1zM375 266.5h1V312.7h-1zM383 266.5h1V312.7h-1zM384 266.5h1V312.7h-1zM386 266.5h1V312.7h-1zM387 266.5h1V312.7h-1zM395 266.5h1V312.7h-1zM398 266.5h1V312.7h-1zM409 266.5h1V312.7h-1z"/>
<path fill="#f5f573" d="M432 266.5h1V312.7h-1zM435 266.5h1V312.7h-1zM446 266.5h1V312.7h-1zM448 266.5h1V312.7h-1zM451 266.5h1V312.7h-1zM464 266.5h1V312.7h-1zM466 266.5h1V312.7h-1zM468 266.5h1V312.7h-1zM475 266.5h1V312.7h-1zM485 266.5h1V312.7h-1zM512 266.5h1V312.7h-1zM521 266.5h1V312.7h-1zM523 266.5h1V312.7h-1zM525 266.5h1V312.7h-1zM536 266.5h1V312.7h-1zM547 266.5h1V312.7h-1z"/>
<path fill="#f5f58c" d="M125 266.5h1V312.7h-1zM136 266.5h1V312.7h-1zM138 266.5h1V312.7h-1zM148 266.5h1V312.7h-1zM152 266.5h1V312.7h-1z"/>
<path fill="#f5f596" d="M562 266.5h1V312.7h-1zM579 266.5h1V312.7h-1zM584 266.5h1V312.7h-1zM596 266.5h1V312.7h-1zM601 266.5h1V312.7h-1zM613 266.5h1V312.7h-1zM623 266.5h1V312.7h-1zM645 266.5h1V312.7h-1zM667 266.5h1V312.7h-1z"/>
<path fill="#f6f66e" d="M156 266.5h1V312.7h-1zM160 266.5h1V312.7h-1zM161 266.5h1V312.7h-1zM162 266.5h1V312.7h-1zM164 266.5h1V312.7h-1zM168 266.5h1V312.7h-1zM175 266.5h1V312.7h-1zM179 266.5h1V312.7h-1zM181 266.5h1V312.7h-1zM185 266.5h1V312.7h-1zM189 266.5h1V312.7h-1zM191 266.5h1V312.7h-1zM192 266.5h1V312.7h-1zM198 266.5h1V312.7h-1zM200 266.5h1V312.7h-1zM209 266.5h1V312.7h-1zM211 266.5h1V312.7h-1zM215 266.5h1V312.7h-1zM223 266.5h1V312.7h-1zM227 266.5h1V312.7h-1zM244 266.5h1V312.7h-1zM247 266.5h1V312.7h-1zM249 266.5h1V312.7h-1zM251 266.5h1V312.7h-1zM270 266.5h1V312.7h-1zM278 266.5h1V312.7h-1zM280 266.5h1V312.7h-1zM289 266.5h1V312.7h-1zM293 266.5h1V312.7h-1zM297 266.5h1V312.7h-1zM299 266.5h1V312.7h-1zM308 266.5h1V312.7h-1zM312 266.5h1V312.7h-1zM316 266.5h1V312.7h-1zM323 266.5h1V312.7h-1zM343 266.5h1V312.7h-1zM346 266.5h1V312.7h-1zM360 266.5h1V312.7h-1zM373 266.5h1V312.7h-1zM394 266.5h1V312.7h-1zM401 266.5h1V312.7h-1zM407 266.5h1V312.7h-1zM422 266.5h1V312.7h-1z"/>
<path fill="#f7f777" d="M300 266.5h1V312.7h-1zM424 266.5h1V312.7h-1zM426 266.5h1V312.7h-1zM430 266.5h1V312.7h-1zM433 266.5h1V312.7h-1zM452 266.5h1V312.7h-1zM456 266.5h1V312.7h-1zM460 266.5h1V312.7h-1zM473 266.5h1V312.7h-1zM484 266.5h1V312.7h-1zM487 266.5h1V312.7h-1zM511 266.5h1V312.7h-1zM514 266.5h1V312.7h-1zM519 266.5h1V312.7h-1zM520 266.5h1V312.7h-1zM524 266.5h1V312.7h-1zM528 266.5h1V312.7h-1zM532 266.5h1V312.7h-1zM538 266.5h1V312.7h-1zM542 266.5h1V312.7h-1zM543 266.5h1V312.7h-1z"/>
<path fill="#f7f791" d="M120 266.5h1V312.7h-1zM124 266.5h1V312.7h-1zM129 266.5h1V312.7h-1zM131 266.5h1V312.7h-1zM132 266.5h1V312.7h-1zM140 266.5h1V312.7h-1z"/>
<path fill="#f7f79c" d="M586 266.5h1V312.7h-1zM589 266.5h1V312.7h-1zM591 266.5h1V312.7h-1zM594 266.5h1V312.7h-1zM628 266.5h1V312.7h-1zM630 266.5h1V312.7h-1zM633 266.5h1V312.7h-1zM638 266.5h1V312.7h-1zM640 266.5h1V312.7h-1zM650 266.5h1V312.7h-1zM674 266.5h1V312.7h-1z"/>
<path fill="#f8f872" d="M172 266.5h1V312.7h-1zM173 266.5h1V312.7h-1zM176 266.5h1V312.7h-1zM177 266.5h1V312.7h-1zM184 266.5h1V312.7h-1zM187 266.5h1V312.7h-1zM194 266.5h1V312.7h-1zM203 266.5h1V312.7h-1zM210 266.5h1V312.7h-1zM214 266.5h1V312.7h-1zM219 266.5h1V312.7h-1zM230 266.5h1V312.7h-1zM238 266.5h1V312.7h-1zM241 266.5h1V312.7h-1zM253 266.5h1V312.7h-1zM260 266.5h1V312.7h-1zM268 266.5h1V312.7h-1zM271 266.5h1V312.7h-1zM272 266.5h1V312.7h-1zM274 266.5h1V312.7h-1zM276 266.5h1V312.7h-1zM279 266.5h1V312.7h-1zM295 266.5h1V312.7h-1zM306 266.5h1V312.7h-1zM310 266.5h1V312.7h-1zM314 266.5h1V312.7h-1zM318 266.5h1V312.7h-1zM320 266.5h1V312.7h-1zM325 266.5h1V312.7h-1zM340 266.5h1V312.7h-1zM348 266.5h1V312.7h-1zM358 266.5h1V312.7h-1zM362 266.5h1V312.7h-1zM363 266.5h1V312.7h-1zM367 266.5h1V312.7h-1zM377 266.5h1V312.7h-1zM388 266.5h1V312.7h-1zM390 266.5h1V312.7h-1zM392 266.5h1V312.7h-1zM396 266.5h1V312.7h-1zM397 266.5h1V312.7h-1zM405 266.5h1V312.7h-1zM411 266.5h1V312.7h-1zM415 266.5h1V312.7h-1zM419 266.5h1V312.7h-1z"/>
<path fill="#f8f87a" d="M439 266.5h1V312.7h-1zM457 266.5h1V312.7h-1zM465 266.5h1V312.7h-1zM474 266.5h1V312.7h-1zM478 266.5h1V312.7h-1zM488 266.5h1V312.7h-1zM492 266.5h1V312.7h-1zM493 266.5h1V312.7h-1zM505 266.5h1V312.7h-1zM529 266.5h1V312.7h-1zM533 266.5h1V312.7h-1zM541 266.5h1V312.7h-1z"/>
<path fill="#f8f896" d="M128 266.5h1V312.7h-1zM137 266.5h1V312.7h-1zM144 266.5h1V312.7h-1zM146 266.5h1V312.7h-1zM151 266.5h1V312.7h-1z"/>
<path fill="#f8f8a1" d="M550 266.5h1V312.7h-1zM555 266.5h1V312.7h-1zM561 266.5h1V312.7h-1zM571 266.5h1V312.7h-1zM576 266.5h1V312.7h-1zM581 266.5h1V312.7h-1zM599 266.5h1V312.7h-1zM604 266.5h1V312.7h-1zM610 266.5h1V312.7h-1zM615 266.5h1V312.7h-1zM625 266.5h1V312.7h-1zM635 266.5h1V312.7h-1zM643 266.5h1V312.7h-1zM658 266.5h1V312.7h-1zM664 266.5h1V312.7h-1zM669 266.5h1V312.7h-1z"/>
<path fill="#f9f976" d="M157 266.5h1V312.7h-1zM165 266.5h1V312.7h-1zM180 266.5h1V312.7h-1zM188 266.5h1V312.7h-1zM195 266.5h1V312.7h-1zM196 266.5h1V312.7h-1zM202 266.5h1V312.7h-1zM206 266.5h1V312.7h-1zM207 266.5h1V312.7h-1zM222 266.5h1V312.7h-1zM226 266.5h1V312.7h-1zM233 266.5h1V312.7h-1zM234 266.5h1V312.7h-1zM236 266.5h1V312.7h-1zM240 266.5h1V312.7h-1zM248 266.5h1V312.7h-1zM252 266.5h1V312.7h-1zM256 266.5h1V312.7h-1zM263 266.5h1V312.7h-1zM275 266.5h1V312.7h-1zM282 266.5h1V312.7h-1zM286 266.5h1V312.7h-1zM305 266.5h1V312.7h-1zM317 266.5h1V312.7h-1zM321 266.5h1V312.7h-1zM324 266.5h1V312.7h-1zM328 266.5h1V312.7h-1zM329 266.5h1V312.7h-1zM331 266.5h1V312.7h-1zM332 266.5h1V312.7h-1zM335 266.5h1V312.7h-1zM339 266.5h1V312.7h-1zM355 266.5h1V312.7h-1zM366 266.5h1V312.7h-1zM374 266.5h1V312.7h-1zM378 266.5h1V312.7h-1zM385 266.5h1V312.7h-1zM393 266.5h1V312.7h-1zM400 266.5h1V312.7h-1z"/>
<path fill="#fafa79" d="M154 266.5h1V312.7h-1zM169 266.5h1V312.7h-1zM199 266.5h1V312.7h-1zM218 266.5h1V312.7h-1zM225 266.5h1V312.7h-1zM229 266.5h1V312.7h-1zM237 266.5h1V312.7h-1zM245 266.5h1V312.7h-1zM264 266.5h1V312.7h-1zM283 266.5h1V312.7h-1zM287 266.5h1V312.7h-1zM290 266.5h1V312.7h-1zM309 266.5h1V312.7h-1zM313 266.5h1V312.7h-1zM344 266.5h1V312.7h-1zM347 266.5h1V312.7h-1zM351 266.5h1V312.7h-1zM359 266.5h1V312.7h-1zM370 266.5h1V312.7h-1zM381 266.5h1V312.7h-1zM382 266.5h1V312.7h-1zM389 266.5h1V312.7h-1zM404 266.5h1V312.7h-1zM416 266.5h1V312.7h-1zM420 266.5h1V312.7h-1z"/>
<path fill="#fafa7e" d="M429 266.5h1V312.7h-1zM434 266.5h1V312.7h-1zM438 266.5h1V312.7h-1zM442 266.5h1V312.7h-1zM443 266.5h1V312.7h-1zM469 266.5h1V312.7h-1zM479 266.5h1V312.7h-1zM496 266.5h1V312.7h-1zM501 266.5h1V312.7h-1zM502 266.5h1V312.7h-1zM506 266.5h1V312.7h-1zM515 266.5h1V312.7h-1zM537 266.5h1V312.7h-1zM546 266.5h1V312.7h-1z"/>
<path fill="#fafa9b" d="M119 266.5h1V312.7h-1zM121 266.5h1V312.7h-1zM134 266.5h1V312.7h-1zM135 266.5h1V312.7h-1zM145 266.5h1V312.7h-1z"/>
<path fill="#fafaa6" d="M551 266.5h1V312.7h-1zM560 266.5h1V312.7h-1zM565 266.5h1V312.7h-1zM566 266.5h1V312.7h-1zM570 266.5h1V312.7h-1zM575 266.5h1V312.7h-1zM580 266.5h1V312.7h-1zM585 266.5h1V312.7h-1zM595 266.5h1V312.7h-1zM609 266.5h1V312.7h-1zM614 266.5h1V312.7h-1zM619 266.5h1V312.7h-1zM620 266.5h1V312.7h-1zM624 266.5h1V312.7h-1zM629 266.5h1V312.7h-1zM634 266.5h1V312.7h-1zM648 266.5h1V312.7h-1zM649 266.5h1V312.7h-1zM653 266.5h1V312.7h-1zM654 266.5h1V312.7h-1zM659 266.5h1V312.7h-1zM668 266.5h1V312.7h-1zM673 266.5h1V312.7h-1z"/>
<path fill="#fcfc7d" d="M267 266.5h1V312.7h-1zM294 266.5h1V312.7h-1zM298 266.5h1V312.7h-1zM336 266.5h1V312.7h-1zM408 266.5h1V312.7h-1zM412 266.5h1V312.7h-1zM423 266.5h1V312.7h-1z"/>
<path fill="#fcfc82" d="M425 266.5h1V312.7h-1zM447 266.5h1V312.7h-1zM461 266.5h1V312.7h-1zM470 266.5h1V312.7h-1zM483 266.5h1V312.7h-1zM497 266.5h1V312.7h-1zM510 266.5h1V312.7h-1z"/>
<path fill="#fcfca0" d="M118 266.5h1V312.7h-1zM127 266.5h1V312.7h-1zM130 266.5h1V312.7h-1zM143 266.5h1V312.7h-1z"/>
<path fill="#fcfcac" d="M556 266.5h1V312.7h-1zM590 266.5h1V312.7h-1zM600 266.5h1V312.7h-1zM605 266.5h1V312.7h-1zM639 266.5h1V312.7h-1zM644 266.5h1V312.7h-1zM663 266.5h1V312.7h-1z"/>
<path fill="#f0f064" d="M87 274.2h1V305h-1zM107 274.2h1V305h-1z"/>
<path fill="#f2f241" d="M117 274.2h1V305h-1zM122 274.2h1V305h-1zM141 274.2h1V305h-1zM142 274.2h1V305h-1z"/>
<path fill="#f2f26b" d="M92 274.2h1V305h-1zM112 274.2h1V305h-1z"/>
<path fill="#f3f345" d="M126 274.2h1V305h-1zM133 274.2h1V305h-1zM147 274.2h1V305h-1z"/>
<path fill="#f3f372" d="M90 274.2h1V305h-1zM97 274.2h1V305h-1zM100 274.2h1V305h-1zM102 274.2h1V305h-1zM104 274.2h1V305h-1zM109 274.2h1V305h-1z"/>
<path fill="#f4f43a" d="M472 274.2h1V305h-1zM490 274.2h1V305h-1zM495 274.2h1V305h-1zM499 274.2h1V305h-1zM508 274.2h1V305h-1zM540 274.2h1V305h-1z"/>
<path fill="#f4f43e" d="M568 274.2h1V305h-1zM578 274.2h1V305h-1zM592 274.2h1V305h-1zM607 274.2h1V305h-1zM612 274.2h1V305h-1zM617 274.2h1V305h-1zM656 274.2h1V305h-1zM666 274.2h1V305h-1z"/>
<path fill="#f4f44a" d="M150 274.2h1V305h-1z"/>
<path fill="#f4f479" d="M95 274.2h1V305h-1zM110 274.2h1V305h-1zM115 274.2h1V305h-1z"/>
<path fill="#f5f530" d="M174 274.2h1V305h-1zM178 274.2h1V305h-1zM258 274.2h1V305h-1z"/>
<path fill="#f5f534" d="M330 274.2h1V305h-1zM364 274.2h1V305h-1zM372 274.2h1V305h-1zM402 274.2h1V305h-1z"/>
<path fill="#f5f53d" d="M301 274.2h1V305h-1zM459 274.2h1V305h-1zM477 274.2h1V305h-1zM481 274.2h1V305h-1zM486 274.2h1V305h-1zM526 274.2h1V305h-1z"/>
<path fill="#f5f543" d="M548 274.2h1V305h-1zM553 274.2h1V305h-1zM558 274.2h1V305h-1zM563 274.2h1V305h-1zM573 274.2h1V305h-1zM588 274.2h1V305h-1zM597 274.2h1V305h-1zM602 274.2h1V305h-1zM622 274.2h1V305h-1zM627 274.2h1V305h-1zM631 274.2h1V305h-1zM632 274.2h1V305h-1zM636 274.2h1V305h-1zM637 274.2h1V305h-1zM641 274.2h1V305h-1zM646 274.2h1V305h-1zM651 274.2h1V305h-1zM661 274.2h1V305h-1zM671 274.2h1V305h-1z"/>
<path fill="#f6f633" d="M153 274.2h1V305h-1zM159 274.2h1V305h-1zM167 274.2h1V305h-1zM170 274.2h1V305h-1zM182 274.2h1V305h-1zM186 274.2h1V305h-1zM190 274.2h1V305h-1zM193 274.2h1V305h-1zM212 274.2h1V305h-1zM224 274.2h1V305h-1zM231 274.2h1V305h-1zM232 274.2h1V305h-1zM262 274.2h1V305h-1zM265 274.2h1V305h-1zM273 274.2h1V305h-1zM277 274.2h1V305h-1zM281 274.2h1V305h-1zM288 274.2h1V305h-1z"/>
<path fill="#f6f638" d="M322 274.2h1V305h-1zM327 274.2h1V305h-1zM334 274.2h1V305h-1zM338 274.2h1V305h-1zM341 274.2h1V305h-1zM357 274.2h1V305h-1zM376 274.2h1V305h-1zM410 274.2h1V305h-1zM413 274.2h1V305h-1zM417 274.2h1V305h-1zM418 274.2h1V305h-1z"/>
<path fill="#f6f641" d="M427 274.2h1V305h-1zM428 274.2h1V305h-1zM436 274.2h1V305h-1zM437 274.2h1V305h-1zM441 274.2h1V305h-1zM445 274.2h1V305h-1zM458 274.2h1V305h-1zM462 274.2h1V305h-1zM463 274.2h1V305h-1zM467 274.2h1V305h-1zM491 274.2h1V305h-1zM507 274.2h1V305h-1zM509 274.2h1V305h-1zM513 274.2h1V305h-1zM516 274.2h1V305h-1zM539 274.2h1V305h-1z"/>
<path fill="#f6f648" d="M549 274.2h1V305h-1zM564 274.2h1V305h-1zM567 274.2h1V305h-1zM572 274.2h1V305h-1zM577 274.2h1V305h-1zM582 274.2h1V305h-1zM583 274.2h1V305h-1zM587 274.2h1V305h-1zM593 274.2h1V305h-1zM598 274.2h1V305h-1zM603 274.2h1V305h-1zM621 274.2h1V305h-1zM642 274.2h1V305h-1zM647 274.2h1V305h-1zM657 274.2h1V305h-1zM660 274.2h1V305h-1zM665 274.2h1V305h-1zM670 274.2h1V305h-1zM675 274.2h0.7V305h-0.7z"/>
<path fill="#f6f64e" d="M125 274.2h1V305h-1z"/>
<path fill="#f6f680" d="M89 274.2h1V305h-1zM94 274.2h1V305h-1zM98 274.2h1V305h-1zM101 274.2h1V305h-1z"/>
<path fill="#f7f736" d="M155 274.2h1V305h-1zM163 274.2h1V305h-1zM171 274.2h1V305h-1zM204 274.2h1V305h-1zM208 274.2h1V305h-1zM213 274.2h1V305h-1zM216 274.2h1V305h-1zM220 274.2h1V305h-1zM239 274.2h1V305h-1zM243 274.2h1V305h-1zM250 274.2h1V305h-1zM254 274.2h1V305h-1zM261 274.2h1V305h-1zM284 274.2h1V305h-1zM292 274.2h1V305h-1z"/>
<path fill="#f7f73b" d="M307 274.2h1V305h-1zM311 274.2h1V305h-1zM319 274.2h1V305h-1zM333 274.2h1V305h-1zM337 274.2h1V305h-1zM353 274.2h1V305h-1zM361 274.2h1V305h-1zM368 274.2h1V305h-1zM371 274.2h1V305h-1zM379 274.2h1V305h-1zM380 274.2h1V305h-1zM387 274.2h1V305h-1zM399 274.2h1V305h-1zM403 274.2h1V305h-1zM414 274.2h1V305h-1zM421 274.2h1V305h-1z"/>
<path fill="#f7f744" d="M302 274.2h1V305h-1zM431 274.2h1V305h-1zM432 274.2h1V305h-1zM440 274.2h1V305h-1zM444 274.2h1V305h-1zM449 274.2h1V305h-1zM450 274.2h1V305h-1zM453 274.2h1V305h-1zM454 274.2h1V305h-1zM455 274.2h1V305h-1zM466 274.2h1V305h-1zM468 274.2h1V305h-1zM471 274.2h1V305h-1zM480 274.2h1V305h-1zM482 274.2h1V305h-1zM485 274.2h1V305h-1zM489 274.2h1V305h-1zM494 274.2h1V305h-1zM498 274.2h1V305h-1zM500 274.2h1V305h-1zM503 274.2h1V305h-1zM504 274.2h1V305h-1zM512 274.2h1V305h-1zM517 274.2h1V305h-1zM518 274.2h1V305h-1zM521 274.2h1V305h-1zM522 274.2h1V305h-1zM527 274.2h1V305h-1zM530 274.2h1V305h-1zM531 274.2h1V305h-1zM534 274.2h1V305h-1zM535 274.2h1V305h-1zM536 274.2h1V305h-1zM544 274.2h1V305h-1zM545 274.2h1V305h-1z"/>
<path fill="#f7f74d" d="M552 274.2h1V305h-1zM554 274.2h1V305h-1zM557 274.2h1V305h-1zM559 274.2h1V305h-1zM574 274.2h1V305h-1zM606 274.2h1V305h-1zM608 274.2h1V305h-1zM613 274.2h1V305h-1zM616 274.2h1V305h-1zM618 274.2h1V305h-1zM626 274.2h1V305h-1zM652 274.2h1V305h-1zM655 274.2h1V305h-1zM662 274.2h1V305h-1z"/>
<path fill="#f7f752" d="M120 274.2h1V305h-1zM123 274.2h1V305h-1zM136 274.2h1V305h-1zM138 274.2h1V305h-1zM139 274.2h1V305h-1zM149 274.2h1V305h-1zM152 274.2h1V305h-1z"/>
<path fill="#f8f839" d="M158 274.2h1V305h-1zM166 274.2h1V305h-1zM175 274.2h1V305h-1zM183 274.2h1V305h-1zM197 274.2h1V305h-1zM201 274.2h1V305h-1zM205 274.2h1V305h-1zM221 274.2h1V305h-1zM227 274.2h1V305h-1zM228 274.2h1V305h-1zM246 274.2h1V305h-1zM251 274.2h1V305h-1zM255 274.2h1V305h-1zM257 274.2h1V305h-1zM259 274.2h1V305h-1zM266 274.2h1V305h-1zM269 274.2h1V305h-1zM285 274.2h1V305h-1zM291 274.2h1V305h-1zM296 274.2h1V305h-1z"/>
<path fill="#f8f83e" d="M303 274.2h1V305h-1zM304 274.2h1V305h-1zM312 274.2h1V305h-1zM315 274.2h1V305h-1zM316 274.2h1V305h-1zM326 274.2h1V305h-1zM345 274.2h1V305h-1zM349 274.2h1V305h-1zM350 274.2h1V305h-1zM352 274.2h1V305h-1zM354 274.2h1V305h-1zM356 274.2h1V305h-1zM360 274.2h1V305h-1zM365 274.2h1V305h-1zM369 274.2h1V305h-1zM375 274.2h1V305h-1zM383 274.2h1V305h-1zM384 274.2h1V305h-1zM386 274.2h1V305h-1zM391 274.2h1V305h-1zM395 274.2h1V305h-1zM398 274.2h1V305h-1zM401 274.2h1V305h-1zM406 274.2h1V305h-1zM409 274.2h1V305h-1z"/>
<path fill="#f8f848" d="M435 274.2h1V305h-1zM446 274.2h1V305h-1zM448 274.2h1V305h-1zM451 274.2h1V305h-1zM473 274.2h1V305h-1zM476 274.2h1V305h-1zM487 274.2h1V305h-1zM511 274.2h1V305h-1zM525 274.2h1V305h-1zM547 274.2h1V305h-1z"/>
<path fill="#f8f852" d="M562 274.2h1V305h-1zM569 274.2h1V305h-1zM579 274.2h1V305h-1zM584 274.2h1V305h-1zM591 274.2h1V305h-1zM596 274.2h1V305h-1zM601 274.2h1V305h-1zM611 274.2h1V305h-1zM623 274.2h1V305h-1zM645 274.2h1V305h-1zM650 274.2h1V305h-1zM667 274.2h1V305h-1zM672 274.2h1V305h-1z"/>
<path fill="#f8f857" d="M124 274.2h1V305h-1zM129 274.2h1V305h-1zM131 274.2h1V305h-1zM132 274.2h1V305h-1zM140 274.2h1V305h-1zM148 274.2h1V305h-1z"/>
<path fill="#f8f886" d="M96 274.2h1V305h-1zM99 274.2h1V305h-1zM106 274.2h1V305h-1zM114 274.2h1V305h-1zM116 274.2h1V305h-1z"/>
<path fill="#f9f93c" d="M156 274.2h1V305h-1zM160 274.2h1V305h-1zM164 274.2h1V305h-1zM168 274.2h1V305h-1zM181 274.2h1V305h-1zM185 274.2h1V305h-1zM189 274.2h1V305h-1zM191 274.2h1V305h-1zM192 274.2h1V305h-1zM194 274.2h1V305h-1zM198 274.2h1V305h-1zM200 274.2h1V305h-1zM209 274.2h1V305h-1zM211 274.2h1V305h-1zM215 274.2h1V305h-1zM217 274.2h1V305h-1zM223 274.2h1V305h-1zM235 274.2h1V305h-1zM242 274.2h1V305h-1zM244 274.2h1V305h-1zM247 274.2h1V305h-1zM249 274.2h1V305h-1zM270 274.2h1V305h-1zM276 274.2h1V305h-1zM278 274.2h1V305h-1zM280 274.2h1V305h-1zM289 274.2h1V305h-1zM293 274.2h1V305h-1zM297 274.2h1V305h-1zM299 274.2h1V305h-1z"/>
<path fill="#f9f942" d="M308 274.2h1V305h-1zM310 274.2h1V305h-1zM323 274.2h1V305h-1zM340 274.2h1V305h-1zM342 274.2h1V305h-1zM346 274.2h1V305h-1zM373 274.2h1V305h-1zM377 274.2h1V305h-1zM392 274.2h1V305h-1zM394 274.2h1V305h-1zM405 274.2h1V305h-1zM407 274.2h1V305h-1zM422 274.2h1V305h-1z"/>
<path fill="#f9f98d" d="M86 274.2h1V305h-1zM88 274.2h1V305h-1zM91 274.2h1V305h-1zM93 274.2h1V305h-1zM103 274.2h1V305h-1zM105 274.2h1V305h-1zM108 274.2h1V305h-1zM111 274.2h1V305h-1zM113 274.2h1V305h-1z"/>
<path fill="#fafa3f" d="M161 274.2h1V305h-1zM162 274.2h1V305h-1zM165 274.2h1V305h-1zM172 274.2h1V305h-1zM173 274.2h1V305h-1zM176 274.2h1V305h-1zM177 274.2h1V305h-1zM179 274.2h1V305h-1zM184 274.2h1V305h-1zM187 274.2h1V305h-1zM196 274.2h1V305h-1zM203 274.2h1V305h-1zM206 274.2h1V305h-1zM214 274.2h1V305h-1zM219 274.2h1V305h-1zM230 274.2h1V305h-1zM238 274.2h1V305h-1zM240 274.2h1V305h-1zM241 274.2h1V305h-1zM253 274.2h1V305h-1zM256 274.2h1V305h-1zM268 274.2h1V305h-1zM271 274.2h1V305h-1zM272 274.2h1V305h-1zM274 274.2h1V305h-1zM275 274.2h1V305h-1zM279 274.2h1V305h-1zM295 274.2h1V305h-1z"/>
<path fill="#fafa46" d="M306 274.2h1V305h-1zM314 274.2h1V305h-1zM318 274.2h1V305h-1zM320 274.2h1V305h-1zM325 274.2h1V305h-1zM331 274.2h1V305h-1zM343 274.2h1V305h-1zM348 274.2h1V305h-1zM358 274.2h1V305h-1zM366 274.2h1V305h-1zM385 274.2h1V305h-1zM388 274.2h1V305h-1zM390 274.2h1V305h-1zM393 274.2h1V305h-1zM415 274.2h1V305h-1z"/>
<path fill="#fafa4b" d="M300 274.2h1V305h-1zM424 274.2h1V305h-1zM426 274.2h1V305h-1zM430 274.2h1V305h-1zM433 274.2h1V305h-1zM439 274.2h1V305h-1zM452 274.2h1V305h-1zM460 274.2h1V305h-1zM464 274.2h1V305h-1zM475 274.2h1V305h-1zM484 274.2h1V305h-1zM519 274.2h1V305h-1zM520 274.2h1V305h-1zM523 274.2h1V305h-1zM524 274.2h1V305h-1zM528 274.2h1V305h-1zM532 274.2h1V305h-1zM538 274.2h1V305h-1zM542 274.2h1V305h-1zM543 274.2h1V305h-1z"/>
<path fill="#fafa57" d="M550 274.2h1V305h-1zM576 274.2h1V305h-1zM589 274.2h1V305h-1zM594 274.2h1V305h-1zM628 274.2h1V305h-1zM630 274.2h1V305h-1zM633 274.2h1V305h-1zM640 274.2h1V305h-1zM643 274.2h1V305h-1zM674 274.2h1V305h-1z"/>
<path fill="#fafa5b" d="M119 274.2h1V305h-1zM121 274.2h1V305h-1zM128 274.2h1V305h-1zM134 274.2h1V305h-1zM144 274.2h1V305h-1zM146 274.2h1V305h-1zM151 274.2h1V305h-1z"/>
<path fill="#fbfb42" d="M154 274.2h1V305h-1zM157 274.2h1V305h-1zM188 274.2h1V305h-1zM202 274.2h1V305h-1zM210 274.2h1V305h-1zM222 274.2h1V305h-1zM226 274.2h1V305h-1zM233 274.2h1V305h-1zM234 274.2h1V305h-1zM236 274.2h1V305h-1zM248 274.2h1V305h-1zM252 274.2h1V305h-1zM260 274.2h1V305h-1zM282 274.2h1V305h-1zM286 274.2h1V305h-1zM287 274.2h1V305h-1z"/>
<path fill="#fbfb49" d="M317 274.2h1V305h-1zM324 274.2h1V305h-1zM328 274.2h1V305h-1zM329 274.2h1V305h-1zM332 274.2h1V305h-1zM335 274.2h1V305h-1zM339 274.2h1V305h-1zM344 274.2h1V305h-1zM355 274.2h1V305h-1zM359 274.2h1V305h-1zM362 274.2h1V305h-1zM363 274.2h1V305h-1zM367 274.2h1V305h-1zM374 274.2h1V305h-1zM378 274.2h1V305h-1zM396 274.2h1V305h-1zM397 274.2h1V305h-1zM400 274.2h1V305h-1zM411 274.2h1V305h-1zM419 274.2h1V305h-1z"/>
<path fill="#fbfb4e" d="M438 274.2h1V305h-1zM442 274.2h1V305h-1zM456 274.2h1V305h-1zM465 274.2h1V305h-1zM474 274.2h1V305h-1zM478 274.2h1V305h-1zM488 274.2h1V305h-1zM492 274.2h1V305h-1zM493 274.2h1V305h-1zM505 274.2h1V305h-1zM514 274.2h1V305h-1zM529 274.2h1V305h-1zM541 274.2h1V305h-1z"/>
<path fill="#fbfb5c" d="M555 274.2h1V305h-1zM561 274.2h1V305h-1zM581 274.2h1V305h-1zM586 274.2h1V305h-1zM610 274.2h1V305h-1zM615 274.2h1V305h-1zM625 274.2h1V305h-1zM635 274.2h1V305h-1zM638 274.2h1V305h-1zM648 274.2h1V305h-1zM653 274.2h1V305h-1zM664 274.2h1V305h-1zM669 274.2h1V305h-1z"/>
<path fill="#fbfb60" d="M135 274.2h1V305h-1zM137 274.2h1V305h-1z"/>
<path fill="#fcfc45" d="M169 274.2h1V305h-1zM180 274.2h1V305h-1zM195 274.2h1V305h-1zM199 274.2h1V305h-1zM207 274.2h1V305h-1zM218 274.2h1V305h-1zM225 274.2h1V305h-1zM229 274.2h1V305h-1zM245 274.2h1V305h-1zM263 274.2h1V305h-1zM264 274.2h1V305h-1zM267 274.2h1V305h-1zM283 274.2h1V305h-1zM290 274.2h1V305h-1zM298 274.2h1V305h-1z"/>
<path fill="#fcfc4c" d="M305 274.2h1V305h-1zM309 274.2h1V305h-1zM321 274.2h1V305h-1zM347 274.2h1V305h-1zM351 274.2h1V305h-1zM370 274.2h1V305h-1zM381 274.2h1V305h-1zM382 274.2h1V305h-1zM389 274.2h1V305h-1zM408 274.2h1V305h-1zM412 274.2h1V305h-1zM416 274.2h1V305h-1zM420 274.2h1V305h-1zM423 274.2h1V305h-1z"/>
<path fill="#fcfc52" d="M425 274.2h1V305h-1zM443 274.2h1V305h-1zM447 274.2h1V305h-1zM457 274.2h1V305h-1zM461 274.2h1V305h-1zM469 274.2h1V305h-1zM470 274.2h1V305h-1zM479 274.2h1V305h-1zM496 274.2h1V305h-1zM497 274.2h1V305h-1zM501 274.2h1V305h-1zM502 274.2h1V305h-1zM506 274.2h1V305h-1zM510 274.2h1V305h-1zM515 274.2h1V305h-1zM533 274.2h1V305h-1zM537 274.2h1V305h-1z"/>
<path fill="#fcfc61" d="M551 274.2h1V305h-1zM556 274.2h1V305h-1zM560 274.2h1V305h-1zM565 274.2h1V305h-1zM566 274.2h1V305h-1zM570 274.2h1V305h-1zM571 274.2h1V305h-1zM575 274.2h1V305h-1zM585 274.2h1V305h-1zM595 274.2h1V305h-1zM599 274.2h1V305h-1zM600 274.2h1V305h-1zM604 274.2h1V305h-1zM605 274.2h1V305h-1zM609 274.2h1V305h-1zM614 274.2h1V305h-1zM619 274.2h1V305h-1zM620 274.2h1V305h-1zM629 274.2h1V305h-1zM634 274.2h1V305h-1zM644 274.2h1V305h-1zM649 274.2h1V305h-1zM654 274.2h1V305h-1zM658 274.2h1V305h-1zM659 274.2h1V305h-1zM663 274.2h1V305h-1zM668 274.2h1V305h-1zM673 274.2h1V305h-1z"/>
<path fill="#fcfc64" d="M118 274.2h1V305h-1zM127 274.2h1V305h-1zM130 274.2h1V305h-1zM143 274.2h1V305h-1zM145 274.2h1V305h-1z"/>
<path fill="#fdfd48" d="M237 274.2h1V305h-1zM294 274.2h1V305h-1z"/>
<path fill="#fdfd50" d="M313 274.2h1V305h-1zM336 274.2h1V305h-1zM404 274.2h1V305h-1z"/>
<path fill="#fdfd55" d="M429 274.2h1V305h-1zM434 274.2h1V305h-1zM483 274.2h1V305h-1zM546 274.2h1V305h-1z"/>
<path fill="#fdfd66" d="M580 274.2h1V305h-1zM590 274.2h1V305h-1zM624 274.2h1V305h-1zM639 274.2h1V305h-1z"/>
<path fill="#f4f437" d="M141 281.9h1V297.3h-1zM142 281.9h1V297.3h-1z"/>
<path fill="#f4f43e" d="M87 281.9h1V297.3h-1z"/>
<path fill="#f5f537" d="M472 281.9h1V297.3h-1zM490 281.9h1V297.3h-1zM499 281.9h1V297.3h-1zM508 281.9h1V297.3h-1z"/>
<path fill="#f5f53a" d="M568 281.9h1V297.3h-1zM578 281.9h1V297.3h-1zM592 281.9h1V297.3h-1zM607 281.9h1V297.3h-1zM656 281.9h1V297.3h-1zM666 281.9h1V297.3h-1z"/>
<path fill="#f5f53c" d="M117 281.9h1V297.3h-1zM122 281.9h1V297.3h-1zM126 281.9h1V297.3h-1zM133 281.9h1V297.3h-1zM147 281.9h1V297.3h-1zM150 281.9h1V297.3h-1z"/>
<path fill="#f5f544" d="M92 281.9h1V297.3h-1zM102 281.9h1V297.3h-1zM107 281.9h1V297.3h-1zM112 281.9h1V297.3h-1z"/>
<path fill="#f6f628" d="M153 281.9h1V297.3h-1zM178 281.9h1V297.3h-1zM258 281.9h1V297.3h-1z"/>
<path fill="#f6f62e" d="M330 281.9h1V297.3h-1zM372 281.9h1V297.3h-1zM402 281.9h1V297.3h-1z"/>
<path fill="#f6f63b" d="M301 281.9h1V297.3h-1zM459 281.9h1V297.3h-1zM467 281.9h1V297.3h-1zM477 281.9h1V297.3h-1zM486 281.9h1V297.3h-1zM495 281.9h1V297.3h-1zM526 281.9h1V297.3h-1zM540 281.9h1V297.3h-1z"/>
<path fill="#f6f640" d="M548 281.9h1V297.3h-1zM553 281.9h1V297.3h-1zM558 281.9h1V297.3h-1zM563 281.9h1V297.3h-1zM573 281.9h1V297.3h-1zM597 281.9h1V297.3h-1zM602 281.9h1V297.3h-1zM612 281.9h1V297.3h-1zM617 281.9h1V297.3h-1zM622 281.9h1V297.3h-1zM627 281.9h1V297.3h-1zM631 281.9h1V297.3h-1zM632 281.9h1V297.3h-1zM636 281.9h1V297.3h-1zM637 281.9h1V297.3h-1zM641 281.9h1V297.3h-1zM646 281.9h1V297.3h-1zM651 281.9h1V297.3h-1zM661 281.9h1V297.3h-1zM671 281.9h1V297.3h-1zM675 281.9h0.7V297.3h-0.7z"/>
<path fill="#f6f64a" d="M90 281.9h1V297.3h-1zM95 281.9h1V297.3h-1zM100 281.9h1V297.3h-1zM109 281.9h1V297.3h-1z"/>
<path fill="#f7f72b" d="M159 281.9h1V297.3h-1zM170 281.9h1V297.3h-1zM174 281.9h1V297.3h-1zM182 281.9h1V297.3h-1zM186 281.9h1V297.3h-1zM190 281.9h1V297.3h-1zM193 281.9h1V297.3h-1zM212 281.9h1V297.3h-1zM216 281.9h1V297.3h-1zM220 281.9h1V297.3h-1zM224 281.9h1V297.3h-1zM231 281.9h1V297.3h-1zM232 281.9h1V297.3h-1zM262 281.9h1V297.3h-1zM273 281.9h1V297.3h-1zM281 281.9h1V297.3h-1zM284 281.9h1V297.3h-1z"/>
<path fill="#f7f731" d="M322 281.9h1V297.3h-1zM338 281.9h1V297.3h-1zM357 281.9h1V297.3h-1zM364 281.9h1V297.3h-1zM376 281.9h1V297.3h-1zM413 281.9h1V297.3h-1zM417 281.9h1V297.3h-1zM418 281.9h1V297.3h-1z"/>
<path fill="#f7f73e" d="M427 281.9h1V297.3h-1zM428 281.9h1V297.3h-1zM431 281.9h1V297.3h-1zM436 281.9h1V297.3h-1zM437 281.9h1V297.3h-1zM440 281.9h1V297.3h-1zM441 281.9h1V297.3h-1zM445 281.9h1V297.3h-1zM462 281.9h1V297.3h-1zM463 281.9h1V297.3h-1zM481 281.9h1V297.3h-1zM507 281.9h1V297.3h-1zM509 281.9h1V297.3h-1zM513 281.9h1V297.3h-1zM516 281.9h1V297.3h-1zM518 281.9h1V297.3h-1zM535 281.9h1V297.3h-1zM539 281.9h1V297.3h-1z"/>
<path fill="#f7f745" d="M125 281.9h1V297.3h-1zM139 281.9h1V297.3h-1zM149 281.9h1V297.3h-1zM567 281.9h1V297.3h-1zM572 281.9h1V297.3h-1zM577 281.9h1V297.3h-1zM582 281.9h1V297.3h-1zM583 281.9h1V297.3h-1zM587 281.9h1V297.3h-1zM588 281.9h1V297.3h-1zM593 281.9h1V297.3h-1zM598 281.9h1V297.3h-1zM603 281.9h1V297.3h-1zM626 281.9h1V297.3h-1zM642 281.9h1V297.3h-1zM647 281.9h1V297.3h-1zM657 281.9h1V297.3h-1zM665 281.9h1V297.3h-1zM670 281.9h1V297.3h-1z"/>
<path fill="#f7f751" d="M97 281.9h1V297.3h-1zM104 281.9h1V297.3h-1zM110 281.9h1V297.3h-1zM115 281.9h1V297.3h-1z"/>
<path fill="#f8f82e" d="M163 281.9h1V297.3h-1zM166 281.9h1V297.3h-1zM167 281.9h1V297.3h-1zM171 281.9h1V297.3h-1zM208 281.9h1V297.3h-1zM213 281.9h1V297.3h-1zM239 281.9h1V297.3h-1zM243 281.9h1V297.3h-1zM246 281.9h1V297.3h-1zM250 281.9h1V297.3h-1zM254 281.9h1V297.3h-1zM265 281.9h1V297.3h-1zM266 281.9h1V297.3h-1zM277 281.9h1V297.3h-1zM288 281.9h1V297.3h-1zM292 281.9h1V297.3h-1z"/>
<path fill="#f8f834" d="M307 281.9h1V297.3h-1zM319 281.9h1V297.3h-1zM327 281.9h1V297.3h-1zM334 281.9h1V297.3h-1zM337 281.9h1V297.3h-1zM341 281.9h1V297.3h-1zM345 281.9h1V297.3h-1zM353 281.9h1V297.3h-1zM361 281.9h1V297.3h-1zM368 281.9h1V297.3h-1zM371 281.9h1V297.3h-1zM379 281.9h1V297.3h-1zM380 281.9h1V297.3h-1zM387 281.9h1V297.3h-1zM395 281.9h1V297.3h-1zM399 281.9h1V297.3h-1zM403 281.9h1V297.3h-1zM410 281.9h1V297.3h-1zM414 281.9h1V297.3h-1zM421 281.9h1V297.3h-1z"/>
<path fill="#f8f842" d="M302 281.9h1V297.3h-1zM444 281.9h1V297.3h-1zM449 281.9h1V297.3h-1zM450 281.9h1V297.3h-1zM454 281.9h1V297.3h-1zM455 281.9h1V297.3h-1zM458 281.9h1V297.3h-1zM471 281.9h1V297.3h-1zM480 281.9h1V297.3h-1zM482 281.9h1V297.3h-1zM485 281.9h1V297.3h-1zM489 281.9h1V297.3h-1zM491 281.9h1V297.3h-1zM498 281.9h1V297.3h-1zM503 281.9h1V297.3h-1zM504 281.9h1V297.3h-1zM512 281.9h1V297.3h-1zM517 281.9h1V297.3h-1zM521 281.9h1V297.3h-1zM522 281.9h1V297.3h-1zM527 281.9h1V297.3h-1zM530 281.9h1V297.3h-1zM534 281.9h1V297.3h-1zM536 281.9h1V297.3h-1zM544 281.9h1V297.3h-1zM545 281.9h1V297.3h-1z"/>
<path fill="#f8f84a" d="M123 281.9h1V297.3h-1zM136 281.9h1V297.3h-1zM138 281.9h1V297.3h-1zM148 281.9h1V297.3h-1zM152 281.9h1V297.3h-1zM549 281.9h1V297.3h-1zM554 281.9h1V297.3h-1zM557 281.9h1V297.3h-1zM559 281.9h1V297.3h-1zM564 281.9h1V297.3h-1zM601 281.9h1V297.3h-1zM606 281.9h1V297.3h-1zM608 281.9h1V297.3h-1zM616 281.9h1V297.3h-1zM618 281.9h1V297.3h-1zM621 281.9h1V297.3h-1zM652 281.9h1V297.3h-1zM655 281.9h1V297.3h-1zM660 281.9h1V297.3h-1zM662 281.9h1V297.3h-1zM672 281.9h1V297.3h-1z"/>
<path fill="#f8f857" d="M89 281.9h1V297.3h-1zM94 281.9h1V297.3h-1zM98 281.9h1V297.3h-1z"/>
<path fill="#f9f930" d="M155 281.9h1V297.3h-1zM158 281.9h1V297.3h-1zM175 281.9h1V297.3h-1zM181 281.9h1V297.3h-1zM189 281.9h1V297.3h-1zM197 281.9h1V297.3h-1zM201 281.9h1V297.3h-1zM204 281.9h1V297.3h-1zM205 281.9h1V297.3h-1zM209 281.9h1V297.3h-1zM217 281.9h1V297.3h-1zM228 281.9h1V297.3h-1zM235 281.9h1V297.3h-1zM242 281.9h1V297.3h-1zM251 281.9h1V297.3h-1zM257 281.9h1V297.3h-1zM259 281.9h1V297.3h-1zM261 281.9h1V297.3h-1zM270 281.9h1V297.3h-1zM285 281.9h1V297.3h-1zM291 281.9h1V297.3h-1zM293 281.9h1V297.3h-1zM296 281.9h1V297.3h-1z"/>
<path fill="#f9f938" d="M303 281.9h1V297.3h-1zM304 281.9h1V297.3h-1zM311 281.9h1V297.3h-1zM312 281.9h1V297.3h-1zM315 281.9h1V297.3h-1zM316 281.9h1V297.3h-1zM326 281.9h1V297.3h-1zM333 281.9h1V297.3h-1zM342 281.9h1V297.3h-1zM349 281.9h1V297.3h-1zM350 281.9h1V297.3h-1zM352 281.9h1V297.3h-1zM354 281.9h1V297.3h-1zM356 281.9h1V297.3h-1zM360 281.9h1V297.3h-1zM365 281.9h1V297.3h-1zM383 281.9h1V297.3h-1zM384 281.9h1V297.3h-1zM391 281.9h1V297.3h-1zM406 281.9h1V297.3h-1zM409 281.9h1V297.3h-1z"/>
<path fill="#f9f946" d="M432 281.9h1V297.3h-1zM435 281.9h1V297.3h-1zM446 281.9h1V297.3h-1zM451 281.9h1V297.3h-1zM453 281.9h1V297.3h-1zM466 281.9h1V297.3h-1zM468 281.9h1V297.3h-1zM475 281.9h1V297.3h-1zM476 281.9h1V297.3h-1zM487 281.9h1V297.3h-1zM494 281.9h1V297.3h-1zM500 281.9h1V297.3h-1zM523 281.9h1V297.3h-1zM525 281.9h1V297.3h-1zM531 281.9h1V297.3h-1zM532 281.9h1V297.3h-1zM547 281.9h1V297.3h-1z"/>
<path fill="#f9f94e" d="M120 281.9h1V297.3h-1zM124 281.9h1V297.3h-1zM129 281.9h1V297.3h-1zM132 281.9h1V297.3h-1zM140 281.9h1V297.3h-1z"/>
<path fill="#f9f950" d="M552 281.9h1V297.3h-1zM562 281.9h1V297.3h-1zM569 281.9h1V297.3h-1zM574 281.9h1V297.3h-1zM579 281.9h1V297.3h-1zM584 281.9h1V297.3h-1zM591 281.9h1V297.3h-1zM596 281.9h1V297.3h-1zM611 281.9h1V297.3h-1zM613 281.9h1V297.3h-1zM623 281.9h1V297.3h-1zM628 281.9h1V297.3h-1zM667 281.9h1V297.3h-1z"/>
<path fill="#f9f95d" d="M93 281.9h1V297.3h-1zM96 281.9h1V297.3h-1zM99 281.9h1V297.3h-1zM101 281.9h1V297.3h-1zM103 281.9h1V297.3h-1zM105 281.9h1V297.3h-1zM106 281.9h1V297.3h-1zM111 281.9h1V297.3h-1zM114 281.9h1V297.3h-1zM116 281.9h1V297.3h-1z"/>
<path fill="#fafa33" d="M156 281.9h1V297.3h-1zM160 281.9h1V297.3h-1zM162 281.9h1V297.3h-1zM164 281.9h1V297.3h-1zM168 281.9h1V297.3h-1zM177 281.9h1V297.3h-1zM183 281.9h1V297.3h-1zM185 281.9h1V297.3h-1zM191 281.9h1V297.3h-1zM194 281.9h1V297.3h-1zM198 281.9h1V297.3h-1zM200 281.9h1V297.3h-1zM203 281.9h1V297.3h-1zM211 281.9h1V297.3h-1zM215 281.9h1V297.3h-1zM221 281.9h1V297.3h-1zM227 281.9h1V297.3h-1zM247 281.9h1V297.3h-1zM249 281.9h1V297.3h-1zM253 281.9h1V297.3h-1zM255 281.9h1V297.3h-1zM269 281.9h1V297.3h-1zM276 281.9h1V297.3h-1zM278 281.9h1V297.3h-1zM280 281.9h1V297.3h-1zM289 281.9h1V297.3h-1zM295 281.9h1V297.3h-1zM297 281.9h1V297.3h-1zM299 281.9h1V297.3h-1z"/>
<path fill="#fafa36" d="M161 281.9h1V297.3h-1zM172 281.9h1V297.3h-1zM173 281.9h1V297.3h-1zM176 281.9h1V297.3h-1zM179 281.9h1V297.3h-1zM184 281.9h1V297.3h-1zM187 281.9h1V297.3h-1zM192 281.9h1V297.3h-1zM196 281.9h1V297.3h-1zM202 281.9h1V297.3h-1zM210 281.9h1V297.3h-1zM214 281.9h1V297.3h-1zM219 281.9h1V297.3h-1zM223 281.9h1V297.3h-1zM230 281.9h1V297.3h-1zM236 281.9h1V297.3h-1zM238 281.9h1V297.3h-1zM240 281.9h1V297.3h-1zM241 281.9h1V297.3h-1zM244 281.9h1V297.3h-1zM256 281.9h1V297.3h-1zM260 281.9h1V297.3h-1zM268 281.9h1V297.3h-1zM271 281.9h1V297.3h-1zM274 281.9h1V297.3h-1zM279 281.9h1V297.3h-1z"/>
<path fill="#fafa3b" d="M308 281.9h1V297.3h-1zM310 281.9h1V297.3h-1zM318 281.9h1V297.3h-1zM323 281.9h1V297.3h-1zM340 281.9h1V297.3h-1zM346 281.9h1V297.3h-1zM369 281.9h1V297.3h-1zM373 281.9h1V297.3h-1zM375 281.9h1V297.3h-1zM377 281.9h1V297.3h-1zM386 281.9h1V297.3h-1zM394 281.9h1V297.3h-1zM398 281.9h1V297.3h-1zM401 281.9h1V297.3h-1zM422 281.9h1V297.3h-1z"/>
<path fill="#fafa3e" d="M306 281.9h1V297.3h-1zM314 281.9h1V297.3h-1zM320 281.9h1V297.3h-1zM325 281.9h1V297.3h-1zM343 281.9h1V297.3h-1zM348 281.9h1V297.3h-1zM358 281.9h1V297.3h-1zM363 281.9h1V297.3h-1zM367 281.9h1V297.3h-1zM388 281.9h1V297.3h-1zM390 281.9h1V297.3h-1zM392 281.9h1V297.3h-1zM396 281.9h1V297.3h-1zM405 281.9h1V297.3h-1zM407 281.9h1V297.3h-1zM411 281.9h1V297.3h-1zM415 281.9h1V297.3h-1z"/>
<path fill="#fafa4a" d="M300 281.9h1V297.3h-1zM424 281.9h1V297.3h-1zM426 281.9h1V297.3h-1zM430 281.9h1V297.3h-1zM433 281.9h1V297.3h-1zM448 281.9h1V297.3h-1zM452 281.9h1V297.3h-1zM456 281.9h1V297.3h-1zM460 281.9h1V297.3h-1zM464 281.9h1V297.3h-1zM473 281.9h1V297.3h-1zM474 281.9h1V297.3h-1zM478 281.9h1V297.3h-1zM484 281.9h1V297.3h-1zM493 281.9h1V297.3h-1zM505 281.9h1V297.3h-1zM511 281.9h1V297.3h-1zM514 281.9h1V297.3h-1zM519 281.9h1V297.3h-1zM520 281.9h1V297.3h-1zM524 281.9h1V297.3h-1zM528 281.9h1V297.3h-1zM538 281.9h1V297.3h-1zM542 281.9h1V297.3h-1zM543 281.9h1V297.3h-1z"/>
<path fill="#fafa53" d="M121 281.9h1V297.3h-1zM128 281.9h1V297.3h-1zM131 281.9h1V297.3h-1zM146 281.9h1V297.3h-1zM151 281.9h1V297.3h-1z"/>
<path fill="#fafa56" d="M589 281.9h1V297.3h-1zM594 281.9h1V297.3h-1zM630 281.9h1V297.3h-1zM633 281.9h1V297.3h-1zM635 281.9h1V297.3h-1zM640 281.9h1V297.3h-1zM645 281.9h1V297.3h-1zM650 281.9h1V297.3h-1z"/>
<path fill="#fafa64" d="M86 281.9h1V297.3h-1zM91 281.9h1V297.3h-1zM108 281.9h1V297.3h-1zM113 281.9h1V297.3h-1z"/>
<path fill="#fbfb38" d="M154 281.9h1V297.3h-1zM157 281.9h1V297.3h-1zM165 281.9h1V297.3h-1zM180 281.9h1V297.3h-1zM188 281.9h1V297.3h-1zM195 281.9h1V297.3h-1zM206 281.9h1V297.3h-1zM222 281.9h1V297.3h-1zM225 281.9h1V297.3h-1zM226 281.9h1V297.3h-1zM234 281.9h1V297.3h-1zM248 281.9h1V297.3h-1zM252 281.9h1V297.3h-1zM263 281.9h1V297.3h-1zM264 281.9h1V297.3h-1zM272 281.9h1V297.3h-1zM275 281.9h1V297.3h-1zM286 281.9h1V297.3h-1zM287 281.9h1V297.3h-1z"/>
<path fill="#fbfb42" d="M317 281.9h1V297.3h-1zM324 281.9h1V297.3h-1zM328 281.9h1V297.3h-1zM329 281.9h1V297.3h-1zM331 281.9h1V297.3h-1zM332 281.9h1V297.3h-1zM335 281.9h1V297.3h-1zM339 281.9h1V297.3h-1zM355 281.9h1V297.3h-1zM359 281.9h1V297.3h-1zM362 281.9h1V297.3h-1zM366 281.9h1V297.3h-1zM374 281.9h1V297.3h-1zM378 281.9h1V297.3h-1zM385 281.9h1V297.3h-1zM389 281.9h1V297.3h-1zM393 281.9h1V297.3h-1zM397 281.9h1V297.3h-1zM400 281.9h1V297.3h-1zM416 281.9h1V297.3h-1zM419 281.9h1V297.3h-1z"/>
<path fill="#fbfb4e" d="M438 281.9h1V297.3h-1zM439 281.9h1V297.3h-1zM465 281.9h1V297.3h-1zM488 281.9h1V297.3h-1zM492 281.9h1V297.3h-1zM496 281.9h1V297.3h-1zM529 281.9h1V297.3h-1z"/>
<path fill="#fbfb57" d="M119 281.9h1V297.3h-1zM134 281.9h1V297.3h-1zM135 281.9h1V297.3h-1zM137 281.9h1V297.3h-1zM144 281.9h1V297.3h-1zM145 281.9h1V297.3h-1z"/>
<path fill="#fbfb5b" d="M550 281.9h1V297.3h-1zM555 281.9h1V297.3h-1zM560 281.9h1V297.3h-1zM576 281.9h1V297.3h-1zM581 281.9h1V297.3h-1zM586 281.9h1V297.3h-1zM599 281.9h1V297.3h-1zM610 281.9h1V297.3h-1zM638 281.9h1V297.3h-1zM643 281.9h1V297.3h-1zM648 281.9h1V297.3h-1zM664 281.9h1V297.3h-1zM669 281.9h1V297.3h-1zM674 281.9h1V297.3h-1z"/>
<path fill="#fbfb6a" d="M88 281.9h1V297.3h-1z"/>
<path fill="#fcfc3b" d="M169 281.9h1V297.3h-1zM199 281.9h1V297.3h-1zM207 281.9h1V297.3h-1zM218 281.9h1V297.3h-1zM229 281.9h1V297.3h-1zM233 281.9h1V297.3h-1zM245 281.9h1V297.3h-1zM282 281.9h1V297.3h-1zM283 281.9h1V297.3h-1zM290 281.9h1V297.3h-1zM298 281.9h1V297.3h-1z"/>
<path fill="#fcfc45" d="M305 281.9h1V297.3h-1zM309 281.9h1V297.3h-1zM321 281.9h1V297.3h-1zM344 281.9h1V297.3h-1zM347 281.9h1V297.3h-1zM351 281.9h1V297.3h-1zM370 281.9h1V297.3h-1zM381 281.9h1V297.3h-1zM382 281.9h1V297.3h-1zM404 281.9h1V297.3h-1zM408 281.9h1V297.3h-1zM412 281.9h1V297.3h-1zM420 281.9h1V297.3h-1zM423 281.9h1V297.3h-1z"/>
<path fill="#fcfc51" d="M425 281.9h1V297.3h-1zM429 281.9h1V297.3h-1zM434 281.9h1V297.3h-1zM442 281.9h1V297.3h-1zM443 281.9h1V297.3h-1zM447 281.9h1V297.3h-1zM457 281.9h1V297.3h-1zM461 281.9h1V297.3h-1zM469 281.9h1V297.3h-1zM470 281.9h1V297.3h-1zM479 281.9h1V297.3h-1zM497 281.9h1V297.3h-1zM501 281.9h1V297.3h-1zM502 281.9h1V297.3h-1zM506 281.9h1V297.3h-1zM510 281.9h1V297.3h-1zM515 281.9h1V297.3h-1zM533 281.9h1V297.3h-1zM537 281.9h1V297.3h-1zM541 281.9h1V297.3h-1zM546 281.9h1V297.3h-1z"/>
<path fill="#fcfc5c" d="M118 281.9h1V297.3h-1zM127 281.9h1V297.3h-1zM130 281.9h1V297.3h-1zM143 281.9h1V297.3h-1z"/>
<path fill="#fcfc60" d="M551 281.9h1V297.3h-1zM556 281.9h1V297.3h-1zM561 281.9h1V297.3h-1zM565 281.9h1V297.3h-1zM566 281.9h1V297.3h-1zM570 281.9h1V297.3h-1zM571 281.9h1V297.3h-1zM580 281.9h1V297.3h-1zM585 281.9h1V297.3h-1zM590 281.9h1V297.3h-1zM595 281.9h1V297.3h-1zM604 281.9h1V297.3h-1zM605 281.9h1V297.3h-1zM609 281.9h1V297.3h-1zM614 281.9h1V297.3h-1zM615 281.9h1V297.3h-1zM619 281.9h1V297.3h-1zM620 281.9h1V297.3h-1zM624 281.9h1V297.3h-1zM625 281.9h1V297.3h-1zM644 281.9h1V297.3h-1zM649 281.9h1V297.3h-1zM653 281.9h1V297.3h-1zM654 281.9h1V297.3h-1zM658 281.9h1V297.3h-1zM659 281.9h1V297.3h-1zM668 281.9h1V297.3h-1z"/>
<path fill="#fdfd3e" d="M237 281.9h1V297.3h-1zM267 281.9h1V297.3h-1zM294 281.9h1V297.3h-1z"/>
<path fill="#fdfd48" d="M313 281.9h1V297.3h-1zM336 281.9h1V297.3h-1z"/>
<path fill="#fdfd55" d="M483 281.9h1V297.3h-1z"/>
<path fill="#fdfd66" d="M575 281.9h1V297.3h-1zM600 281.9h1V297.3h-1zM629 281.9h1V297.3h-1zM634 281.9h1V297.3h-1zM639 281.9h1V297.3h-1zM663 281.9h1V297.3h-1zM673 281.9h1V297.3h-1z"/></g>
<rect x="47.7" y="282.4" width="3.2" height="7.7" fill="#fcfc14"/>
<rect x="53.2" y="290.1" width="7.8" height="7.7" fill="#fcfc14"/>
<rect x="61" y="282.4" width="24.6" height="15.4" fill="#fdfdcd"/>
<rect x="61" y="282.4" width="1.8" height="7.7" fill="#fafa32"/>
<rect x="65.1" y="282.4" width="1.8" height="7.7" fill="#fafa32"/>
<rect x="69.7" y="282.4" width="1.8" height="7.7" fill="#fafa32"/>
<rect x="74.3" y="282.4" width="1.8" height="7.7" fill="#fafa32"/>
<rect x="78.6" y="282.4" width="1.8" height="7.7" fill="#fafa32"/>
<rect x="82.8" y="282.4" width="1.8" height="7.7" fill="#fafa32"/>
<rect x="63.3" y="290.1" width="1.8" height="7.7" fill="#fafa32"/>
<rect x="67.5" y="290.1" width="1.8" height="7.7" fill="#fafa32"/>
<rect x="72" y="290.1" width="1.8" height="7.7" fill="#fafa32"/>
<rect x="76.5" y="290.1" width="1.8" height="7.7" fill="#fafa32"/>
<rect x="80.8" y="290.1" width="1.8" height="7.7" fill="#fafa32"/>
<rect x="84.6" y="290.1" width="1" height="7.7" fill="#fafa32"/>
<rect x="67.6" y="274.7" width="1" height="30.8" fill="#f8f88c"/>
<rect x="68.8" y="274.7" width="1" height="30.8" fill="#f8f88c"/>
<rect x="77.6" y="274.7" width="1" height="30.8" fill="#f8f88c"/>
<rect x="79.6" y="274.7" width="1" height="30.8" fill="#f8f88c"/>
<path stroke="#8a8a50" stroke-opacity="0.22" stroke-width="1" fill="none" d="M43.2 266.6H675.7M43.2 290.1H675.7M43.2 313.6H675.7M254.03 252.7V327.9"/>
<path fill="none" stroke-width="1.1" stroke="#a4a4a4" d="M43.2 252.7H675.7"/>
<path fill="none" stroke-width="1" stroke="#c4c4c4" d="M675.7 252.7V327.9"/>
<path fill="none" stroke-width="1.1" stroke="#a8a8a8" d="M43.2 327.9H675.7"/>
<path fill="none" stroke-width="1.2" stroke="#9c9c9c" d="M43.2 252.2V328.4"/>
<text font-size="14.5" text-anchor="end" transform="translate(39.4 271.9) scale(0.8 1)">500</text>
<text font-size="14.5" text-anchor="end" transform="translate(39.4 295.4) scale(0.8 1)">0</text>
<text font-size="14.5" text-anchor="end" transform="translate(39.4 318.9) scale(0.8 1)">-500</text>
<text font-size="15" text-anchor="middle" transform="translate(43.6 346.4) scale(0.8 1)">0</text>
<text font-size="15" text-anchor="middle" transform="translate(254.43 346.4) scale(0.8 1)">5</text>
<text font-size="15" text-anchor="middle" transform="translate(465.27 346.4) scale(0.8 1)">10</text>
<text font-size="15" text-anchor="middle" transform="translate(676.1 346.4) scale(0.8 1)">15</text>
<text font-size="13.5" text-anchor="middle" transform="translate(12.7 289.5) rotate(-90) scale(1.2 1)">Vac(V)</text>
<text font-size="15" text-anchor="middle" transform="translate(361 364) scale(0.85 1)">Time(second)</text>
</svg></body></html>
